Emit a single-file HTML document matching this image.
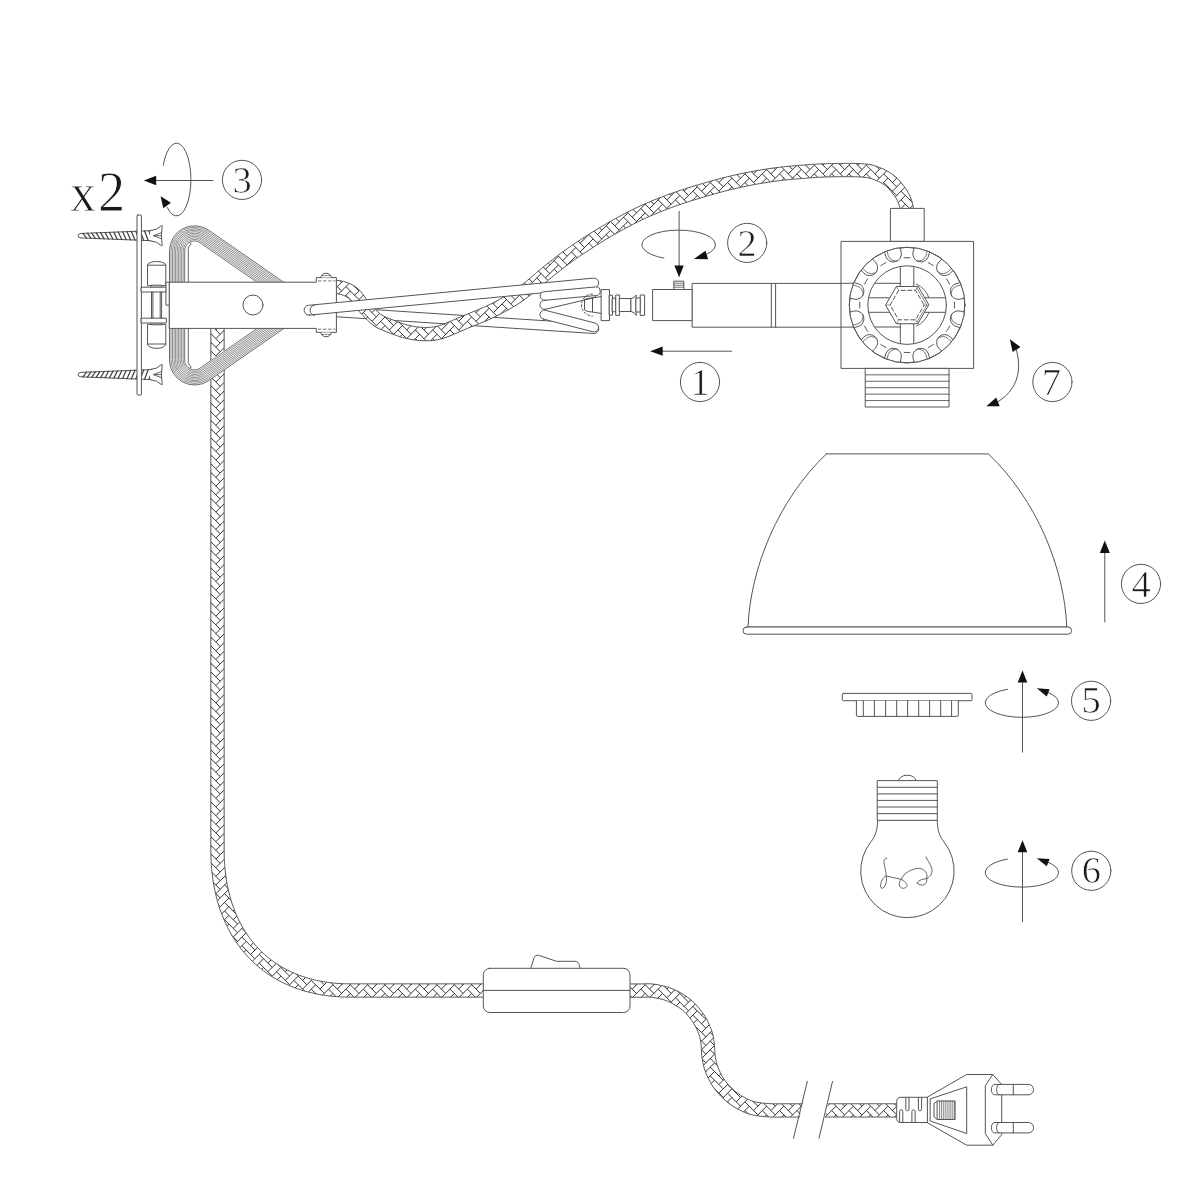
<!DOCTYPE html>
<html><head><meta charset="utf-8"><title>Assembly diagram</title>
<style>html,body{margin:0;padding:0;background:#fff;}svg{display:block;}</style></head>
<body>
<svg width="1200" height="1200" viewBox="0 0 1200 1200" font-family="Liberation Serif, serif">
<rect width="1200" height="1200" fill="#fff"/>
<g stroke="#555555" stroke-width="1.0" fill="none" stroke-linecap="round" stroke-linejoin="round">
<path d="M224.15,325.00 L224.15,327.00 L224.15,329.00 L224.15,331.00 L224.15,333.00 L224.15,335.00 L224.15,337.00 L224.15,339.00 L224.15,341.00 L224.15,343.00 L224.15,345.00 L224.15,347.00 L224.15,349.00 L224.15,351.00 L224.15,353.00 L224.15,355.00 L224.15,357.00 L224.15,359.00 L224.15,361.00 L224.15,363.00 L224.15,365.00 L224.15,367.00 L224.15,369.00 L224.15,371.00 L224.15,373.00 L224.15,375.00 L224.15,377.00 L224.15,379.00 L224.15,381.00 L224.15,383.00 L224.15,385.00 L224.15,387.00 L224.15,389.00 L224.15,391.00 L224.15,393.00 L224.15,395.00 L224.15,397.00 L224.15,399.00 L224.15,401.00 L224.15,403.00 L224.15,405.00 L224.15,407.00 L224.15,409.00 L224.15,411.00 L224.15,413.00 L224.15,415.00 L224.15,417.00 L224.15,419.00 L224.15,421.00 L224.15,423.00 L224.15,425.00 L224.15,427.00 L224.15,429.00 L224.15,431.00 L224.15,433.00 L224.15,435.00 L224.15,437.00 L224.15,439.00 L224.15,441.00 L224.15,443.00 L224.15,445.00 L224.15,447.00 L224.15,449.00 L224.15,451.00 L224.15,453.00 L224.15,455.00 L224.15,457.00 L224.15,459.00 L224.15,461.00 L224.15,463.00 L224.15,465.00 L224.15,467.00 L224.15,469.00 L224.15,471.00 L224.15,473.00 L224.15,475.00 L224.15,477.00 L224.15,479.00 L224.15,481.00 L224.15,483.00 L224.15,485.00 L224.15,487.00 L224.15,489.00 L224.15,491.00 L224.15,493.00 L224.15,495.00 L224.15,497.00 L224.15,499.00 L224.15,501.00 L224.15,503.00 L224.15,505.00 L224.15,507.00 L224.15,509.00 L224.15,511.00 L224.15,513.00 L224.15,515.00 L224.15,517.00 L224.15,519.00 L224.15,521.00 L224.15,523.00 L224.15,525.00 L224.15,527.00 L224.15,529.00 L224.15,531.00 L224.15,533.00 L224.15,535.00 L224.15,537.00 L224.15,539.00 L224.15,541.00 L224.15,543.00 L224.15,545.00 L224.15,547.00 L224.15,549.00 L224.15,551.00 L224.15,553.00 L224.15,555.00 L224.15,557.00 L224.15,559.00 L224.15,561.00 L224.15,563.00 L224.15,565.00 L224.15,567.00 L224.15,569.00 L224.15,571.00 L224.15,573.00 L224.15,575.00 L224.15,577.00 L224.15,579.00 L224.15,581.00 L224.15,583.00 L224.15,585.00 L224.15,587.00 L224.15,589.00 L224.15,591.00 L224.15,593.00 L224.15,595.00 L224.15,597.00 L224.15,599.00 L224.15,601.00 L224.15,603.00 L224.15,605.00 L224.15,607.00 L224.15,609.00 L224.15,611.00 L224.15,613.00 L224.15,615.00 L224.15,617.00 L224.15,619.00 L224.15,621.00 L224.15,623.00 L224.15,625.00 L224.15,627.00 L224.15,629.00 L224.15,631.00 L224.15,633.00 L224.15,635.00 L224.15,637.00 L224.15,639.00 L224.15,641.00 L224.15,643.00 L224.15,645.00 L224.15,647.00 L224.15,649.00 L224.15,651.00 L224.15,653.00 L224.15,655.00 L224.15,657.00 L224.15,659.00 L224.15,661.00 L224.15,663.00 L224.15,665.00 L224.15,667.00 L224.15,669.00 L224.15,671.00 L224.15,673.00 L224.15,675.00 L224.15,677.00 L224.15,679.00 L224.15,681.00 L224.15,683.00 L224.15,685.00 L224.15,687.00 L224.15,689.00 L224.15,691.00 L224.15,693.00 L224.15,695.00 L224.15,697.00 L224.15,699.00 L224.15,701.00 L224.15,703.00 L224.15,705.00 L224.15,707.00 L224.15,709.00 L224.15,711.00 L224.15,713.00 L224.15,715.00 L224.15,717.00 L224.15,719.00 L224.15,721.00 L224.15,723.00 L224.15,725.00 L224.15,727.00 L224.15,729.00 L224.15,731.00 L224.15,733.00 L224.15,735.00 L224.15,737.00 L224.15,739.00 L224.15,741.00 L224.15,743.00 L224.15,745.00 L224.15,747.00 L224.15,749.00 L224.15,751.00 L224.15,753.00 L224.15,755.00 L224.15,757.00 L224.15,759.00 L224.15,761.00 L224.15,763.00 L224.15,765.00 L224.15,767.00 L224.15,769.00 L224.15,771.00 L224.15,773.00 L224.15,775.00 L224.15,777.00 L224.15,779.00 L224.15,781.00 L224.15,783.00 L224.15,785.00 L224.15,787.00 L224.15,789.00 L224.15,791.00 L224.15,793.00 L224.15,795.00 L224.15,797.00 L224.15,799.00 L224.15,801.00 L224.15,803.00 L224.15,805.00 L224.15,807.00 L224.15,809.00 L224.15,811.00 L224.15,813.00 L224.15,815.00 L224.15,817.00 L224.15,819.00 L224.15,821.00 L224.15,823.00 L224.15,825.00 L224.15,827.00 L224.15,829.00 L224.15,831.00 L224.15,833.00 L224.15,835.00 L224.15,837.00 L224.15,839.00 L224.15,841.00 L224.15,843.00 L224.15,845.00 L224.15,847.00 L224.15,849.00 L224.16,850.95 L224.17,852.93 L224.21,854.85 L224.26,856.75 L224.34,858.75 L224.43,860.64 L224.53,862.57 L224.67,864.53 L224.82,866.42 L224.98,868.36 L225.18,870.29 L225.38,872.17 L225.61,874.13 L225.87,876.03 L226.13,877.90 L226.43,879.85 L226.74,881.74 L227.07,883.60 L227.43,885.52 L227.82,887.41 L228.21,889.25 L228.63,891.14 L229.09,893.03 L229.56,894.85 L230.04,896.69 L230.58,898.59 L231.11,900.39 L231.67,902.18 L232.27,904.04 L232.89,905.85 L233.52,907.61 L234.17,909.39 L234.88,911.22 L235.59,912.96 L236.32,914.68 L237.08,916.43 L237.90,918.21 L238.70,919.89 L239.53,921.56 L240.40,923.26 L241.32,924.98 L242.23,926.61 L243.15,928.22 L244.12,929.84 L245.15,931.50 L246.17,933.08 L247.20,934.62 L248.25,936.15 L249.38,937.72 L250.53,939.26 L251.66,940.72 L252.81,942.17 L254.01,943.63 L255.27,945.10 L256.52,946.50 L257.78,947.86 L259.05,949.20 L260.39,950.57 L261.78,951.91 L263.13,953.19 L264.50,954.43 L265.89,955.65 L267.36,956.90 L268.85,958.11 L270.30,959.25 L271.78,960.37 L273.29,961.48 L274.87,962.60 L276.44,963.65 L277.99,964.66 L279.55,965.65 L281.19,966.64 L282.87,967.61 L284.49,968.51 L286.12,969.39 L287.79,970.25 L289.53,971.11 L291.24,971.92 L292.93,972.68 L294.64,973.42 L296.44,974.17 L298.21,974.87 L299.95,975.52 L301.70,976.15 L303.56,976.79 L305.37,977.37 L307.15,977.92 L308.96,978.45 L310.85,978.97 L312.67,979.44 L314.49,979.89 L316.37,980.33 L318.27,980.73 L320.10,981.09 L321.95,981.44 L323.90,981.78 L325.76,982.07 L327.62,982.34 L329.57,982.60 L331.46,982.83 L333.33,983.03 L335.28,983.21 L337.20,983.37 L339.07,983.50 L341.03,983.62 L342.95,983.70 L344.84,983.77 L346.80,983.82 L348.72,983.84 L350.66,983.85 L352.66,983.85 L354.66,983.85 L356.66,983.85 L358.66,983.85 L360.66,983.85 L362.66,983.85 L364.66,983.85 L366.66,983.85 L368.66,983.85 L370.66,983.85 L372.66,983.85 L374.66,983.85 L376.66,983.85 L378.66,983.85 L380.66,983.85 L382.66,983.85 L384.66,983.85 L386.66,983.85 L388.66,983.85 L390.66,983.85 L392.66,983.85 L394.66,983.85 L396.66,983.85 L398.66,983.85 L400.66,983.85 L402.66,983.85 L404.66,983.85 L406.66,983.85 L408.66,983.85 L410.66,983.85 L412.66,983.85 L414.66,983.85 L416.66,983.85 L418.66,983.85 L420.66,983.85 L422.66,983.85 L424.66,983.85 L426.66,983.85 L428.66,983.85 L430.66,983.85 L432.66,983.85 L434.66,983.85 L436.66,983.85 L438.66,983.85 L440.66,983.85 L442.66,983.85 L444.66,983.85 L446.66,983.85 L448.66,983.85 L450.66,983.85 L452.66,983.85 L454.66,983.85 L456.66,983.85 L458.66,983.85 L460.66,983.85 L462.66,983.85 L464.66,983.85 L466.66,983.85 L468.66,983.85 L470.66,983.85 L472.66,983.85 L474.66,983.85 L476.66,983.85 L478.66,983.85 L480.66,983.85 L482.66,983.85 L484.66,983.85 L486.00,983.85 L486.00,997.15 L484.66,997.15 L482.66,997.15 L480.66,997.15 L478.66,997.15 L476.66,997.15 L474.66,997.15 L472.66,997.15 L470.66,997.15 L468.66,997.15 L466.66,997.15 L464.66,997.15 L462.66,997.15 L460.66,997.15 L458.66,997.15 L456.66,997.15 L454.66,997.15 L452.66,997.15 L450.66,997.15 L448.66,997.15 L446.66,997.15 L444.66,997.15 L442.66,997.15 L440.66,997.15 L438.66,997.15 L436.66,997.15 L434.66,997.15 L432.66,997.15 L430.66,997.15 L428.66,997.15 L426.66,997.15 L424.66,997.15 L422.66,997.15 L420.66,997.15 L418.66,997.15 L416.66,997.15 L414.66,997.15 L412.66,997.15 L410.66,997.15 L408.66,997.15 L406.66,997.15 L404.66,997.15 L402.66,997.15 L400.66,997.15 L398.66,997.15 L396.66,997.15 L394.66,997.15 L392.66,997.15 L390.66,997.15 L388.66,997.15 L386.66,997.15 L384.66,997.15 L382.66,997.15 L380.66,997.15 L378.66,997.15 L376.66,997.15 L374.66,997.15 L372.66,997.15 L370.66,997.15 L368.66,997.15 L366.66,997.15 L364.66,997.15 L362.66,997.15 L360.66,997.15 L358.66,997.15 L356.66,997.15 L354.66,997.15 L352.66,997.15 L350.66,997.15 L348.61,997.14 L346.53,997.12 L344.50,997.06 L342.38,996.99 L340.31,996.90 L338.27,996.78 L336.16,996.63 L334.09,996.46 L332.05,996.27 L329.95,996.04 L327.87,995.80 L325.85,995.53 L323.75,995.22 L321.66,994.89 L319.67,994.55 L317.59,994.16 L315.50,993.74 L313.49,993.31 L311.47,992.84 L309.40,992.33 L307.35,991.80 L305.39,991.26 L303.36,990.67 L301.32,990.04 L299.32,989.40 L297.39,988.73 L295.38,988.01 L293.37,987.26 L291.42,986.49 L289.53,985.70 L287.57,984.85 L285.62,983.97 L283.71,983.07 L281.86,982.16 L279.98,981.19 L278.08,980.17 L276.21,979.13 L274.43,978.10 L272.64,977.01 L270.82,975.87 L269.02,974.70 L267.28,973.52 L265.58,972.32 L263.87,971.07 L262.16,969.77 L260.47,968.44 L258.85,967.13 L257.27,965.79 L255.66,964.37 L254.07,962.92 L252.51,961.45 L251.03,960.01 L249.56,958.52 L248.08,956.97 L246.62,955.38 L245.22,953.80 L243.87,952.23 L242.53,950.60 L241.19,948.93 L239.88,947.23 L238.63,945.56 L237.43,943.88 L236.21,942.11 L235.02,940.33 L233.87,938.55 L232.79,936.81 L231.71,934.99 L230.64,933.14 L229.60,931.27 L228.63,929.46 L227.68,927.60 L226.73,925.69 L225.81,923.76 L224.96,921.90 L224.12,919.99 L223.29,918.02 L222.50,916.06 L221.76,914.16 L221.03,912.19 L220.31,910.18 L219.64,908.21 L219.01,906.26 L218.38,904.23 L217.78,902.20 L217.23,900.25 L216.69,898.22 L216.17,896.17 L215.68,894.17 L215.23,892.15 L214.79,890.08 L214.37,888.05 L214.00,886.04 L213.63,883.96 L213.29,881.91 L212.98,879.90 L212.68,877.81 L212.41,875.75 L212.17,873.73 L211.94,871.63 L211.74,869.58 L211.56,867.55 L211.40,865.45 L211.26,863.42 L211.15,861.35 L211.05,859.25 L210.97,857.25 L210.92,855.15 L210.87,853.07 L210.86,851.05 L210.85,849.00 L210.85,847.00 L210.85,845.00 L210.85,843.00 L210.85,841.00 L210.85,839.00 L210.85,837.00 L210.85,835.00 L210.85,833.00 L210.85,831.00 L210.85,829.00 L210.85,827.00 L210.85,825.00 L210.85,823.00 L210.85,821.00 L210.85,819.00 L210.85,817.00 L210.85,815.00 L210.85,813.00 L210.85,811.00 L210.85,809.00 L210.85,807.00 L210.85,805.00 L210.85,803.00 L210.85,801.00 L210.85,799.00 L210.85,797.00 L210.85,795.00 L210.85,793.00 L210.85,791.00 L210.85,789.00 L210.85,787.00 L210.85,785.00 L210.85,783.00 L210.85,781.00 L210.85,779.00 L210.85,777.00 L210.85,775.00 L210.85,773.00 L210.85,771.00 L210.85,769.00 L210.85,767.00 L210.85,765.00 L210.85,763.00 L210.85,761.00 L210.85,759.00 L210.85,757.00 L210.85,755.00 L210.85,753.00 L210.85,751.00 L210.85,749.00 L210.85,747.00 L210.85,745.00 L210.85,743.00 L210.85,741.00 L210.85,739.00 L210.85,737.00 L210.85,735.00 L210.85,733.00 L210.85,731.00 L210.85,729.00 L210.85,727.00 L210.85,725.00 L210.85,723.00 L210.85,721.00 L210.85,719.00 L210.85,717.00 L210.85,715.00 L210.85,713.00 L210.85,711.00 L210.85,709.00 L210.85,707.00 L210.85,705.00 L210.85,703.00 L210.85,701.00 L210.85,699.00 L210.85,697.00 L210.85,695.00 L210.85,693.00 L210.85,691.00 L210.85,689.00 L210.85,687.00 L210.85,685.00 L210.85,683.00 L210.85,681.00 L210.85,679.00 L210.85,677.00 L210.85,675.00 L210.85,673.00 L210.85,671.00 L210.85,669.00 L210.85,667.00 L210.85,665.00 L210.85,663.00 L210.85,661.00 L210.85,659.00 L210.85,657.00 L210.85,655.00 L210.85,653.00 L210.85,651.00 L210.85,649.00 L210.85,647.00 L210.85,645.00 L210.85,643.00 L210.85,641.00 L210.85,639.00 L210.85,637.00 L210.85,635.00 L210.85,633.00 L210.85,631.00 L210.85,629.00 L210.85,627.00 L210.85,625.00 L210.85,623.00 L210.85,621.00 L210.85,619.00 L210.85,617.00 L210.85,615.00 L210.85,613.00 L210.85,611.00 L210.85,609.00 L210.85,607.00 L210.85,605.00 L210.85,603.00 L210.85,601.00 L210.85,599.00 L210.85,597.00 L210.85,595.00 L210.85,593.00 L210.85,591.00 L210.85,589.00 L210.85,587.00 L210.85,585.00 L210.85,583.00 L210.85,581.00 L210.85,579.00 L210.85,577.00 L210.85,575.00 L210.85,573.00 L210.85,571.00 L210.85,569.00 L210.85,567.00 L210.85,565.00 L210.85,563.00 L210.85,561.00 L210.85,559.00 L210.85,557.00 L210.85,555.00 L210.85,553.00 L210.85,551.00 L210.85,549.00 L210.85,547.00 L210.85,545.00 L210.85,543.00 L210.85,541.00 L210.85,539.00 L210.85,537.00 L210.85,535.00 L210.85,533.00 L210.85,531.00 L210.85,529.00 L210.85,527.00 L210.85,525.00 L210.85,523.00 L210.85,521.00 L210.85,519.00 L210.85,517.00 L210.85,515.00 L210.85,513.00 L210.85,511.00 L210.85,509.00 L210.85,507.00 L210.85,505.00 L210.85,503.00 L210.85,501.00 L210.85,499.00 L210.85,497.00 L210.85,495.00 L210.85,493.00 L210.85,491.00 L210.85,489.00 L210.85,487.00 L210.85,485.00 L210.85,483.00 L210.85,481.00 L210.85,479.00 L210.85,477.00 L210.85,475.00 L210.85,473.00 L210.85,471.00 L210.85,469.00 L210.85,467.00 L210.85,465.00 L210.85,463.00 L210.85,461.00 L210.85,459.00 L210.85,457.00 L210.85,455.00 L210.85,453.00 L210.85,451.00 L210.85,449.00 L210.85,447.00 L210.85,445.00 L210.85,443.00 L210.85,441.00 L210.85,439.00 L210.85,437.00 L210.85,435.00 L210.85,433.00 L210.85,431.00 L210.85,429.00 L210.85,427.00 L210.85,425.00 L210.85,423.00 L210.85,421.00 L210.85,419.00 L210.85,417.00 L210.85,415.00 L210.85,413.00 L210.85,411.00 L210.85,409.00 L210.85,407.00 L210.85,405.00 L210.85,403.00 L210.85,401.00 L210.85,399.00 L210.85,397.00 L210.85,395.00 L210.85,393.00 L210.85,391.00 L210.85,389.00 L210.85,387.00 L210.85,385.00 L210.85,383.00 L210.85,381.00 L210.85,379.00 L210.85,377.00 L210.85,375.00 L210.85,373.00 L210.85,371.00 L210.85,369.00 L210.85,367.00 L210.85,365.00 L210.85,363.00 L210.85,361.00 L210.85,359.00 L210.85,357.00 L210.85,355.00 L210.85,353.00 L210.85,351.00 L210.85,349.00 L210.85,347.00 L210.85,345.00 L210.85,343.00 L210.85,341.00 L210.85,339.00 L210.85,337.00 L210.85,335.00 L210.85,333.00 L210.85,331.00 L210.85,329.00 L210.85,327.00 L210.85,325.00Z" fill="#fff" stroke="none"/>
<clipPath id="cb1"><path d="M224.15,325.00 L224.15,327.00 L224.15,329.00 L224.15,331.00 L224.15,333.00 L224.15,335.00 L224.15,337.00 L224.15,339.00 L224.15,341.00 L224.15,343.00 L224.15,345.00 L224.15,347.00 L224.15,349.00 L224.15,351.00 L224.15,353.00 L224.15,355.00 L224.15,357.00 L224.15,359.00 L224.15,361.00 L224.15,363.00 L224.15,365.00 L224.15,367.00 L224.15,369.00 L224.15,371.00 L224.15,373.00 L224.15,375.00 L224.15,377.00 L224.15,379.00 L224.15,381.00 L224.15,383.00 L224.15,385.00 L224.15,387.00 L224.15,389.00 L224.15,391.00 L224.15,393.00 L224.15,395.00 L224.15,397.00 L224.15,399.00 L224.15,401.00 L224.15,403.00 L224.15,405.00 L224.15,407.00 L224.15,409.00 L224.15,411.00 L224.15,413.00 L224.15,415.00 L224.15,417.00 L224.15,419.00 L224.15,421.00 L224.15,423.00 L224.15,425.00 L224.15,427.00 L224.15,429.00 L224.15,431.00 L224.15,433.00 L224.15,435.00 L224.15,437.00 L224.15,439.00 L224.15,441.00 L224.15,443.00 L224.15,445.00 L224.15,447.00 L224.15,449.00 L224.15,451.00 L224.15,453.00 L224.15,455.00 L224.15,457.00 L224.15,459.00 L224.15,461.00 L224.15,463.00 L224.15,465.00 L224.15,467.00 L224.15,469.00 L224.15,471.00 L224.15,473.00 L224.15,475.00 L224.15,477.00 L224.15,479.00 L224.15,481.00 L224.15,483.00 L224.15,485.00 L224.15,487.00 L224.15,489.00 L224.15,491.00 L224.15,493.00 L224.15,495.00 L224.15,497.00 L224.15,499.00 L224.15,501.00 L224.15,503.00 L224.15,505.00 L224.15,507.00 L224.15,509.00 L224.15,511.00 L224.15,513.00 L224.15,515.00 L224.15,517.00 L224.15,519.00 L224.15,521.00 L224.15,523.00 L224.15,525.00 L224.15,527.00 L224.15,529.00 L224.15,531.00 L224.15,533.00 L224.15,535.00 L224.15,537.00 L224.15,539.00 L224.15,541.00 L224.15,543.00 L224.15,545.00 L224.15,547.00 L224.15,549.00 L224.15,551.00 L224.15,553.00 L224.15,555.00 L224.15,557.00 L224.15,559.00 L224.15,561.00 L224.15,563.00 L224.15,565.00 L224.15,567.00 L224.15,569.00 L224.15,571.00 L224.15,573.00 L224.15,575.00 L224.15,577.00 L224.15,579.00 L224.15,581.00 L224.15,583.00 L224.15,585.00 L224.15,587.00 L224.15,589.00 L224.15,591.00 L224.15,593.00 L224.15,595.00 L224.15,597.00 L224.15,599.00 L224.15,601.00 L224.15,603.00 L224.15,605.00 L224.15,607.00 L224.15,609.00 L224.15,611.00 L224.15,613.00 L224.15,615.00 L224.15,617.00 L224.15,619.00 L224.15,621.00 L224.15,623.00 L224.15,625.00 L224.15,627.00 L224.15,629.00 L224.15,631.00 L224.15,633.00 L224.15,635.00 L224.15,637.00 L224.15,639.00 L224.15,641.00 L224.15,643.00 L224.15,645.00 L224.15,647.00 L224.15,649.00 L224.15,651.00 L224.15,653.00 L224.15,655.00 L224.15,657.00 L224.15,659.00 L224.15,661.00 L224.15,663.00 L224.15,665.00 L224.15,667.00 L224.15,669.00 L224.15,671.00 L224.15,673.00 L224.15,675.00 L224.15,677.00 L224.15,679.00 L224.15,681.00 L224.15,683.00 L224.15,685.00 L224.15,687.00 L224.15,689.00 L224.15,691.00 L224.15,693.00 L224.15,695.00 L224.15,697.00 L224.15,699.00 L224.15,701.00 L224.15,703.00 L224.15,705.00 L224.15,707.00 L224.15,709.00 L224.15,711.00 L224.15,713.00 L224.15,715.00 L224.15,717.00 L224.15,719.00 L224.15,721.00 L224.15,723.00 L224.15,725.00 L224.15,727.00 L224.15,729.00 L224.15,731.00 L224.15,733.00 L224.15,735.00 L224.15,737.00 L224.15,739.00 L224.15,741.00 L224.15,743.00 L224.15,745.00 L224.15,747.00 L224.15,749.00 L224.15,751.00 L224.15,753.00 L224.15,755.00 L224.15,757.00 L224.15,759.00 L224.15,761.00 L224.15,763.00 L224.15,765.00 L224.15,767.00 L224.15,769.00 L224.15,771.00 L224.15,773.00 L224.15,775.00 L224.15,777.00 L224.15,779.00 L224.15,781.00 L224.15,783.00 L224.15,785.00 L224.15,787.00 L224.15,789.00 L224.15,791.00 L224.15,793.00 L224.15,795.00 L224.15,797.00 L224.15,799.00 L224.15,801.00 L224.15,803.00 L224.15,805.00 L224.15,807.00 L224.15,809.00 L224.15,811.00 L224.15,813.00 L224.15,815.00 L224.15,817.00 L224.15,819.00 L224.15,821.00 L224.15,823.00 L224.15,825.00 L224.15,827.00 L224.15,829.00 L224.15,831.00 L224.15,833.00 L224.15,835.00 L224.15,837.00 L224.15,839.00 L224.15,841.00 L224.15,843.00 L224.15,845.00 L224.15,847.00 L224.15,849.00 L224.16,850.95 L224.17,852.93 L224.21,854.85 L224.26,856.75 L224.34,858.75 L224.43,860.64 L224.53,862.57 L224.67,864.53 L224.82,866.42 L224.98,868.36 L225.18,870.29 L225.38,872.17 L225.61,874.13 L225.87,876.03 L226.13,877.90 L226.43,879.85 L226.74,881.74 L227.07,883.60 L227.43,885.52 L227.82,887.41 L228.21,889.25 L228.63,891.14 L229.09,893.03 L229.56,894.85 L230.04,896.69 L230.58,898.59 L231.11,900.39 L231.67,902.18 L232.27,904.04 L232.89,905.85 L233.52,907.61 L234.17,909.39 L234.88,911.22 L235.59,912.96 L236.32,914.68 L237.08,916.43 L237.90,918.21 L238.70,919.89 L239.53,921.56 L240.40,923.26 L241.32,924.98 L242.23,926.61 L243.15,928.22 L244.12,929.84 L245.15,931.50 L246.17,933.08 L247.20,934.62 L248.25,936.15 L249.38,937.72 L250.53,939.26 L251.66,940.72 L252.81,942.17 L254.01,943.63 L255.27,945.10 L256.52,946.50 L257.78,947.86 L259.05,949.20 L260.39,950.57 L261.78,951.91 L263.13,953.19 L264.50,954.43 L265.89,955.65 L267.36,956.90 L268.85,958.11 L270.30,959.25 L271.78,960.37 L273.29,961.48 L274.87,962.60 L276.44,963.65 L277.99,964.66 L279.55,965.65 L281.19,966.64 L282.87,967.61 L284.49,968.51 L286.12,969.39 L287.79,970.25 L289.53,971.11 L291.24,971.92 L292.93,972.68 L294.64,973.42 L296.44,974.17 L298.21,974.87 L299.95,975.52 L301.70,976.15 L303.56,976.79 L305.37,977.37 L307.15,977.92 L308.96,978.45 L310.85,978.97 L312.67,979.44 L314.49,979.89 L316.37,980.33 L318.27,980.73 L320.10,981.09 L321.95,981.44 L323.90,981.78 L325.76,982.07 L327.62,982.34 L329.57,982.60 L331.46,982.83 L333.33,983.03 L335.28,983.21 L337.20,983.37 L339.07,983.50 L341.03,983.62 L342.95,983.70 L344.84,983.77 L346.80,983.82 L348.72,983.84 L350.66,983.85 L352.66,983.85 L354.66,983.85 L356.66,983.85 L358.66,983.85 L360.66,983.85 L362.66,983.85 L364.66,983.85 L366.66,983.85 L368.66,983.85 L370.66,983.85 L372.66,983.85 L374.66,983.85 L376.66,983.85 L378.66,983.85 L380.66,983.85 L382.66,983.85 L384.66,983.85 L386.66,983.85 L388.66,983.85 L390.66,983.85 L392.66,983.85 L394.66,983.85 L396.66,983.85 L398.66,983.85 L400.66,983.85 L402.66,983.85 L404.66,983.85 L406.66,983.85 L408.66,983.85 L410.66,983.85 L412.66,983.85 L414.66,983.85 L416.66,983.85 L418.66,983.85 L420.66,983.85 L422.66,983.85 L424.66,983.85 L426.66,983.85 L428.66,983.85 L430.66,983.85 L432.66,983.85 L434.66,983.85 L436.66,983.85 L438.66,983.85 L440.66,983.85 L442.66,983.85 L444.66,983.85 L446.66,983.85 L448.66,983.85 L450.66,983.85 L452.66,983.85 L454.66,983.85 L456.66,983.85 L458.66,983.85 L460.66,983.85 L462.66,983.85 L464.66,983.85 L466.66,983.85 L468.66,983.85 L470.66,983.85 L472.66,983.85 L474.66,983.85 L476.66,983.85 L478.66,983.85 L480.66,983.85 L482.66,983.85 L484.66,983.85 L486.00,983.85 L486.00,997.15 L484.66,997.15 L482.66,997.15 L480.66,997.15 L478.66,997.15 L476.66,997.15 L474.66,997.15 L472.66,997.15 L470.66,997.15 L468.66,997.15 L466.66,997.15 L464.66,997.15 L462.66,997.15 L460.66,997.15 L458.66,997.15 L456.66,997.15 L454.66,997.15 L452.66,997.15 L450.66,997.15 L448.66,997.15 L446.66,997.15 L444.66,997.15 L442.66,997.15 L440.66,997.15 L438.66,997.15 L436.66,997.15 L434.66,997.15 L432.66,997.15 L430.66,997.15 L428.66,997.15 L426.66,997.15 L424.66,997.15 L422.66,997.15 L420.66,997.15 L418.66,997.15 L416.66,997.15 L414.66,997.15 L412.66,997.15 L410.66,997.15 L408.66,997.15 L406.66,997.15 L404.66,997.15 L402.66,997.15 L400.66,997.15 L398.66,997.15 L396.66,997.15 L394.66,997.15 L392.66,997.15 L390.66,997.15 L388.66,997.15 L386.66,997.15 L384.66,997.15 L382.66,997.15 L380.66,997.15 L378.66,997.15 L376.66,997.15 L374.66,997.15 L372.66,997.15 L370.66,997.15 L368.66,997.15 L366.66,997.15 L364.66,997.15 L362.66,997.15 L360.66,997.15 L358.66,997.15 L356.66,997.15 L354.66,997.15 L352.66,997.15 L350.66,997.15 L348.61,997.14 L346.53,997.12 L344.50,997.06 L342.38,996.99 L340.31,996.90 L338.27,996.78 L336.16,996.63 L334.09,996.46 L332.05,996.27 L329.95,996.04 L327.87,995.80 L325.85,995.53 L323.75,995.22 L321.66,994.89 L319.67,994.55 L317.59,994.16 L315.50,993.74 L313.49,993.31 L311.47,992.84 L309.40,992.33 L307.35,991.80 L305.39,991.26 L303.36,990.67 L301.32,990.04 L299.32,989.40 L297.39,988.73 L295.38,988.01 L293.37,987.26 L291.42,986.49 L289.53,985.70 L287.57,984.85 L285.62,983.97 L283.71,983.07 L281.86,982.16 L279.98,981.19 L278.08,980.17 L276.21,979.13 L274.43,978.10 L272.64,977.01 L270.82,975.87 L269.02,974.70 L267.28,973.52 L265.58,972.32 L263.87,971.07 L262.16,969.77 L260.47,968.44 L258.85,967.13 L257.27,965.79 L255.66,964.37 L254.07,962.92 L252.51,961.45 L251.03,960.01 L249.56,958.52 L248.08,956.97 L246.62,955.38 L245.22,953.80 L243.87,952.23 L242.53,950.60 L241.19,948.93 L239.88,947.23 L238.63,945.56 L237.43,943.88 L236.21,942.11 L235.02,940.33 L233.87,938.55 L232.79,936.81 L231.71,934.99 L230.64,933.14 L229.60,931.27 L228.63,929.46 L227.68,927.60 L226.73,925.69 L225.81,923.76 L224.96,921.90 L224.12,919.99 L223.29,918.02 L222.50,916.06 L221.76,914.16 L221.03,912.19 L220.31,910.18 L219.64,908.21 L219.01,906.26 L218.38,904.23 L217.78,902.20 L217.23,900.25 L216.69,898.22 L216.17,896.17 L215.68,894.17 L215.23,892.15 L214.79,890.08 L214.37,888.05 L214.00,886.04 L213.63,883.96 L213.29,881.91 L212.98,879.90 L212.68,877.81 L212.41,875.75 L212.17,873.73 L211.94,871.63 L211.74,869.58 L211.56,867.55 L211.40,865.45 L211.26,863.42 L211.15,861.35 L211.05,859.25 L210.97,857.25 L210.92,855.15 L210.87,853.07 L210.86,851.05 L210.85,849.00 L210.85,847.00 L210.85,845.00 L210.85,843.00 L210.85,841.00 L210.85,839.00 L210.85,837.00 L210.85,835.00 L210.85,833.00 L210.85,831.00 L210.85,829.00 L210.85,827.00 L210.85,825.00 L210.85,823.00 L210.85,821.00 L210.85,819.00 L210.85,817.00 L210.85,815.00 L210.85,813.00 L210.85,811.00 L210.85,809.00 L210.85,807.00 L210.85,805.00 L210.85,803.00 L210.85,801.00 L210.85,799.00 L210.85,797.00 L210.85,795.00 L210.85,793.00 L210.85,791.00 L210.85,789.00 L210.85,787.00 L210.85,785.00 L210.85,783.00 L210.85,781.00 L210.85,779.00 L210.85,777.00 L210.85,775.00 L210.85,773.00 L210.85,771.00 L210.85,769.00 L210.85,767.00 L210.85,765.00 L210.85,763.00 L210.85,761.00 L210.85,759.00 L210.85,757.00 L210.85,755.00 L210.85,753.00 L210.85,751.00 L210.85,749.00 L210.85,747.00 L210.85,745.00 L210.85,743.00 L210.85,741.00 L210.85,739.00 L210.85,737.00 L210.85,735.00 L210.85,733.00 L210.85,731.00 L210.85,729.00 L210.85,727.00 L210.85,725.00 L210.85,723.00 L210.85,721.00 L210.85,719.00 L210.85,717.00 L210.85,715.00 L210.85,713.00 L210.85,711.00 L210.85,709.00 L210.85,707.00 L210.85,705.00 L210.85,703.00 L210.85,701.00 L210.85,699.00 L210.85,697.00 L210.85,695.00 L210.85,693.00 L210.85,691.00 L210.85,689.00 L210.85,687.00 L210.85,685.00 L210.85,683.00 L210.85,681.00 L210.85,679.00 L210.85,677.00 L210.85,675.00 L210.85,673.00 L210.85,671.00 L210.85,669.00 L210.85,667.00 L210.85,665.00 L210.85,663.00 L210.85,661.00 L210.85,659.00 L210.85,657.00 L210.85,655.00 L210.85,653.00 L210.85,651.00 L210.85,649.00 L210.85,647.00 L210.85,645.00 L210.85,643.00 L210.85,641.00 L210.85,639.00 L210.85,637.00 L210.85,635.00 L210.85,633.00 L210.85,631.00 L210.85,629.00 L210.85,627.00 L210.85,625.00 L210.85,623.00 L210.85,621.00 L210.85,619.00 L210.85,617.00 L210.85,615.00 L210.85,613.00 L210.85,611.00 L210.85,609.00 L210.85,607.00 L210.85,605.00 L210.85,603.00 L210.85,601.00 L210.85,599.00 L210.85,597.00 L210.85,595.00 L210.85,593.00 L210.85,591.00 L210.85,589.00 L210.85,587.00 L210.85,585.00 L210.85,583.00 L210.85,581.00 L210.85,579.00 L210.85,577.00 L210.85,575.00 L210.85,573.00 L210.85,571.00 L210.85,569.00 L210.85,567.00 L210.85,565.00 L210.85,563.00 L210.85,561.00 L210.85,559.00 L210.85,557.00 L210.85,555.00 L210.85,553.00 L210.85,551.00 L210.85,549.00 L210.85,547.00 L210.85,545.00 L210.85,543.00 L210.85,541.00 L210.85,539.00 L210.85,537.00 L210.85,535.00 L210.85,533.00 L210.85,531.00 L210.85,529.00 L210.85,527.00 L210.85,525.00 L210.85,523.00 L210.85,521.00 L210.85,519.00 L210.85,517.00 L210.85,515.00 L210.85,513.00 L210.85,511.00 L210.85,509.00 L210.85,507.00 L210.85,505.00 L210.85,503.00 L210.85,501.00 L210.85,499.00 L210.85,497.00 L210.85,495.00 L210.85,493.00 L210.85,491.00 L210.85,489.00 L210.85,487.00 L210.85,485.00 L210.85,483.00 L210.85,481.00 L210.85,479.00 L210.85,477.00 L210.85,475.00 L210.85,473.00 L210.85,471.00 L210.85,469.00 L210.85,467.00 L210.85,465.00 L210.85,463.00 L210.85,461.00 L210.85,459.00 L210.85,457.00 L210.85,455.00 L210.85,453.00 L210.85,451.00 L210.85,449.00 L210.85,447.00 L210.85,445.00 L210.85,443.00 L210.85,441.00 L210.85,439.00 L210.85,437.00 L210.85,435.00 L210.85,433.00 L210.85,431.00 L210.85,429.00 L210.85,427.00 L210.85,425.00 L210.85,423.00 L210.85,421.00 L210.85,419.00 L210.85,417.00 L210.85,415.00 L210.85,413.00 L210.85,411.00 L210.85,409.00 L210.85,407.00 L210.85,405.00 L210.85,403.00 L210.85,401.00 L210.85,399.00 L210.85,397.00 L210.85,395.00 L210.85,393.00 L210.85,391.00 L210.85,389.00 L210.85,387.00 L210.85,385.00 L210.85,383.00 L210.85,381.00 L210.85,379.00 L210.85,377.00 L210.85,375.00 L210.85,373.00 L210.85,371.00 L210.85,369.00 L210.85,367.00 L210.85,365.00 L210.85,363.00 L210.85,361.00 L210.85,359.00 L210.85,357.00 L210.85,355.00 L210.85,353.00 L210.85,351.00 L210.85,349.00 L210.85,347.00 L210.85,345.00 L210.85,343.00 L210.85,341.00 L210.85,339.00 L210.85,337.00 L210.85,335.00 L210.85,333.00 L210.85,331.00 L210.85,329.00 L210.85,327.00 L210.85,325.00Z"/></clipPath>
<path clip-path="url(#cb1)" d="M189.84,286.59L202.85,299.60M211.53,290.92L198.52,303.93M189.84,295.26L202.85,308.27M211.53,299.60L198.52,312.61M189.84,303.93L202.85,316.94M211.53,308.27L198.52,321.28M189.84,312.61L202.85,325.62M211.53,316.94L198.52,329.95M189.84,321.28L202.85,334.29M211.53,325.62L198.52,338.63M189.84,329.95L202.85,342.96M211.53,334.29L198.52,347.30M189.84,338.63L202.85,351.63M211.53,342.96L198.52,355.97M189.84,347.30L202.85,360.31M211.53,351.63L198.52,364.64M189.84,355.97L202.85,368.98M211.53,360.31L198.52,373.32M189.84,364.64L202.85,377.65M211.53,368.98L198.52,381.99M189.84,373.32L202.85,386.33M211.53,377.65L198.52,390.66M189.84,381.99L202.85,395.00M211.53,386.33L198.52,399.34M189.84,390.66L202.85,403.67M211.53,395.00L198.52,408.01M189.84,399.34L202.85,412.35M211.53,403.67L198.52,416.68M189.84,408.01L202.85,421.02M211.53,412.35L198.52,425.36M189.84,416.68L202.85,429.69M211.53,421.02L198.52,434.03M189.84,425.36L202.85,438.37M211.53,429.69L198.52,442.70M189.84,434.03L202.85,447.04M211.53,438.37L198.52,451.37M189.84,442.70L202.85,455.71M211.53,447.04L198.52,460.05M189.84,451.37L202.85,464.38M211.53,455.71L198.52,468.72M189.84,460.05L202.85,473.06M211.53,464.38L198.52,477.39M189.84,468.72L202.85,481.73M211.53,473.06L198.52,486.07M189.84,477.39L202.85,490.40M211.53,481.73L198.52,494.74M189.84,486.07L202.85,499.08M211.53,490.40L198.52,503.41M189.84,494.74L202.85,507.75M211.53,499.08L198.52,512.09M189.84,503.41L202.85,516.42M211.53,507.75L198.52,520.76M189.84,512.09L202.85,525.10M211.53,516.42L198.52,529.43M189.84,520.76L202.85,533.77M211.53,525.10L198.52,538.10M189.84,529.43L202.85,542.44M211.53,533.77L198.52,546.78M189.84,538.10L202.85,551.11M211.53,542.44L198.52,555.45M189.84,546.78L202.85,559.79M211.53,551.11L198.52,564.12M189.84,555.45L202.85,568.46M211.53,559.79L198.52,572.80M189.84,564.12L202.85,577.13M211.53,568.46L198.52,581.47M189.84,572.80L202.85,585.81M211.53,577.13L198.52,590.14M189.84,581.47L202.85,594.48M211.53,585.81L198.52,598.82M189.84,590.14L202.85,603.15M211.53,594.48L198.52,607.49M189.84,598.82L202.85,611.83M211.53,603.15L198.52,616.16M189.84,607.49L202.85,620.50M211.53,611.83L198.52,624.83M189.84,616.16L202.85,629.17M211.53,620.50L198.52,633.51M189.84,624.83L202.85,637.84M211.53,629.17L198.52,642.18M189.84,633.51L202.85,646.52M211.53,637.84L198.52,650.85M189.84,642.18L202.85,655.19M211.53,646.52L198.52,659.53M189.84,650.85L202.85,663.86M211.53,655.19L198.52,668.20M189.84,659.53L202.85,672.54M211.53,663.86L198.52,676.87M189.84,668.20L202.85,681.21M211.53,672.54L198.52,685.55M189.84,676.87L202.85,689.88M211.53,681.21L198.52,694.22M189.84,685.55L202.85,698.56M211.53,689.88L198.52,702.89M189.84,694.22L202.85,707.23M211.53,698.56L198.52,711.56M189.84,702.89L202.85,715.90M211.53,707.23L198.52,720.24M189.84,711.56L202.85,724.57M211.53,715.90L198.52,728.91M189.84,720.24L202.85,733.25M211.53,724.57L198.52,737.58M189.84,728.91L202.85,741.92M211.53,733.25L198.52,746.26M189.84,737.58L202.85,750.59M211.53,741.92L198.52,754.93M189.84,746.26L202.85,759.27M211.53,750.59L198.52,763.60M189.84,754.93L202.85,767.94M211.53,759.27L198.52,772.28M189.84,763.60L202.85,776.61M211.53,767.94L198.52,780.95M189.84,772.28L202.85,785.29M211.53,776.61L198.52,789.62M189.84,780.95L202.85,793.96M211.53,785.29L198.52,798.29M189.84,789.62L202.85,802.63M211.53,793.96L198.52,806.97M189.84,798.29L202.85,811.30M211.53,802.63L198.52,815.64M189.84,806.97L202.85,819.98M211.53,811.30L198.52,824.31M189.84,815.64L202.85,828.65M211.53,819.98L198.52,832.99M189.84,824.31L202.85,837.32M211.53,828.65L198.52,841.66M189.84,832.99L202.85,846.00M211.53,837.32L198.52,850.33M189.84,841.66L202.85,854.67M211.53,846.00L198.52,859.01M189.84,850.33L202.85,863.34M211.53,854.67L198.52,867.68M189.84,859.01L202.85,872.01M211.53,863.34L198.52,876.35M189.84,867.68L202.85,880.69M211.53,872.01L198.52,885.02M189.84,876.35L202.85,889.36M211.53,880.69L198.52,893.70M189.84,885.02L202.85,898.03M211.53,889.36L198.52,902.37M189.84,893.70L202.85,906.71M211.53,898.03L198.52,911.04M189.84,902.37L202.85,915.38M211.53,906.71L198.52,919.72M189.84,911.04L202.85,924.05M211.53,915.38L198.52,928.39M207.19,286.59L220.20,299.60M228.87,290.92L215.86,303.93M207.19,295.26L220.20,308.27M228.87,299.60L215.86,312.61M207.19,303.93L220.20,316.94M228.87,308.27L215.86,321.28M207.19,312.61L220.20,325.62M228.87,316.94L215.86,329.95M207.19,321.28L220.20,334.29M228.87,325.62L215.86,338.63M207.19,329.95L220.20,342.96M228.87,334.29L215.86,347.30M207.19,338.63L220.20,351.63M228.87,342.96L215.86,355.97M207.19,347.30L220.20,360.31M228.87,351.63L215.86,364.64M207.19,355.97L220.20,368.98M228.87,360.31L215.86,373.32M207.19,364.64L220.20,377.65M228.87,368.98L215.86,381.99M207.19,373.32L220.20,386.33M228.87,377.65L215.86,390.66M207.19,381.99L220.20,395.00M228.87,386.33L215.86,399.34M207.19,390.66L220.20,403.67M228.87,395.00L215.86,408.01M207.19,399.34L220.20,412.35M228.87,403.67L215.86,416.68M207.19,408.01L220.20,421.02M228.87,412.35L215.86,425.36M207.19,416.68L220.20,429.69M228.87,421.02L215.86,434.03M207.19,425.36L220.20,438.37M228.87,429.69L215.86,442.70M207.19,434.03L220.20,447.04M228.87,438.37L215.86,451.37M207.19,442.70L220.20,455.71M228.87,447.04L215.86,460.05M207.19,451.37L220.20,464.38M228.87,455.71L215.86,468.72M207.19,460.05L220.20,473.06M228.87,464.38L215.86,477.39M207.19,468.72L220.20,481.73M228.87,473.06L215.86,486.07M207.19,477.39L220.20,490.40M228.87,481.73L215.86,494.74M207.19,486.07L220.20,499.08M228.87,490.40L215.86,503.41M207.19,494.74L220.20,507.75M228.87,499.08L215.86,512.09M207.19,503.41L220.20,516.42M228.87,507.75L215.86,520.76M207.19,512.09L220.20,525.10M228.87,516.42L215.86,529.43M207.19,520.76L220.20,533.77M228.87,525.10L215.86,538.10M207.19,529.43L220.20,542.44M228.87,533.77L215.86,546.78M207.19,538.10L220.20,551.11M228.87,542.44L215.86,555.45M207.19,546.78L220.20,559.79M228.87,551.11L215.86,564.12M207.19,555.45L220.20,568.46M228.87,559.79L215.86,572.80M207.19,564.12L220.20,577.13M228.87,568.46L215.86,581.47M207.19,572.80L220.20,585.81M228.87,577.13L215.86,590.14M207.19,581.47L220.20,594.48M228.87,585.81L215.86,598.82M207.19,590.14L220.20,603.15M228.87,594.48L215.86,607.49M207.19,598.82L220.20,611.83M228.87,603.15L215.86,616.16M207.19,607.49L220.20,620.50M228.87,611.83L215.86,624.83M207.19,616.16L220.20,629.17M228.87,620.50L215.86,633.51M207.19,624.83L220.20,637.84M228.87,629.17L215.86,642.18M207.19,633.51L220.20,646.52M228.87,637.84L215.86,650.85M207.19,642.18L220.20,655.19M228.87,646.52L215.86,659.53M207.19,650.85L220.20,663.86M228.87,655.19L215.86,668.20M207.19,659.53L220.20,672.54M228.87,663.86L215.86,676.87M207.19,668.20L220.20,681.21M228.87,672.54L215.86,685.55M207.19,676.87L220.20,689.88M228.87,681.21L215.86,694.22M207.19,685.55L220.20,698.56M228.87,689.88L215.86,702.89M207.19,694.22L220.20,707.23M228.87,698.56L215.86,711.56M207.19,702.89L220.20,715.90M228.87,707.23L215.86,720.24M207.19,711.56L220.20,724.57M228.87,715.90L215.86,728.91M207.19,720.24L220.20,733.25M228.87,724.57L215.86,737.58M207.19,728.91L220.20,741.92M228.87,733.25L215.86,746.26M207.19,737.58L220.20,750.59M228.87,741.92L215.86,754.93M207.19,746.26L220.20,759.27M228.87,750.59L215.86,763.60M207.19,754.93L220.20,767.94M228.87,759.27L215.86,772.28M207.19,763.60L220.20,776.61M228.87,767.94L215.86,780.95M207.19,772.28L220.20,785.29M228.87,776.61L215.86,789.62M207.19,780.95L220.20,793.96M228.87,785.29L215.86,798.29M207.19,789.62L220.20,802.63M228.87,793.96L215.86,806.97M207.19,798.29L220.20,811.30M228.87,802.63L215.86,815.64M207.19,806.97L220.20,819.98M228.87,811.30L215.86,824.31M207.19,815.64L220.20,828.65M228.87,819.98L215.86,832.99M207.19,824.31L220.20,837.32M228.87,828.65L215.86,841.66M207.19,832.99L220.20,846.00M228.87,837.32L215.86,850.33M207.19,841.66L220.20,854.67M228.87,846.00L215.86,859.01M207.19,850.33L220.20,863.34M228.87,854.67L215.86,867.68M207.19,859.01L220.20,872.01M228.87,863.34L215.86,876.35M207.19,867.68L220.20,880.69M228.87,872.01L215.86,885.02M207.19,876.35L220.20,889.36M228.87,880.69L215.86,893.70M207.19,885.02L220.20,898.03M228.87,889.36L215.86,902.37M207.19,893.70L220.20,906.71M228.87,898.03L215.86,911.04M207.19,902.37L220.20,915.38M228.87,906.71L215.86,919.72M207.19,911.04L220.20,924.05M228.87,915.38L215.86,928.39M207.19,919.72L220.20,932.73M228.87,924.05L215.86,937.06M207.19,928.39L220.20,941.40M228.87,932.73L215.86,945.74M207.19,937.06L220.20,950.07M228.87,941.40L215.86,954.41M207.19,945.74L220.20,958.75M228.87,950.07L215.86,963.08M224.54,295.26L237.55,308.27M246.22,299.60L233.21,312.61M224.54,303.93L237.55,316.94M246.22,308.27L233.21,321.28M224.54,312.61L237.55,325.62M246.22,316.94L233.21,329.95M224.54,321.28L237.55,334.29M246.22,325.62L233.21,338.63M224.54,329.95L237.55,342.96M246.22,334.29L233.21,347.30M224.54,338.63L237.55,351.63M246.22,342.96L233.21,355.97M224.54,347.30L237.55,360.31M246.22,351.63L233.21,364.64M224.54,355.97L237.55,368.98M246.22,360.31L233.21,373.32M224.54,364.64L237.55,377.65M246.22,368.98L233.21,381.99M224.54,373.32L237.55,386.33M246.22,377.65L233.21,390.66M224.54,381.99L237.55,395.00M246.22,386.33L233.21,399.34M224.54,390.66L237.55,403.67M246.22,395.00L233.21,408.01M224.54,399.34L237.55,412.35M246.22,403.67L233.21,416.68M224.54,408.01L237.55,421.02M246.22,412.35L233.21,425.36M224.54,416.68L237.55,429.69M246.22,421.02L233.21,434.03M224.54,425.36L237.55,438.37M246.22,429.69L233.21,442.70M224.54,434.03L237.55,447.04M246.22,438.37L233.21,451.37M224.54,442.70L237.55,455.71M246.22,447.04L233.21,460.05M224.54,451.37L237.55,464.38M246.22,455.71L233.21,468.72M224.54,460.05L237.55,473.06M246.22,464.38L233.21,477.39M224.54,468.72L237.55,481.73M246.22,473.06L233.21,486.07M224.54,477.39L237.55,490.40M246.22,481.73L233.21,494.74M224.54,486.07L237.55,499.08M246.22,490.40L233.21,503.41M224.54,494.74L237.55,507.75M246.22,499.08L233.21,512.09M224.54,503.41L237.55,516.42M246.22,507.75L233.21,520.76M224.54,512.09L237.55,525.10M246.22,516.42L233.21,529.43M224.54,520.76L237.55,533.77M246.22,525.10L233.21,538.10M224.54,529.43L237.55,542.44M246.22,533.77L233.21,546.78M224.54,538.10L237.55,551.11M246.22,542.44L233.21,555.45M224.54,546.78L237.55,559.79M246.22,551.11L233.21,564.12M224.54,555.45L237.55,568.46M246.22,559.79L233.21,572.80M224.54,564.12L237.55,577.13M246.22,568.46L233.21,581.47M224.54,572.80L237.55,585.81M246.22,577.13L233.21,590.14M224.54,581.47L237.55,594.48M246.22,585.81L233.21,598.82M224.54,590.14L237.55,603.15M246.22,594.48L233.21,607.49M224.54,598.82L237.55,611.83M246.22,603.15L233.21,616.16M224.54,607.49L237.55,620.50M246.22,611.83L233.21,624.83M224.54,616.16L237.55,629.17M246.22,620.50L233.21,633.51M224.54,624.83L237.55,637.84M246.22,629.17L233.21,642.18M224.54,633.51L237.55,646.52M246.22,637.84L233.21,650.85M224.54,642.18L237.55,655.19M246.22,646.52L233.21,659.53M224.54,650.85L237.55,663.86M246.22,655.19L233.21,668.20M224.54,659.53L237.55,672.54M246.22,663.86L233.21,676.87M224.54,668.20L237.55,681.21M246.22,672.54L233.21,685.55M224.54,676.87L237.55,689.88M246.22,681.21L233.21,694.22M224.54,685.55L237.55,698.56M246.22,689.88L233.21,702.89M224.54,694.22L237.55,707.23M246.22,698.56L233.21,711.56M224.54,702.89L237.55,715.90M246.22,707.23L233.21,720.24M224.54,711.56L237.55,724.57M246.22,715.90L233.21,728.91M224.54,720.24L237.55,733.25M246.22,724.57L233.21,737.58M224.54,728.91L237.55,741.92M246.22,733.25L233.21,746.26M224.54,737.58L237.55,750.59M246.22,741.92L233.21,754.93M224.54,746.26L237.55,759.27M246.22,750.59L233.21,763.60M224.54,754.93L237.55,767.94M246.22,759.27L233.21,772.28M224.54,763.60L237.55,776.61M246.22,767.94L233.21,780.95M224.54,772.28L237.55,785.29M246.22,776.61L233.21,789.62M224.54,780.95L237.55,793.96M246.22,785.29L233.21,798.29M224.54,789.62L237.55,802.63M246.22,793.96L233.21,806.97M224.54,798.29L237.55,811.30M246.22,802.63L233.21,815.64M224.54,806.97L237.55,819.98M246.22,811.30L233.21,824.31M224.54,815.64L237.55,828.65M246.22,819.98L233.21,832.99M224.54,824.31L237.55,837.32M246.22,828.65L233.21,841.66M224.54,832.99L237.55,846.00M246.22,837.32L233.21,850.33M224.54,841.66L237.55,854.67M246.22,846.00L233.21,859.01M224.54,850.33L237.55,863.34M246.22,854.67L233.21,867.68M224.54,859.01L237.55,872.01M246.22,863.34L233.21,876.35M224.54,867.68L237.55,880.69M246.22,872.01L233.21,885.02M224.54,876.35L237.55,889.36M246.22,880.69L233.21,893.70M224.54,885.02L237.55,898.03M246.22,889.36L233.21,902.37M224.54,893.70L237.55,906.71M246.22,898.03L233.21,911.04M224.54,902.37L237.55,915.38M246.22,906.71L233.21,919.72M224.54,911.04L237.55,924.05M246.22,915.38L233.21,928.39M224.54,919.72L237.55,932.73M246.22,924.05L233.21,937.06M224.54,928.39L237.55,941.40M246.22,932.73L233.21,945.74M224.54,937.06L237.55,950.07M246.22,941.40L233.21,954.41M224.54,945.74L237.55,958.75M246.22,950.07L233.21,963.08M224.54,954.41L237.55,967.42M246.22,958.75L233.21,971.75M224.54,963.08L237.55,976.09M246.22,967.42L233.21,980.43M241.88,885.02L254.89,898.03M263.56,889.36L250.56,902.37M241.88,893.70L254.89,906.71M263.56,898.03L250.56,911.04M241.88,902.37L254.89,915.38M263.56,906.71L250.56,919.72M241.88,911.04L254.89,924.05M263.56,915.38L250.56,928.39M241.88,919.72L254.89,932.73M263.56,924.05L250.56,937.06M241.88,928.39L254.89,941.40M263.56,932.73L250.56,945.74M241.88,937.06L254.89,950.07M263.56,941.40L250.56,954.41M241.88,945.74L254.89,958.75M263.56,950.07L250.56,963.08M241.88,954.41L254.89,967.42M263.56,958.75L250.56,971.75M241.88,963.08L254.89,976.09M263.56,967.42L250.56,980.43M241.88,971.75L254.89,984.76M263.56,976.09L250.56,989.10M241.88,980.43L254.89,993.44M263.56,984.76L250.56,997.77M259.23,919.72L272.24,932.73M280.91,924.05L267.90,937.06M259.23,928.39L272.24,941.40M280.91,932.73L267.90,945.74M259.23,937.06L272.24,950.07M280.91,941.40L267.90,954.41M259.23,945.74L272.24,958.75M280.91,950.07L267.90,963.08M259.23,954.41L272.24,967.42M280.91,958.75L267.90,971.75M259.23,963.08L272.24,976.09M280.91,967.42L267.90,980.43M259.23,971.75L272.24,984.76M280.91,976.09L267.90,989.10M259.23,980.43L272.24,993.44M280.91,984.76L267.90,997.77M259.23,989.10L272.24,1002.11M280.91,993.44L267.90,1006.45M276.57,937.06L289.58,950.07M298.26,941.40L285.25,954.41M276.57,945.74L289.58,958.75M298.26,950.07L285.25,963.08M276.57,954.41L289.58,967.42M298.26,958.75L285.25,971.75M276.57,963.08L289.58,976.09M298.26,967.42L285.25,980.43M276.57,971.75L289.58,984.76M298.26,976.09L285.25,989.10M276.57,980.43L289.58,993.44M298.26,984.76L285.25,997.77M276.57,989.10L289.58,1002.11M298.26,993.44L285.25,1006.45M276.57,997.77L289.58,1010.78M298.26,1002.11L285.25,1015.12M293.92,945.74L306.93,958.75M315.60,950.07L302.59,963.08M293.92,954.41L306.93,967.42M315.60,958.75L302.59,971.75M293.92,963.08L306.93,976.09M315.60,967.42L302.59,980.43M293.92,971.75L306.93,984.76M315.60,976.09L302.59,989.10M293.92,980.43L306.93,993.44M315.60,984.76L302.59,997.77M293.92,989.10L306.93,1002.11M315.60,993.44L302.59,1006.45M293.92,997.77L306.93,1010.78M315.60,1002.11L302.59,1015.12M311.27,945.74L324.28,958.75M332.95,950.07L319.94,963.08M311.27,954.41L324.28,967.42M332.95,958.75L319.94,971.75M311.27,963.08L324.28,976.09M332.95,967.42L319.94,980.43M311.27,971.75L324.28,984.76M332.95,976.09L319.94,989.10M311.27,980.43L324.28,993.44M332.95,984.76L319.94,997.77M311.27,989.10L324.28,1002.11M332.95,993.44L319.94,1006.45M311.27,997.77L324.28,1010.78M332.95,1002.11L319.94,1015.12M328.61,954.41L341.62,967.42M350.29,958.75L337.29,971.75M328.61,963.08L341.62,976.09M350.29,967.42L337.29,980.43M328.61,971.75L341.62,984.76M350.29,976.09L337.29,989.10M328.61,980.43L341.62,993.44M350.29,984.76L337.29,997.77M328.61,989.10L341.62,1002.11M350.29,993.44L337.29,1006.45M328.61,997.77L341.62,1010.78M350.29,1002.11L337.29,1015.12M328.61,1006.45L341.62,1019.46M350.29,1010.78L337.29,1023.79M345.96,954.41L358.97,967.42M367.64,958.75L354.63,971.75M345.96,963.08L358.97,976.09M367.64,967.42L354.63,980.43M345.96,971.75L358.97,984.76M367.64,976.09L354.63,989.10M345.96,980.43L358.97,993.44M367.64,984.76L354.63,997.77M345.96,989.10L358.97,1002.11M367.64,993.44L354.63,1006.45M345.96,997.77L358.97,1010.78M367.64,1002.11L354.63,1015.12M345.96,1006.45L358.97,1019.46M367.64,1010.78L354.63,1023.79M363.30,954.41L376.31,967.42M384.99,958.75L371.98,971.75M363.30,963.08L376.31,976.09M384.99,967.42L371.98,980.43M363.30,971.75L376.31,984.76M384.99,976.09L371.98,989.10M363.30,980.43L376.31,993.44M384.99,984.76L371.98,997.77M363.30,989.10L376.31,1002.11M384.99,993.44L371.98,1006.45M363.30,997.77L376.31,1010.78M384.99,1002.11L371.98,1015.12M363.30,1006.45L376.31,1019.46M384.99,1010.78L371.98,1023.79M380.65,954.41L393.66,967.42M402.33,958.75L389.32,971.75M380.65,963.08L393.66,976.09M402.33,967.42L389.32,980.43M380.65,971.75L393.66,984.76M402.33,976.09L389.32,989.10M380.65,980.43L393.66,993.44M402.33,984.76L389.32,997.77M380.65,989.10L393.66,1002.11M402.33,993.44L389.32,1006.45M380.65,997.77L393.66,1010.78M402.33,1002.11L389.32,1015.12M380.65,1006.45L393.66,1019.46M402.33,1010.78L389.32,1023.79M398.00,954.41L411.01,967.42M419.68,958.75L406.67,971.75M398.00,963.08L411.01,976.09M419.68,967.42L406.67,980.43M398.00,971.75L411.01,984.76M419.68,976.09L406.67,989.10M398.00,980.43L411.01,993.44M419.68,984.76L406.67,997.77M398.00,989.10L411.01,1002.11M419.68,993.44L406.67,1006.45M398.00,997.77L411.01,1010.78M419.68,1002.11L406.67,1015.12M398.00,1006.45L411.01,1019.46M419.68,1010.78L406.67,1023.79M415.34,954.41L428.35,967.42M437.02,958.75L424.02,971.75M415.34,963.08L428.35,976.09M437.02,967.42L424.02,980.43M415.34,971.75L428.35,984.76M437.02,976.09L424.02,989.10M415.34,980.43L428.35,993.44M437.02,984.76L424.02,997.77M415.34,989.10L428.35,1002.11M437.02,993.44L424.02,1006.45M415.34,997.77L428.35,1010.78M437.02,1002.11L424.02,1015.12M415.34,1006.45L428.35,1019.46M437.02,1010.78L424.02,1023.79M432.69,954.41L445.70,967.42M454.37,958.75L441.36,971.75M432.69,963.08L445.70,976.09M454.37,967.42L441.36,980.43M432.69,971.75L445.70,984.76M454.37,976.09L441.36,989.10M432.69,980.43L445.70,993.44M454.37,984.76L441.36,997.77M432.69,989.10L445.70,1002.11M454.37,993.44L441.36,1006.45M432.69,997.77L445.70,1010.78M454.37,1002.11L441.36,1015.12M432.69,1006.45L445.70,1019.46M454.37,1010.78L441.36,1023.79M450.03,954.41L463.04,967.42M471.72,958.75L458.71,971.75M450.03,963.08L463.04,976.09M471.72,967.42L458.71,980.43M450.03,971.75L463.04,984.76M471.72,976.09L458.71,989.10M450.03,980.43L463.04,993.44M471.72,984.76L458.71,997.77M450.03,989.10L463.04,1002.11M471.72,993.44L458.71,1006.45M450.03,997.77L463.04,1010.78M471.72,1002.11L458.71,1015.12M450.03,1006.45L463.04,1019.46M471.72,1010.78L458.71,1023.79M467.38,954.41L480.39,967.42M489.06,958.75L476.05,971.75M467.38,963.08L480.39,976.09M489.06,967.42L476.05,980.43M467.38,971.75L480.39,984.76M489.06,976.09L476.05,989.10M467.38,980.43L480.39,993.44M489.06,984.76L476.05,997.77M467.38,989.10L480.39,1002.11M489.06,993.44L476.05,1006.45M467.38,997.77L480.39,1010.78M489.06,1002.11L476.05,1015.12M467.38,1006.45L480.39,1019.46M489.06,1010.78L476.05,1023.79M484.73,954.41L497.74,967.42M506.41,958.75L493.40,971.75M484.73,963.08L497.74,976.09M506.41,967.42L493.40,980.43M484.73,971.75L497.74,984.76M506.41,976.09L493.40,989.10M484.73,980.43L497.74,993.44M506.41,984.76L493.40,997.77M484.73,989.10L497.74,1002.11M506.41,993.44L493.40,1006.45M484.73,997.77L497.74,1010.78M506.41,1002.11L493.40,1015.12M502.07,971.75L515.08,984.76M523.75,976.09L510.75,989.10M502.07,980.43L515.08,993.44M523.75,984.76L510.75,997.77" fill="none" stroke="#333333" stroke-width="1" stroke-linecap="butt"/>
<path d="M224.15,325.00 L224.15,327.00 L224.15,329.00 L224.15,331.00 L224.15,333.00 L224.15,335.00 L224.15,337.00 L224.15,339.00 L224.15,341.00 L224.15,343.00 L224.15,345.00 L224.15,347.00 L224.15,349.00 L224.15,351.00 L224.15,353.00 L224.15,355.00 L224.15,357.00 L224.15,359.00 L224.15,361.00 L224.15,363.00 L224.15,365.00 L224.15,367.00 L224.15,369.00 L224.15,371.00 L224.15,373.00 L224.15,375.00 L224.15,377.00 L224.15,379.00 L224.15,381.00 L224.15,383.00 L224.15,385.00 L224.15,387.00 L224.15,389.00 L224.15,391.00 L224.15,393.00 L224.15,395.00 L224.15,397.00 L224.15,399.00 L224.15,401.00 L224.15,403.00 L224.15,405.00 L224.15,407.00 L224.15,409.00 L224.15,411.00 L224.15,413.00 L224.15,415.00 L224.15,417.00 L224.15,419.00 L224.15,421.00 L224.15,423.00 L224.15,425.00 L224.15,427.00 L224.15,429.00 L224.15,431.00 L224.15,433.00 L224.15,435.00 L224.15,437.00 L224.15,439.00 L224.15,441.00 L224.15,443.00 L224.15,445.00 L224.15,447.00 L224.15,449.00 L224.15,451.00 L224.15,453.00 L224.15,455.00 L224.15,457.00 L224.15,459.00 L224.15,461.00 L224.15,463.00 L224.15,465.00 L224.15,467.00 L224.15,469.00 L224.15,471.00 L224.15,473.00 L224.15,475.00 L224.15,477.00 L224.15,479.00 L224.15,481.00 L224.15,483.00 L224.15,485.00 L224.15,487.00 L224.15,489.00 L224.15,491.00 L224.15,493.00 L224.15,495.00 L224.15,497.00 L224.15,499.00 L224.15,501.00 L224.15,503.00 L224.15,505.00 L224.15,507.00 L224.15,509.00 L224.15,511.00 L224.15,513.00 L224.15,515.00 L224.15,517.00 L224.15,519.00 L224.15,521.00 L224.15,523.00 L224.15,525.00 L224.15,527.00 L224.15,529.00 L224.15,531.00 L224.15,533.00 L224.15,535.00 L224.15,537.00 L224.15,539.00 L224.15,541.00 L224.15,543.00 L224.15,545.00 L224.15,547.00 L224.15,549.00 L224.15,551.00 L224.15,553.00 L224.15,555.00 L224.15,557.00 L224.15,559.00 L224.15,561.00 L224.15,563.00 L224.15,565.00 L224.15,567.00 L224.15,569.00 L224.15,571.00 L224.15,573.00 L224.15,575.00 L224.15,577.00 L224.15,579.00 L224.15,581.00 L224.15,583.00 L224.15,585.00 L224.15,587.00 L224.15,589.00 L224.15,591.00 L224.15,593.00 L224.15,595.00 L224.15,597.00 L224.15,599.00 L224.15,601.00 L224.15,603.00 L224.15,605.00 L224.15,607.00 L224.15,609.00 L224.15,611.00 L224.15,613.00 L224.15,615.00 L224.15,617.00 L224.15,619.00 L224.15,621.00 L224.15,623.00 L224.15,625.00 L224.15,627.00 L224.15,629.00 L224.15,631.00 L224.15,633.00 L224.15,635.00 L224.15,637.00 L224.15,639.00 L224.15,641.00 L224.15,643.00 L224.15,645.00 L224.15,647.00 L224.15,649.00 L224.15,651.00 L224.15,653.00 L224.15,655.00 L224.15,657.00 L224.15,659.00 L224.15,661.00 L224.15,663.00 L224.15,665.00 L224.15,667.00 L224.15,669.00 L224.15,671.00 L224.15,673.00 L224.15,675.00 L224.15,677.00 L224.15,679.00 L224.15,681.00 L224.15,683.00 L224.15,685.00 L224.15,687.00 L224.15,689.00 L224.15,691.00 L224.15,693.00 L224.15,695.00 L224.15,697.00 L224.15,699.00 L224.15,701.00 L224.15,703.00 L224.15,705.00 L224.15,707.00 L224.15,709.00 L224.15,711.00 L224.15,713.00 L224.15,715.00 L224.15,717.00 L224.15,719.00 L224.15,721.00 L224.15,723.00 L224.15,725.00 L224.15,727.00 L224.15,729.00 L224.15,731.00 L224.15,733.00 L224.15,735.00 L224.15,737.00 L224.15,739.00 L224.15,741.00 L224.15,743.00 L224.15,745.00 L224.15,747.00 L224.15,749.00 L224.15,751.00 L224.15,753.00 L224.15,755.00 L224.15,757.00 L224.15,759.00 L224.15,761.00 L224.15,763.00 L224.15,765.00 L224.15,767.00 L224.15,769.00 L224.15,771.00 L224.15,773.00 L224.15,775.00 L224.15,777.00 L224.15,779.00 L224.15,781.00 L224.15,783.00 L224.15,785.00 L224.15,787.00 L224.15,789.00 L224.15,791.00 L224.15,793.00 L224.15,795.00 L224.15,797.00 L224.15,799.00 L224.15,801.00 L224.15,803.00 L224.15,805.00 L224.15,807.00 L224.15,809.00 L224.15,811.00 L224.15,813.00 L224.15,815.00 L224.15,817.00 L224.15,819.00 L224.15,821.00 L224.15,823.00 L224.15,825.00 L224.15,827.00 L224.15,829.00 L224.15,831.00 L224.15,833.00 L224.15,835.00 L224.15,837.00 L224.15,839.00 L224.15,841.00 L224.15,843.00 L224.15,845.00 L224.15,847.00 L224.15,849.00 L224.16,850.95 L224.17,852.93 L224.21,854.85 L224.26,856.75 L224.34,858.75 L224.43,860.64 L224.53,862.57 L224.67,864.53 L224.82,866.42 L224.98,868.36 L225.18,870.29 L225.38,872.17 L225.61,874.13 L225.87,876.03 L226.13,877.90 L226.43,879.85 L226.74,881.74 L227.07,883.60 L227.43,885.52 L227.82,887.41 L228.21,889.25 L228.63,891.14 L229.09,893.03 L229.56,894.85 L230.04,896.69 L230.58,898.59 L231.11,900.39 L231.67,902.18 L232.27,904.04 L232.89,905.85 L233.52,907.61 L234.17,909.39 L234.88,911.22 L235.59,912.96 L236.32,914.68 L237.08,916.43 L237.90,918.21 L238.70,919.89 L239.53,921.56 L240.40,923.26 L241.32,924.98 L242.23,926.61 L243.15,928.22 L244.12,929.84 L245.15,931.50 L246.17,933.08 L247.20,934.62 L248.25,936.15 L249.38,937.72 L250.53,939.26 L251.66,940.72 L252.81,942.17 L254.01,943.63 L255.27,945.10 L256.52,946.50 L257.78,947.86 L259.05,949.20 L260.39,950.57 L261.78,951.91 L263.13,953.19 L264.50,954.43 L265.89,955.65 L267.36,956.90 L268.85,958.11 L270.30,959.25 L271.78,960.37 L273.29,961.48 L274.87,962.60 L276.44,963.65 L277.99,964.66 L279.55,965.65 L281.19,966.64 L282.87,967.61 L284.49,968.51 L286.12,969.39 L287.79,970.25 L289.53,971.11 L291.24,971.92 L292.93,972.68 L294.64,973.42 L296.44,974.17 L298.21,974.87 L299.95,975.52 L301.70,976.15 L303.56,976.79 L305.37,977.37 L307.15,977.92 L308.96,978.45 L310.85,978.97 L312.67,979.44 L314.49,979.89 L316.37,980.33 L318.27,980.73 L320.10,981.09 L321.95,981.44 L323.90,981.78 L325.76,982.07 L327.62,982.34 L329.57,982.60 L331.46,982.83 L333.33,983.03 L335.28,983.21 L337.20,983.37 L339.07,983.50 L341.03,983.62 L342.95,983.70 L344.84,983.77 L346.80,983.82 L348.72,983.84 L350.66,983.85 L352.66,983.85 L354.66,983.85 L356.66,983.85 L358.66,983.85 L360.66,983.85 L362.66,983.85 L364.66,983.85 L366.66,983.85 L368.66,983.85 L370.66,983.85 L372.66,983.85 L374.66,983.85 L376.66,983.85 L378.66,983.85 L380.66,983.85 L382.66,983.85 L384.66,983.85 L386.66,983.85 L388.66,983.85 L390.66,983.85 L392.66,983.85 L394.66,983.85 L396.66,983.85 L398.66,983.85 L400.66,983.85 L402.66,983.85 L404.66,983.85 L406.66,983.85 L408.66,983.85 L410.66,983.85 L412.66,983.85 L414.66,983.85 L416.66,983.85 L418.66,983.85 L420.66,983.85 L422.66,983.85 L424.66,983.85 L426.66,983.85 L428.66,983.85 L430.66,983.85 L432.66,983.85 L434.66,983.85 L436.66,983.85 L438.66,983.85 L440.66,983.85 L442.66,983.85 L444.66,983.85 L446.66,983.85 L448.66,983.85 L450.66,983.85 L452.66,983.85 L454.66,983.85 L456.66,983.85 L458.66,983.85 L460.66,983.85 L462.66,983.85 L464.66,983.85 L466.66,983.85 L468.66,983.85 L470.66,983.85 L472.66,983.85 L474.66,983.85 L476.66,983.85 L478.66,983.85 L480.66,983.85 L482.66,983.85 L484.66,983.85 L486.00,983.85" fill="none" stroke="#555555" stroke-width="1"/>
<path d="M210.85,325.00 L210.85,327.00 L210.85,329.00 L210.85,331.00 L210.85,333.00 L210.85,335.00 L210.85,337.00 L210.85,339.00 L210.85,341.00 L210.85,343.00 L210.85,345.00 L210.85,347.00 L210.85,349.00 L210.85,351.00 L210.85,353.00 L210.85,355.00 L210.85,357.00 L210.85,359.00 L210.85,361.00 L210.85,363.00 L210.85,365.00 L210.85,367.00 L210.85,369.00 L210.85,371.00 L210.85,373.00 L210.85,375.00 L210.85,377.00 L210.85,379.00 L210.85,381.00 L210.85,383.00 L210.85,385.00 L210.85,387.00 L210.85,389.00 L210.85,391.00 L210.85,393.00 L210.85,395.00 L210.85,397.00 L210.85,399.00 L210.85,401.00 L210.85,403.00 L210.85,405.00 L210.85,407.00 L210.85,409.00 L210.85,411.00 L210.85,413.00 L210.85,415.00 L210.85,417.00 L210.85,419.00 L210.85,421.00 L210.85,423.00 L210.85,425.00 L210.85,427.00 L210.85,429.00 L210.85,431.00 L210.85,433.00 L210.85,435.00 L210.85,437.00 L210.85,439.00 L210.85,441.00 L210.85,443.00 L210.85,445.00 L210.85,447.00 L210.85,449.00 L210.85,451.00 L210.85,453.00 L210.85,455.00 L210.85,457.00 L210.85,459.00 L210.85,461.00 L210.85,463.00 L210.85,465.00 L210.85,467.00 L210.85,469.00 L210.85,471.00 L210.85,473.00 L210.85,475.00 L210.85,477.00 L210.85,479.00 L210.85,481.00 L210.85,483.00 L210.85,485.00 L210.85,487.00 L210.85,489.00 L210.85,491.00 L210.85,493.00 L210.85,495.00 L210.85,497.00 L210.85,499.00 L210.85,501.00 L210.85,503.00 L210.85,505.00 L210.85,507.00 L210.85,509.00 L210.85,511.00 L210.85,513.00 L210.85,515.00 L210.85,517.00 L210.85,519.00 L210.85,521.00 L210.85,523.00 L210.85,525.00 L210.85,527.00 L210.85,529.00 L210.85,531.00 L210.85,533.00 L210.85,535.00 L210.85,537.00 L210.85,539.00 L210.85,541.00 L210.85,543.00 L210.85,545.00 L210.85,547.00 L210.85,549.00 L210.85,551.00 L210.85,553.00 L210.85,555.00 L210.85,557.00 L210.85,559.00 L210.85,561.00 L210.85,563.00 L210.85,565.00 L210.85,567.00 L210.85,569.00 L210.85,571.00 L210.85,573.00 L210.85,575.00 L210.85,577.00 L210.85,579.00 L210.85,581.00 L210.85,583.00 L210.85,585.00 L210.85,587.00 L210.85,589.00 L210.85,591.00 L210.85,593.00 L210.85,595.00 L210.85,597.00 L210.85,599.00 L210.85,601.00 L210.85,603.00 L210.85,605.00 L210.85,607.00 L210.85,609.00 L210.85,611.00 L210.85,613.00 L210.85,615.00 L210.85,617.00 L210.85,619.00 L210.85,621.00 L210.85,623.00 L210.85,625.00 L210.85,627.00 L210.85,629.00 L210.85,631.00 L210.85,633.00 L210.85,635.00 L210.85,637.00 L210.85,639.00 L210.85,641.00 L210.85,643.00 L210.85,645.00 L210.85,647.00 L210.85,649.00 L210.85,651.00 L210.85,653.00 L210.85,655.00 L210.85,657.00 L210.85,659.00 L210.85,661.00 L210.85,663.00 L210.85,665.00 L210.85,667.00 L210.85,669.00 L210.85,671.00 L210.85,673.00 L210.85,675.00 L210.85,677.00 L210.85,679.00 L210.85,681.00 L210.85,683.00 L210.85,685.00 L210.85,687.00 L210.85,689.00 L210.85,691.00 L210.85,693.00 L210.85,695.00 L210.85,697.00 L210.85,699.00 L210.85,701.00 L210.85,703.00 L210.85,705.00 L210.85,707.00 L210.85,709.00 L210.85,711.00 L210.85,713.00 L210.85,715.00 L210.85,717.00 L210.85,719.00 L210.85,721.00 L210.85,723.00 L210.85,725.00 L210.85,727.00 L210.85,729.00 L210.85,731.00 L210.85,733.00 L210.85,735.00 L210.85,737.00 L210.85,739.00 L210.85,741.00 L210.85,743.00 L210.85,745.00 L210.85,747.00 L210.85,749.00 L210.85,751.00 L210.85,753.00 L210.85,755.00 L210.85,757.00 L210.85,759.00 L210.85,761.00 L210.85,763.00 L210.85,765.00 L210.85,767.00 L210.85,769.00 L210.85,771.00 L210.85,773.00 L210.85,775.00 L210.85,777.00 L210.85,779.00 L210.85,781.00 L210.85,783.00 L210.85,785.00 L210.85,787.00 L210.85,789.00 L210.85,791.00 L210.85,793.00 L210.85,795.00 L210.85,797.00 L210.85,799.00 L210.85,801.00 L210.85,803.00 L210.85,805.00 L210.85,807.00 L210.85,809.00 L210.85,811.00 L210.85,813.00 L210.85,815.00 L210.85,817.00 L210.85,819.00 L210.85,821.00 L210.85,823.00 L210.85,825.00 L210.85,827.00 L210.85,829.00 L210.85,831.00 L210.85,833.00 L210.85,835.00 L210.85,837.00 L210.85,839.00 L210.85,841.00 L210.85,843.00 L210.85,845.00 L210.85,847.00 L210.85,849.00 L210.86,851.05 L210.87,853.07 L210.92,855.15 L210.97,857.25 L211.05,859.25 L211.15,861.35 L211.26,863.42 L211.40,865.45 L211.56,867.55 L211.74,869.58 L211.94,871.63 L212.17,873.73 L212.41,875.75 L212.68,877.81 L212.98,879.90 L213.29,881.91 L213.63,883.96 L214.00,886.04 L214.37,888.05 L214.79,890.08 L215.23,892.15 L215.68,894.17 L216.17,896.17 L216.69,898.22 L217.23,900.25 L217.78,902.20 L218.38,904.23 L219.01,906.26 L219.64,908.21 L220.31,910.18 L221.03,912.19 L221.76,914.16 L222.50,916.06 L223.29,918.02 L224.12,919.99 L224.96,921.90 L225.81,923.76 L226.73,925.69 L227.68,927.60 L228.63,929.46 L229.60,931.27 L230.64,933.14 L231.71,934.99 L232.79,936.81 L233.87,938.55 L235.02,940.33 L236.21,942.11 L237.43,943.88 L238.63,945.56 L239.88,947.23 L241.19,948.93 L242.53,950.60 L243.87,952.23 L245.22,953.80 L246.62,955.38 L248.08,956.97 L249.56,958.52 L251.03,960.01 L252.51,961.45 L254.07,962.92 L255.66,964.37 L257.27,965.79 L258.85,967.13 L260.47,968.44 L262.16,969.77 L263.87,971.07 L265.58,972.32 L267.28,973.52 L269.02,974.70 L270.82,975.87 L272.64,977.01 L274.43,978.10 L276.21,979.13 L278.08,980.17 L279.98,981.19 L281.86,982.16 L283.71,983.07 L285.62,983.97 L287.57,984.85 L289.53,985.70 L291.42,986.49 L293.37,987.26 L295.38,988.01 L297.39,988.73 L299.32,989.40 L301.32,990.04 L303.36,990.67 L305.39,991.26 L307.35,991.80 L309.40,992.33 L311.47,992.84 L313.49,993.31 L315.50,993.74 L317.59,994.16 L319.67,994.55 L321.66,994.89 L323.75,995.22 L325.85,995.53 L327.87,995.80 L329.95,996.04 L332.05,996.27 L334.09,996.46 L336.16,996.63 L338.27,996.78 L340.31,996.90 L342.38,996.99 L344.50,997.06 L346.53,997.12 L348.61,997.14 L350.66,997.15 L352.66,997.15 L354.66,997.15 L356.66,997.15 L358.66,997.15 L360.66,997.15 L362.66,997.15 L364.66,997.15 L366.66,997.15 L368.66,997.15 L370.66,997.15 L372.66,997.15 L374.66,997.15 L376.66,997.15 L378.66,997.15 L380.66,997.15 L382.66,997.15 L384.66,997.15 L386.66,997.15 L388.66,997.15 L390.66,997.15 L392.66,997.15 L394.66,997.15 L396.66,997.15 L398.66,997.15 L400.66,997.15 L402.66,997.15 L404.66,997.15 L406.66,997.15 L408.66,997.15 L410.66,997.15 L412.66,997.15 L414.66,997.15 L416.66,997.15 L418.66,997.15 L420.66,997.15 L422.66,997.15 L424.66,997.15 L426.66,997.15 L428.66,997.15 L430.66,997.15 L432.66,997.15 L434.66,997.15 L436.66,997.15 L438.66,997.15 L440.66,997.15 L442.66,997.15 L444.66,997.15 L446.66,997.15 L448.66,997.15 L450.66,997.15 L452.66,997.15 L454.66,997.15 L456.66,997.15 L458.66,997.15 L460.66,997.15 L462.66,997.15 L464.66,997.15 L466.66,997.15 L468.66,997.15 L470.66,997.15 L472.66,997.15 L474.66,997.15 L476.66,997.15 L478.66,997.15 L480.66,997.15 L482.66,997.15 L484.66,997.15 L486.00,997.15" fill="none" stroke="#555555" stroke-width="1"/>
<path d="M169.50,250.80 A25.00,25.00 0 0 1 208.75,230.26 L287.45,284.86 A25.00,25.00 0 0 1 287.45,325.94 L208.75,380.54 A25.00,25.00 0 0 1 169.50,360.00Z" fill="#fff" stroke-width="0.9"/>
<path d="M171.02,250.80 A23.48,23.48 0 0 1 207.88,231.51 L286.58,286.11 A23.48,23.48 0 0 1 286.58,324.69 L207.88,379.29 A23.48,23.48 0 0 1 171.02,360.00Z" fill="none" stroke-width="0.65" stroke="#505050"/>
<path d="M172.54,250.80 A21.96,21.96 0 0 1 207.02,232.76 L285.72,287.36 A21.96,21.96 0 0 1 285.72,323.44 L207.02,378.04 A21.96,21.96 0 0 1 172.54,360.00Z" fill="none" stroke-width="0.65" stroke="#505050"/>
<path d="M174.06,250.80 A20.44,20.44 0 0 1 206.15,234.01 L284.85,288.61 A20.44,20.44 0 0 1 284.85,322.19 L206.15,376.79 A20.44,20.44 0 0 1 174.06,360.00Z" fill="none" stroke-width="0.65" stroke="#505050"/>
<path d="M175.58,250.80 A18.92,18.92 0 0 1 205.28,235.25 L283.98,289.85 A18.92,18.92 0 0 1 283.98,320.95 L205.28,375.55 A18.92,18.92 0 0 1 175.58,360.00Z" fill="none" stroke-width="0.65" stroke="#505050"/>
<path d="M177.10,250.80 A17.40,17.40 0 0 1 204.42,236.50 L283.12,291.10 A17.40,17.40 0 0 1 283.12,319.70 L204.42,374.30 A17.40,17.40 0 0 1 177.10,360.00Z" fill="none" stroke-width="0.65" stroke="#505050"/>
<path d="M178.62,250.80 A15.88,15.88 0 0 1 203.55,237.75 L282.25,292.35 A15.88,15.88 0 0 1 282.25,318.45 L203.55,373.05 A15.88,15.88 0 0 1 178.62,360.00Z" fill="none" stroke-width="0.65" stroke="#505050"/>
<path d="M180.14,250.80 A14.36,14.36 0 0 1 202.69,239.00 L281.39,293.60 A14.36,14.36 0 0 1 281.39,317.20 L202.69,371.80 A14.36,14.36 0 0 1 180.14,360.00Z" fill="none" stroke-width="0.65" stroke="#505050"/>
<path d="M181.66,250.80 A12.84,12.84 0 0 1 201.82,240.25 L280.52,294.85 A12.84,12.84 0 0 1 280.52,315.95 L201.82,370.55 A12.84,12.84 0 0 1 181.66,360.00Z" fill="none" stroke-width="0.65" stroke="#505050"/>
<path d="M183.18,250.80 A11.32,11.32 0 0 1 200.95,241.50 L279.65,296.10 A11.32,11.32 0 0 1 279.65,314.70 L200.95,369.30 A11.32,11.32 0 0 1 183.18,360.00Z" fill="none" stroke-width="0.65" stroke="#505050"/>
<path d="M184.70,250.80 A9.80,9.80 0 0 1 200.09,242.75 L278.79,297.35 A9.80,9.80 0 0 1 278.79,313.45 L200.09,368.05 A9.80,9.80 0 0 1 184.70,360.00Z" fill="#fff" stroke-width="0.85"/>
<clipPath id="tri"><path d="M185.10,250.80 A9.40,9.40 0 0 1 199.86,243.08 L278.56,297.68 A9.40,9.40 0 0 1 278.56,313.12 L199.86,367.72 A9.40,9.40 0 0 1 185.10,360.00Z"/></clipPath>
<g clip-path="url(#tri)">
<path d="M224.15,325.00 L224.15,327.00 L224.15,329.00 L224.15,331.00 L224.15,333.00 L224.15,335.00 L224.15,337.00 L224.15,339.00 L224.15,341.00 L224.15,343.00 L224.15,345.00 L224.15,347.00 L224.15,349.00 L224.15,351.00 L224.15,353.00 L224.15,355.00 L224.15,357.00 L224.15,359.00 L224.15,361.00 L224.15,363.00 L224.15,365.00 L224.15,367.00 L224.15,369.00 L224.15,371.00 L224.15,373.00 L224.15,375.00 L224.15,377.00 L224.15,379.00 L224.15,381.00 L224.15,383.00 L224.15,385.00 L224.15,387.00 L224.15,389.00 L224.15,391.00 L224.15,393.00 L224.15,395.00 L224.15,397.00 L224.15,399.00 L224.15,400.00 L210.85,400.00 L210.85,399.00 L210.85,397.00 L210.85,395.00 L210.85,393.00 L210.85,391.00 L210.85,389.00 L210.85,387.00 L210.85,385.00 L210.85,383.00 L210.85,381.00 L210.85,379.00 L210.85,377.00 L210.85,375.00 L210.85,373.00 L210.85,371.00 L210.85,369.00 L210.85,367.00 L210.85,365.00 L210.85,363.00 L210.85,361.00 L210.85,359.00 L210.85,357.00 L210.85,355.00 L210.85,353.00 L210.85,351.00 L210.85,349.00 L210.85,347.00 L210.85,345.00 L210.85,343.00 L210.85,341.00 L210.85,339.00 L210.85,337.00 L210.85,335.00 L210.85,333.00 L210.85,331.00 L210.85,329.00 L210.85,327.00 L210.85,325.00Z" fill="#fff" stroke="none"/>
<clipPath id="cb2"><path d="M224.15,325.00 L224.15,327.00 L224.15,329.00 L224.15,331.00 L224.15,333.00 L224.15,335.00 L224.15,337.00 L224.15,339.00 L224.15,341.00 L224.15,343.00 L224.15,345.00 L224.15,347.00 L224.15,349.00 L224.15,351.00 L224.15,353.00 L224.15,355.00 L224.15,357.00 L224.15,359.00 L224.15,361.00 L224.15,363.00 L224.15,365.00 L224.15,367.00 L224.15,369.00 L224.15,371.00 L224.15,373.00 L224.15,375.00 L224.15,377.00 L224.15,379.00 L224.15,381.00 L224.15,383.00 L224.15,385.00 L224.15,387.00 L224.15,389.00 L224.15,391.00 L224.15,393.00 L224.15,395.00 L224.15,397.00 L224.15,399.00 L224.15,400.00 L210.85,400.00 L210.85,399.00 L210.85,397.00 L210.85,395.00 L210.85,393.00 L210.85,391.00 L210.85,389.00 L210.85,387.00 L210.85,385.00 L210.85,383.00 L210.85,381.00 L210.85,379.00 L210.85,377.00 L210.85,375.00 L210.85,373.00 L210.85,371.00 L210.85,369.00 L210.85,367.00 L210.85,365.00 L210.85,363.00 L210.85,361.00 L210.85,359.00 L210.85,357.00 L210.85,355.00 L210.85,353.00 L210.85,351.00 L210.85,349.00 L210.85,347.00 L210.85,345.00 L210.85,343.00 L210.85,341.00 L210.85,339.00 L210.85,337.00 L210.85,335.00 L210.85,333.00 L210.85,331.00 L210.85,329.00 L210.85,327.00 L210.85,325.00Z"/></clipPath>
<path clip-path="url(#cb2)" d="M189.84,286.59L202.85,299.60M211.53,290.92L198.52,303.93M189.84,295.26L202.85,308.27M211.53,299.60L198.52,312.61M189.84,303.93L202.85,316.94M211.53,308.27L198.52,321.28M189.84,312.61L202.85,325.62M211.53,316.94L198.52,329.95M189.84,321.28L202.85,334.29M211.53,325.62L198.52,338.63M189.84,329.95L202.85,342.96M211.53,334.29L198.52,347.30M189.84,338.63L202.85,351.63M211.53,342.96L198.52,355.97M189.84,347.30L202.85,360.31M211.53,351.63L198.52,364.64M189.84,355.97L202.85,368.98M211.53,360.31L198.52,373.32M189.84,364.64L202.85,377.65M211.53,368.98L198.52,381.99M189.84,373.32L202.85,386.33M211.53,377.65L198.52,390.66M189.84,381.99L202.85,395.00M211.53,386.33L198.52,399.34M189.84,390.66L202.85,403.67M211.53,395.00L198.52,408.01M189.84,399.34L202.85,412.35M211.53,403.67L198.52,416.68M189.84,408.01L202.85,421.02M211.53,412.35L198.52,425.36M207.19,286.59L220.20,299.60M228.87,290.92L215.86,303.93M207.19,295.26L220.20,308.27M228.87,299.60L215.86,312.61M207.19,303.93L220.20,316.94M228.87,308.27L215.86,321.28M207.19,312.61L220.20,325.62M228.87,316.94L215.86,329.95M207.19,321.28L220.20,334.29M228.87,325.62L215.86,338.63M207.19,329.95L220.20,342.96M228.87,334.29L215.86,347.30M207.19,338.63L220.20,351.63M228.87,342.96L215.86,355.97M207.19,347.30L220.20,360.31M228.87,351.63L215.86,364.64M207.19,355.97L220.20,368.98M228.87,360.31L215.86,373.32M207.19,364.64L220.20,377.65M228.87,368.98L215.86,381.99M207.19,373.32L220.20,386.33M228.87,377.65L215.86,390.66M207.19,381.99L220.20,395.00M228.87,386.33L215.86,399.34M207.19,390.66L220.20,403.67M228.87,395.00L215.86,408.01M207.19,399.34L220.20,412.35M228.87,403.67L215.86,416.68M207.19,408.01L220.20,421.02M228.87,412.35L215.86,425.36M224.54,295.26L237.55,308.27M246.22,299.60L233.21,312.61M224.54,303.93L237.55,316.94M246.22,308.27L233.21,321.28M224.54,312.61L237.55,325.62M246.22,316.94L233.21,329.95M224.54,321.28L237.55,334.29M246.22,325.62L233.21,338.63M224.54,329.95L237.55,342.96M246.22,334.29L233.21,347.30M224.54,338.63L237.55,351.63M246.22,342.96L233.21,355.97M224.54,347.30L237.55,360.31M246.22,351.63L233.21,364.64M224.54,355.97L237.55,368.98M246.22,360.31L233.21,373.32M224.54,364.64L237.55,377.65M246.22,368.98L233.21,381.99M224.54,373.32L237.55,386.33M246.22,377.65L233.21,390.66M224.54,381.99L237.55,395.00M246.22,386.33L233.21,399.34M224.54,390.66L237.55,403.67M246.22,395.00L233.21,408.01M224.54,399.34L237.55,412.35M246.22,403.67L233.21,416.68M224.54,408.01L237.55,421.02M246.22,412.35L233.21,425.36" fill="none" stroke="#333333" stroke-width="1" stroke-linecap="butt"/>
<path d="M224.15,325.00 L224.15,327.00 L224.15,329.00 L224.15,331.00 L224.15,333.00 L224.15,335.00 L224.15,337.00 L224.15,339.00 L224.15,341.00 L224.15,343.00 L224.15,345.00 L224.15,347.00 L224.15,349.00 L224.15,351.00 L224.15,353.00 L224.15,355.00 L224.15,357.00 L224.15,359.00 L224.15,361.00 L224.15,363.00 L224.15,365.00 L224.15,367.00 L224.15,369.00 L224.15,371.00 L224.15,373.00 L224.15,375.00 L224.15,377.00 L224.15,379.00 L224.15,381.00 L224.15,383.00 L224.15,385.00 L224.15,387.00 L224.15,389.00 L224.15,391.00 L224.15,393.00 L224.15,395.00 L224.15,397.00 L224.15,399.00 L224.15,400.00" fill="none" stroke="#555555" stroke-width="1"/>
<path d="M210.85,325.00 L210.85,327.00 L210.85,329.00 L210.85,331.00 L210.85,333.00 L210.85,335.00 L210.85,337.00 L210.85,339.00 L210.85,341.00 L210.85,343.00 L210.85,345.00 L210.85,347.00 L210.85,349.00 L210.85,351.00 L210.85,353.00 L210.85,355.00 L210.85,357.00 L210.85,359.00 L210.85,361.00 L210.85,363.00 L210.85,365.00 L210.85,367.00 L210.85,369.00 L210.85,371.00 L210.85,373.00 L210.85,375.00 L210.85,377.00 L210.85,379.00 L210.85,381.00 L210.85,383.00 L210.85,385.00 L210.85,387.00 L210.85,389.00 L210.85,391.00 L210.85,393.00 L210.85,395.00 L210.85,397.00 L210.85,399.00 L210.85,400.00" fill="none" stroke="#555555" stroke-width="1"/>
</g>
<path d="M189.6,242.6 L191.3,244.0 Q188.4,245.6 188.3,248.5 L188.3,362.3 Q188.4,365.2 191.3,366.8 L189.6,368.2" fill="none" stroke-width="0.9"/>
<path d="M152.5,230.65 L81,233.46 Q78.1,233.7 78.1,235.7 Q78.1,237.7 81,237.94 L152.5,240.75" fill="#fff"/>
<path d="M83.0,233.38 L86.6,238.16 M87.4,233.21 L91.0,238.33 M91.8,233.04 L95.4,238.51 M96.2,232.86 L99.8,238.68 M100.6,232.69 L104.2,238.85 M105.0,232.52 L108.6,239.02 M109.4,232.34 L113.0,239.20 M113.8,232.17 L117.4,239.37 M118.2,232.00 L121.8,239.54 M122.6,231.83 L126.2,239.72 M127.0,231.65 L130.6,239.89 M131.4,231.48 L135.0,240.06 M135.8,231.31 L139.4,240.24 M140.2,231.13 L143.8,240.41 M144.6,230.96 L148.2,240.58 M149.0,230.79 L152.6,240.75" fill="none" stroke-width="1.25" stroke="#444"/>
<path d="M150,230.75 Q157.5,230.1 161.4,225.7 L162.2,225.7 Q160.6,235.7 162.2,245.7 L161.4,245.7 Q157.5,241.29999999999998 150,240.65" fill="#fff"/>
<path d="M161.2,232.7 L153.5,235.7 L161.2,238.7 M153.5,235.7 L161.2,235.7" fill="none" stroke-width="0.9"/>
<path d="M152.5,369.55 L81,372.36 Q78.1,372.6 78.1,374.6 Q78.1,376.6 81,376.84 L152.5,379.65" fill="#fff"/>
<path d="M83.0,376.92 L86.6,372.14 M87.4,377.09 L91.0,371.97 M91.8,377.26 L95.4,371.79 M96.2,377.44 L99.8,371.62 M100.6,377.61 L104.2,371.45 M105.0,377.78 L108.6,371.28 M109.4,377.96 L113.0,371.10 M113.8,378.13 L117.4,370.93 M118.2,378.30 L121.8,370.76 M122.6,378.47 L126.2,370.58 M127.0,378.65 L130.6,370.41 M131.4,378.82 L135.0,370.24 M135.8,378.99 L139.4,370.06 M140.2,379.17 L143.8,369.89 M144.6,379.34 L148.2,369.72 M149.0,379.51 L152.6,369.55" fill="none" stroke-width="1.25" stroke="#444"/>
<path d="M150,369.65 Q157.5,369.0 161.4,364.6 L162.2,364.6 Q160.6,374.6 162.2,384.6 L161.4,384.6 Q157.5,380.20000000000005 150,379.55" fill="#fff"/>
<path d="M161.2,371.6 L153.5,374.6 L161.2,377.6 M153.5,374.6 L161.2,374.6" fill="none" stroke-width="0.9"/>
<rect x="137" y="215" width="4.4" height="180" fill="#fff" rx="0.8"/>
<path d="M147.5,285.2 L147.5,265.2 A9.15,3.7 0 0 1 165.8,265.2 L165.8,285.2Z" fill="#fff"/>
<line x1="147.5" y1="265.2" x2="165.8" y2="265.2" />
<path d="M147.5,324.8 L147.5,344 A9.15,4.4 0 0 0 165.8,344 L165.8,324.8Z" fill="#fff"/>
<line x1="147.5" y1="344" x2="165.8" y2="344" />
<rect x="151.5" y="285.2" width="10.1" height="2" fill="#fff"/>
<rect x="151.5" y="322.9" width="10.1" height="1.9" fill="#fff"/>
<rect x="141.4" y="287.2" width="25" height="4.8" fill="#fff"/>
<rect x="141.4" y="318.2" width="25" height="4.8" fill="#fff"/>
<line x1="151.5" y1="292" x2="151.5" y2="318.2" />
<line x1="152.9" y1="292" x2="152.9" y2="318.2" />
<line x1="160.2" y1="292" x2="160.2" y2="318.2" />
<line x1="161.6" y1="292" x2="161.6" y2="318.2" />
<rect x="166.3" y="282.2" width="3.4" height="23" fill="#fff"/>
<path d="M308.69,314.99 L593.69,333.49 A4.8,4.8 0 0 0 594.31,323.91 L309.31,305.41 A4.8,4.8 0 0 0 308.69,314.99Z" fill="#fff"/>
<path d="M543.28,319.06 L592.88,331.76 A4.5,4.5 0 0 0 595.12,323.04 L545.52,310.34 A4.5,4.5 0 0 0 543.28,319.06Z" fill="#fff"/>
<path d="M545.44,309.28 L593.04,297.98 A4.5,4.5 0 0 0 590.96,289.22 L543.36,300.52 A4.5,4.5 0 0 0 545.44,309.28Z" fill="#fff"/>
<path d="M317.98,280.15 L319.95,280.14 L321.97,280.13 L323.99,280.12 L326.04,280.13 L328.11,280.15 L330.04,280.17 L332.07,280.19 L334.22,280.23 L336.51,280.35 L338.93,280.62 L341.16,280.98 L343.44,281.46 L345.74,282.07 L348.11,282.87 L350.44,283.87 L352.66,285.03 L354.76,286.34 L356.77,287.80 L358.66,289.39 L360.59,291.34 L362.17,293.29 L363.46,295.07 L364.57,296.63 L365.63,298.02 L366.92,299.68 L368.12,301.25 L369.25,302.70 L370.38,304.05 L371.56,305.35 L372.92,306.80 L374.26,308.22 L375.58,309.59 L376.89,310.91 L378.19,312.14 L379.48,313.28 L380.73,314.27 L381.97,315.12 L383.32,315.93 L384.75,316.65 L386.35,317.36 L388.06,318.07 L389.90,318.80 L391.79,319.55 L393.62,320.29 L395.43,321.00 L397.23,321.69 L399.02,322.35 L400.81,322.98 L402.59,323.58 L404.35,324.12 L406.09,324.61 L407.91,325.07 L409.77,325.52 L411.61,325.93 L413.43,326.30 L415.24,326.63 L417.03,326.90 L418.80,327.11 L420.55,327.27 L422.34,327.36 L424.27,327.42 L426.16,327.45 L427.96,327.45 L429.70,327.38 L431.40,327.24 L433.06,327.02 L434.75,326.73 L436.44,326.35 L438.14,325.91 L439.79,325.42 L441.54,324.83 L443.30,324.19 L445.05,323.51 L446.83,322.80 L448.61,322.06 L450.41,321.29 L452.22,320.51 L454.04,319.72 L455.87,318.92 L457.71,318.12 L459.56,317.31 L461.42,316.51 L463.31,315.71 L465.20,314.93 L467.08,314.16 L468.96,313.40 L470.83,312.66 L472.69,311.92 L474.53,311.18 L476.37,310.45 L478.19,309.70 L480.00,308.96 L481.79,308.20 L483.57,307.43 L485.32,306.64 L487.06,305.84 L488.77,305.02 L490.48,304.17 L492.23,303.29 L493.97,302.39 L495.70,301.48 L497.43,300.56 L499.14,299.64 L500.85,298.70 L502.54,297.74 L504.22,296.77 L505.89,295.79 L507.54,294.80 L509.18,293.78 L510.81,292.75 L512.42,291.70 L514.02,290.64 L515.60,289.56 L517.14,288.47 L518.66,287.36 L520.17,286.21 L521.68,285.04 L523.19,283.84 L524.70,282.61 L526.22,281.36 L527.73,280.10 L529.24,278.83 L530.75,277.55 L532.26,276.26 L533.77,274.97 L535.30,273.66 L536.84,272.35 L538.39,271.04 L539.96,269.73 L541.55,268.42 L543.14,267.13 L544.70,265.88 L546.27,264.62 L547.85,263.37 L549.42,262.12 L551.00,260.87 L552.59,259.62 L554.19,258.38 L555.79,257.13 L557.41,255.90 L559.03,254.67 L560.65,253.45 L562.29,252.23 L563.93,251.03 L565.59,249.83 L567.26,248.63 L568.94,247.46 L570.63,246.30 L572.31,245.15 L573.99,244.02 L575.67,242.89 L577.35,241.78 L579.03,240.66 L580.72,239.56 L582.41,238.45 L584.10,237.35 L585.80,236.26 L587.50,235.17 L589.21,234.08 L590.91,233.00 L592.64,231.92 L594.37,230.85 L596.09,229.79 L597.83,228.74 L599.58,227.69 L601.31,226.66 L603.07,225.63 L604.82,224.61 L606.57,223.59 L608.33,222.59 L610.09,221.59 L611.86,220.60 L613.63,219.61 L615.40,218.63 L617.18,217.66 L618.95,216.70 L620.73,215.74 L622.52,214.79 L624.31,213.84 L626.11,212.90 L627.91,211.96 L629.73,211.03 L631.55,210.12 L633.38,209.21 L635.22,208.31 L637.07,207.43 L638.94,206.56 L640.79,205.70 L642.66,204.86 L644.53,204.04 L646.40,203.22 L648.27,202.42 L650.15,201.63 L652.03,200.85 L653.91,200.08 L655.79,199.32 L657.67,198.57 L659.57,197.82 L661.48,197.09 L663.38,196.37 L665.29,195.65 L667.19,194.95 L669.11,194.26 L671.01,193.58 L672.93,192.90 L674.84,192.24 L676.75,191.58 L678.67,190.93 L680.61,190.28 L682.53,189.65 L684.47,189.02 L686.40,188.41 L688.33,187.80 L690.26,187.21 L692.19,186.61 L694.12,186.03 L696.04,185.45 L697.97,184.87 L699.89,184.29 L701.82,183.72 L703.75,183.15 L705.69,182.58 L707.63,182.02 L709.58,181.46 L711.52,180.91 L713.48,180.37 L715.44,179.84 L717.40,179.31 L719.36,178.79 L721.33,178.29 L723.29,177.79 L725.26,177.30 L727.23,176.82 L729.20,176.34 L731.18,175.88 L733.15,175.42 L735.13,174.97 L737.11,174.53 L739.09,174.09 L741.07,173.67 L743.05,173.25 L745.04,172.84 L747.02,172.44 L749.02,172.05 L751.01,171.66 L753.01,171.29 L755.01,170.92 L757.01,170.57 L759.01,170.22 L761.02,169.89 L763.02,169.56 L765.03,169.25 L767.04,168.94 L769.05,168.64 L771.06,168.36 L773.08,168.08 L775.09,167.81 L777.11,167.56 L779.12,167.31 L781.14,167.07 L783.17,166.84 L785.19,166.63 L787.22,166.42 L789.24,166.23 L791.26,166.04 L793.28,165.87 L795.30,165.70 L797.31,165.54 L799.31,165.38 L801.29,165.23 L803.28,165.07 L805.28,164.91 L807.28,164.75 L809.30,164.60 L811.31,164.45 L813.33,164.31 L815.36,164.18 L817.39,164.05 L819.43,163.94 L821.47,163.84 L823.51,163.76 L825.56,163.68 L827.59,163.62 L829.61,163.57 L831.63,163.53 L833.65,163.49 L835.67,163.46 L837.69,163.43 L839.70,163.41 L841.72,163.39 L843.74,163.38 L845.76,163.38 L847.78,163.38 L849.81,163.39 L851.85,163.41 L853.89,163.45 L855.94,163.49 L858.00,163.56 L860.09,163.65 L862.17,163.76 L864.26,163.91 L866.43,164.10 L868.71,164.38 L871.09,164.81 L873.47,165.41 L875.64,166.09 L877.68,166.80 L879.75,167.58 L881.80,168.43 L883.82,169.34 L885.81,170.32 L887.79,171.39 L889.74,172.54 L891.67,173.79 L893.59,175.17 L895.49,176.73 L897.24,178.36 L898.84,180.02 L900.33,181.70 L901.73,183.40 L903.07,185.11 L904.35,186.82 L905.57,188.53 L906.83,190.34 L908.10,192.41 L909.24,194.54 L910.23,196.72 L911.07,198.84 L911.80,200.87 L912.53,203.39 L913.03,205.76 L913.37,207.96 L913.63,209.77 L913.64,209.81 L900.56,212.19 L900.52,211.98 L900.20,209.83 L899.93,208.07 L899.61,206.53 L899.23,205.21 L898.60,203.48 L897.97,201.88 L897.31,200.42 L896.56,199.02 L895.74,197.68 L894.71,196.21 L893.61,194.67 L892.49,193.17 L891.37,191.73 L890.22,190.35 L889.06,189.03 L887.88,187.82 L886.71,186.72 L885.51,185.74 L884.19,184.78 L882.76,183.86 L881.27,182.98 L879.73,182.15 L878.13,181.36 L876.51,180.63 L874.86,179.94 L873.19,179.32 L871.45,178.71 L869.80,178.20 L868.30,177.82 L866.75,177.54 L865.06,177.33 L863.25,177.17 L861.35,177.04 L859.43,176.93 L857.53,176.85 L855.59,176.79 L853.64,176.74 L851.68,176.71 L849.71,176.69 L847.75,176.68 L845.77,176.68 L843.79,176.68 L841.81,176.69 L839.82,176.71 L837.84,176.73 L835.86,176.76 L833.88,176.79 L831.90,176.83 L829.92,176.87 L827.94,176.92 L825.98,176.98 L824.02,177.05 L822.07,177.13 L820.11,177.22 L818.16,177.33 L816.20,177.45 L814.24,177.58 L812.27,177.72 L810.29,177.86 L808.31,178.01 L806.33,178.17 L804.34,178.33 L802.34,178.49 L800.34,178.64 L798.35,178.80 L796.38,178.96 L794.41,179.12 L792.44,179.29 L790.48,179.47 L788.52,179.66 L786.57,179.86 L784.61,180.06 L782.66,180.28 L780.71,180.51 L778.76,180.75 L776.81,181.00 L774.85,181.26 L772.91,181.53 L770.96,181.81 L769.01,182.09 L767.07,182.39 L765.12,182.70 L763.18,183.01 L761.24,183.34 L759.30,183.67 L757.36,184.01 L755.43,184.37 L753.50,184.73 L751.56,185.10 L749.63,185.48 L747.69,185.87 L745.76,186.27 L743.83,186.68 L741.90,187.09 L739.97,187.51 L738.05,187.94 L736.13,188.38 L734.20,188.83 L732.29,189.28 L730.37,189.74 L728.45,190.21 L726.54,190.69 L724.62,191.17 L722.72,191.66 L720.81,192.16 L718.91,192.67 L717.01,193.19 L715.11,193.72 L713.21,194.26 L711.31,194.80 L709.41,195.35 L707.50,195.91 L705.60,196.47 L703.70,197.04 L701.79,197.61 L699.88,198.18 L697.98,198.76 L696.08,199.33 L694.18,199.91 L692.29,200.50 L690.41,201.09 L688.53,201.69 L686.66,202.30 L684.78,202.91 L682.93,203.53 L681.06,204.17 L679.19,204.81 L677.32,205.46 L675.46,206.11 L673.60,206.78 L671.75,207.45 L669.91,208.12 L668.07,208.81 L666.23,209.51 L664.40,210.21 L662.58,210.93 L660.75,211.66 L658.92,212.40 L657.10,213.15 L655.28,213.90 L653.47,214.66 L651.66,215.44 L649.87,216.21 L648.08,217.01 L646.30,217.81 L644.52,218.63 L642.76,219.45 L641.00,220.29 L639.25,221.15 L637.50,222.01 L635.75,222.90 L634.00,223.79 L632.25,224.69 L630.51,225.61 L628.77,226.53 L627.02,227.46 L625.28,228.40 L623.54,229.35 L621.80,230.29 L620.07,231.25 L618.35,232.21 L616.63,233.17 L614.91,234.15 L613.20,235.13 L611.49,236.11 L609.79,237.11 L608.09,238.10 L606.39,239.11 L604.70,240.13 L603.02,241.15 L601.34,242.18 L599.67,243.21 L598.00,244.26 L596.32,245.32 L594.66,246.38 L592.99,247.44 L591.33,248.52 L589.67,249.60 L588.01,250.68 L586.35,251.77 L584.70,252.86 L583.05,253.96 L581.40,255.06 L579.76,256.16 L578.14,257.27 L576.53,258.38 L574.94,259.50 L573.35,260.63 L571.77,261.77 L570.19,262.93 L568.61,264.10 L567.04,265.28 L565.47,266.47 L563.91,267.67 L562.35,268.88 L560.79,270.09 L559.24,271.31 L557.68,272.55 L556.13,273.78 L554.57,275.02 L553.01,276.26 L551.46,277.51 L549.94,278.74 L548.44,279.97 L546.94,281.22 L545.44,282.49 L543.93,283.78 L542.42,285.07 L540.89,286.38 L539.36,287.68 L537.82,288.99 L536.27,290.30 L534.71,291.60 L533.14,292.89 L531.54,294.19 L529.92,295.48 L528.28,296.76 L526.60,298.03 L524.89,299.28 L523.16,300.50 L521.44,301.68 L519.71,302.83 L517.97,303.96 L516.22,305.07 L514.45,306.16 L512.68,307.23 L510.90,308.27 L509.12,309.30 L507.32,310.31 L505.53,311.30 L503.72,312.28 L501.92,313.24 L500.11,314.19 L498.29,315.12 L496.47,316.05 L494.60,316.98 L492.71,317.88 L490.81,318.76 L488.91,319.61 L487.01,320.43 L485.13,321.23 L483.24,322.01 L481.36,322.77 L479.48,323.53 L477.61,324.28 L475.75,325.01 L473.91,325.75 L472.07,326.49 L470.25,327.23 L468.45,327.98 L466.65,328.74 L464.84,329.52 L463.02,330.31 L461.20,331.11 L459.36,331.91 L457.51,332.72 L455.65,333.52 L453.76,334.32 L451.86,335.11 L449.92,335.89 L447.94,336.65 L445.94,337.38 L443.90,338.07 L441.72,338.72 L439.55,339.28 L437.34,339.77 L435.09,340.17 L432.78,340.47 L430.49,340.65 L428.23,340.74 L426.03,340.75 L423.92,340.71 L421.86,340.65 L419.65,340.54 L417.42,340.34 L415.21,340.08 L413.05,339.75 L410.92,339.36 L408.82,338.94 L406.76,338.48 L404.73,337.99 L402.68,337.47 L400.57,336.87 L398.51,336.24 L396.49,335.56 L394.50,334.86 L392.54,334.14 L390.61,333.40 L388.70,332.65 L386.82,331.89 L384.99,331.16 L383.11,330.41 L381.13,329.60 L379.07,328.68 L376.93,327.59 L374.84,326.35 L372.79,324.94 L370.91,323.45 L369.20,321.94 L367.60,320.42 L366.08,318.90 L364.63,317.39 L363.22,315.90 L361.84,314.44 L360.34,312.77 L358.90,311.05 L357.57,309.36 L356.35,307.75 L355.18,306.25 L353.82,304.46 L352.61,302.76 L351.55,301.30 L350.61,300.14 L349.73,299.25 L348.56,298.26 L347.34,297.37 L346.04,296.57 L344.72,295.87 L343.38,295.30 L341.95,294.82 L340.39,294.41 L338.75,294.06 L337.04,293.78 L335.48,293.61 L333.78,293.52 L331.93,293.48 L329.96,293.47 L327.89,293.45 L325.96,293.43 L324.01,293.42 L322.03,293.43 L320.05,293.44 L318.02,293.45Z" fill="#fff" stroke="none"/>
<clipPath id="cb3"><path d="M317.98,280.15 L319.95,280.14 L321.97,280.13 L323.99,280.12 L326.04,280.13 L328.11,280.15 L330.04,280.17 L332.07,280.19 L334.22,280.23 L336.51,280.35 L338.93,280.62 L341.16,280.98 L343.44,281.46 L345.74,282.07 L348.11,282.87 L350.44,283.87 L352.66,285.03 L354.76,286.34 L356.77,287.80 L358.66,289.39 L360.59,291.34 L362.17,293.29 L363.46,295.07 L364.57,296.63 L365.63,298.02 L366.92,299.68 L368.12,301.25 L369.25,302.70 L370.38,304.05 L371.56,305.35 L372.92,306.80 L374.26,308.22 L375.58,309.59 L376.89,310.91 L378.19,312.14 L379.48,313.28 L380.73,314.27 L381.97,315.12 L383.32,315.93 L384.75,316.65 L386.35,317.36 L388.06,318.07 L389.90,318.80 L391.79,319.55 L393.62,320.29 L395.43,321.00 L397.23,321.69 L399.02,322.35 L400.81,322.98 L402.59,323.58 L404.35,324.12 L406.09,324.61 L407.91,325.07 L409.77,325.52 L411.61,325.93 L413.43,326.30 L415.24,326.63 L417.03,326.90 L418.80,327.11 L420.55,327.27 L422.34,327.36 L424.27,327.42 L426.16,327.45 L427.96,327.45 L429.70,327.38 L431.40,327.24 L433.06,327.02 L434.75,326.73 L436.44,326.35 L438.14,325.91 L439.79,325.42 L441.54,324.83 L443.30,324.19 L445.05,323.51 L446.83,322.80 L448.61,322.06 L450.41,321.29 L452.22,320.51 L454.04,319.72 L455.87,318.92 L457.71,318.12 L459.56,317.31 L461.42,316.51 L463.31,315.71 L465.20,314.93 L467.08,314.16 L468.96,313.40 L470.83,312.66 L472.69,311.92 L474.53,311.18 L476.37,310.45 L478.19,309.70 L480.00,308.96 L481.79,308.20 L483.57,307.43 L485.32,306.64 L487.06,305.84 L488.77,305.02 L490.48,304.17 L492.23,303.29 L493.97,302.39 L495.70,301.48 L497.43,300.56 L499.14,299.64 L500.85,298.70 L502.54,297.74 L504.22,296.77 L505.89,295.79 L507.54,294.80 L509.18,293.78 L510.81,292.75 L512.42,291.70 L514.02,290.64 L515.60,289.56 L517.14,288.47 L518.66,287.36 L520.17,286.21 L521.68,285.04 L523.19,283.84 L524.70,282.61 L526.22,281.36 L527.73,280.10 L529.24,278.83 L530.75,277.55 L532.26,276.26 L533.77,274.97 L535.30,273.66 L536.84,272.35 L538.39,271.04 L539.96,269.73 L541.55,268.42 L543.14,267.13 L544.70,265.88 L546.27,264.62 L547.85,263.37 L549.42,262.12 L551.00,260.87 L552.59,259.62 L554.19,258.38 L555.79,257.13 L557.41,255.90 L559.03,254.67 L560.65,253.45 L562.29,252.23 L563.93,251.03 L565.59,249.83 L567.26,248.63 L568.94,247.46 L570.63,246.30 L572.31,245.15 L573.99,244.02 L575.67,242.89 L577.35,241.78 L579.03,240.66 L580.72,239.56 L582.41,238.45 L584.10,237.35 L585.80,236.26 L587.50,235.17 L589.21,234.08 L590.91,233.00 L592.64,231.92 L594.37,230.85 L596.09,229.79 L597.83,228.74 L599.58,227.69 L601.31,226.66 L603.07,225.63 L604.82,224.61 L606.57,223.59 L608.33,222.59 L610.09,221.59 L611.86,220.60 L613.63,219.61 L615.40,218.63 L617.18,217.66 L618.95,216.70 L620.73,215.74 L622.52,214.79 L624.31,213.84 L626.11,212.90 L627.91,211.96 L629.73,211.03 L631.55,210.12 L633.38,209.21 L635.22,208.31 L637.07,207.43 L638.94,206.56 L640.79,205.70 L642.66,204.86 L644.53,204.04 L646.40,203.22 L648.27,202.42 L650.15,201.63 L652.03,200.85 L653.91,200.08 L655.79,199.32 L657.67,198.57 L659.57,197.82 L661.48,197.09 L663.38,196.37 L665.29,195.65 L667.19,194.95 L669.11,194.26 L671.01,193.58 L672.93,192.90 L674.84,192.24 L676.75,191.58 L678.67,190.93 L680.61,190.28 L682.53,189.65 L684.47,189.02 L686.40,188.41 L688.33,187.80 L690.26,187.21 L692.19,186.61 L694.12,186.03 L696.04,185.45 L697.97,184.87 L699.89,184.29 L701.82,183.72 L703.75,183.15 L705.69,182.58 L707.63,182.02 L709.58,181.46 L711.52,180.91 L713.48,180.37 L715.44,179.84 L717.40,179.31 L719.36,178.79 L721.33,178.29 L723.29,177.79 L725.26,177.30 L727.23,176.82 L729.20,176.34 L731.18,175.88 L733.15,175.42 L735.13,174.97 L737.11,174.53 L739.09,174.09 L741.07,173.67 L743.05,173.25 L745.04,172.84 L747.02,172.44 L749.02,172.05 L751.01,171.66 L753.01,171.29 L755.01,170.92 L757.01,170.57 L759.01,170.22 L761.02,169.89 L763.02,169.56 L765.03,169.25 L767.04,168.94 L769.05,168.64 L771.06,168.36 L773.08,168.08 L775.09,167.81 L777.11,167.56 L779.12,167.31 L781.14,167.07 L783.17,166.84 L785.19,166.63 L787.22,166.42 L789.24,166.23 L791.26,166.04 L793.28,165.87 L795.30,165.70 L797.31,165.54 L799.31,165.38 L801.29,165.23 L803.28,165.07 L805.28,164.91 L807.28,164.75 L809.30,164.60 L811.31,164.45 L813.33,164.31 L815.36,164.18 L817.39,164.05 L819.43,163.94 L821.47,163.84 L823.51,163.76 L825.56,163.68 L827.59,163.62 L829.61,163.57 L831.63,163.53 L833.65,163.49 L835.67,163.46 L837.69,163.43 L839.70,163.41 L841.72,163.39 L843.74,163.38 L845.76,163.38 L847.78,163.38 L849.81,163.39 L851.85,163.41 L853.89,163.45 L855.94,163.49 L858.00,163.56 L860.09,163.65 L862.17,163.76 L864.26,163.91 L866.43,164.10 L868.71,164.38 L871.09,164.81 L873.47,165.41 L875.64,166.09 L877.68,166.80 L879.75,167.58 L881.80,168.43 L883.82,169.34 L885.81,170.32 L887.79,171.39 L889.74,172.54 L891.67,173.79 L893.59,175.17 L895.49,176.73 L897.24,178.36 L898.84,180.02 L900.33,181.70 L901.73,183.40 L903.07,185.11 L904.35,186.82 L905.57,188.53 L906.83,190.34 L908.10,192.41 L909.24,194.54 L910.23,196.72 L911.07,198.84 L911.80,200.87 L912.53,203.39 L913.03,205.76 L913.37,207.96 L913.63,209.77 L913.64,209.81 L900.56,212.19 L900.52,211.98 L900.20,209.83 L899.93,208.07 L899.61,206.53 L899.23,205.21 L898.60,203.48 L897.97,201.88 L897.31,200.42 L896.56,199.02 L895.74,197.68 L894.71,196.21 L893.61,194.67 L892.49,193.17 L891.37,191.73 L890.22,190.35 L889.06,189.03 L887.88,187.82 L886.71,186.72 L885.51,185.74 L884.19,184.78 L882.76,183.86 L881.27,182.98 L879.73,182.15 L878.13,181.36 L876.51,180.63 L874.86,179.94 L873.19,179.32 L871.45,178.71 L869.80,178.20 L868.30,177.82 L866.75,177.54 L865.06,177.33 L863.25,177.17 L861.35,177.04 L859.43,176.93 L857.53,176.85 L855.59,176.79 L853.64,176.74 L851.68,176.71 L849.71,176.69 L847.75,176.68 L845.77,176.68 L843.79,176.68 L841.81,176.69 L839.82,176.71 L837.84,176.73 L835.86,176.76 L833.88,176.79 L831.90,176.83 L829.92,176.87 L827.94,176.92 L825.98,176.98 L824.02,177.05 L822.07,177.13 L820.11,177.22 L818.16,177.33 L816.20,177.45 L814.24,177.58 L812.27,177.72 L810.29,177.86 L808.31,178.01 L806.33,178.17 L804.34,178.33 L802.34,178.49 L800.34,178.64 L798.35,178.80 L796.38,178.96 L794.41,179.12 L792.44,179.29 L790.48,179.47 L788.52,179.66 L786.57,179.86 L784.61,180.06 L782.66,180.28 L780.71,180.51 L778.76,180.75 L776.81,181.00 L774.85,181.26 L772.91,181.53 L770.96,181.81 L769.01,182.09 L767.07,182.39 L765.12,182.70 L763.18,183.01 L761.24,183.34 L759.30,183.67 L757.36,184.01 L755.43,184.37 L753.50,184.73 L751.56,185.10 L749.63,185.48 L747.69,185.87 L745.76,186.27 L743.83,186.68 L741.90,187.09 L739.97,187.51 L738.05,187.94 L736.13,188.38 L734.20,188.83 L732.29,189.28 L730.37,189.74 L728.45,190.21 L726.54,190.69 L724.62,191.17 L722.72,191.66 L720.81,192.16 L718.91,192.67 L717.01,193.19 L715.11,193.72 L713.21,194.26 L711.31,194.80 L709.41,195.35 L707.50,195.91 L705.60,196.47 L703.70,197.04 L701.79,197.61 L699.88,198.18 L697.98,198.76 L696.08,199.33 L694.18,199.91 L692.29,200.50 L690.41,201.09 L688.53,201.69 L686.66,202.30 L684.78,202.91 L682.93,203.53 L681.06,204.17 L679.19,204.81 L677.32,205.46 L675.46,206.11 L673.60,206.78 L671.75,207.45 L669.91,208.12 L668.07,208.81 L666.23,209.51 L664.40,210.21 L662.58,210.93 L660.75,211.66 L658.92,212.40 L657.10,213.15 L655.28,213.90 L653.47,214.66 L651.66,215.44 L649.87,216.21 L648.08,217.01 L646.30,217.81 L644.52,218.63 L642.76,219.45 L641.00,220.29 L639.25,221.15 L637.50,222.01 L635.75,222.90 L634.00,223.79 L632.25,224.69 L630.51,225.61 L628.77,226.53 L627.02,227.46 L625.28,228.40 L623.54,229.35 L621.80,230.29 L620.07,231.25 L618.35,232.21 L616.63,233.17 L614.91,234.15 L613.20,235.13 L611.49,236.11 L609.79,237.11 L608.09,238.10 L606.39,239.11 L604.70,240.13 L603.02,241.15 L601.34,242.18 L599.67,243.21 L598.00,244.26 L596.32,245.32 L594.66,246.38 L592.99,247.44 L591.33,248.52 L589.67,249.60 L588.01,250.68 L586.35,251.77 L584.70,252.86 L583.05,253.96 L581.40,255.06 L579.76,256.16 L578.14,257.27 L576.53,258.38 L574.94,259.50 L573.35,260.63 L571.77,261.77 L570.19,262.93 L568.61,264.10 L567.04,265.28 L565.47,266.47 L563.91,267.67 L562.35,268.88 L560.79,270.09 L559.24,271.31 L557.68,272.55 L556.13,273.78 L554.57,275.02 L553.01,276.26 L551.46,277.51 L549.94,278.74 L548.44,279.97 L546.94,281.22 L545.44,282.49 L543.93,283.78 L542.42,285.07 L540.89,286.38 L539.36,287.68 L537.82,288.99 L536.27,290.30 L534.71,291.60 L533.14,292.89 L531.54,294.19 L529.92,295.48 L528.28,296.76 L526.60,298.03 L524.89,299.28 L523.16,300.50 L521.44,301.68 L519.71,302.83 L517.97,303.96 L516.22,305.07 L514.45,306.16 L512.68,307.23 L510.90,308.27 L509.12,309.30 L507.32,310.31 L505.53,311.30 L503.72,312.28 L501.92,313.24 L500.11,314.19 L498.29,315.12 L496.47,316.05 L494.60,316.98 L492.71,317.88 L490.81,318.76 L488.91,319.61 L487.01,320.43 L485.13,321.23 L483.24,322.01 L481.36,322.77 L479.48,323.53 L477.61,324.28 L475.75,325.01 L473.91,325.75 L472.07,326.49 L470.25,327.23 L468.45,327.98 L466.65,328.74 L464.84,329.52 L463.02,330.31 L461.20,331.11 L459.36,331.91 L457.51,332.72 L455.65,333.52 L453.76,334.32 L451.86,335.11 L449.92,335.89 L447.94,336.65 L445.94,337.38 L443.90,338.07 L441.72,338.72 L439.55,339.28 L437.34,339.77 L435.09,340.17 L432.78,340.47 L430.49,340.65 L428.23,340.74 L426.03,340.75 L423.92,340.71 L421.86,340.65 L419.65,340.54 L417.42,340.34 L415.21,340.08 L413.05,339.75 L410.92,339.36 L408.82,338.94 L406.76,338.48 L404.73,337.99 L402.68,337.47 L400.57,336.87 L398.51,336.24 L396.49,335.56 L394.50,334.86 L392.54,334.14 L390.61,333.40 L388.70,332.65 L386.82,331.89 L384.99,331.16 L383.11,330.41 L381.13,329.60 L379.07,328.68 L376.93,327.59 L374.84,326.35 L372.79,324.94 L370.91,323.45 L369.20,321.94 L367.60,320.42 L366.08,318.90 L364.63,317.39 L363.22,315.90 L361.84,314.44 L360.34,312.77 L358.90,311.05 L357.57,309.36 L356.35,307.75 L355.18,306.25 L353.82,304.46 L352.61,302.76 L351.55,301.30 L350.61,300.14 L349.73,299.25 L348.56,298.26 L347.34,297.37 L346.04,296.57 L344.72,295.87 L343.38,295.30 L341.95,294.82 L340.39,294.41 L338.75,294.06 L337.04,293.78 L335.48,293.61 L333.78,293.52 L331.93,293.48 L329.96,293.47 L327.89,293.45 L325.96,293.43 L324.01,293.42 L322.03,293.43 L320.05,293.44 L318.02,293.45Z"/></clipPath>
<path clip-path="url(#cb3)" d="M276.57,269.24L289.58,282.25M298.26,273.58L285.25,286.59M276.57,277.91L289.58,290.92M298.26,282.25L285.25,295.26M293.92,251.90L306.93,264.90M315.60,256.23L302.59,269.24M293.92,260.57L306.93,273.58M315.60,264.90L302.59,277.91M293.92,269.24L306.93,282.25M315.60,273.58L302.59,286.59M293.92,277.91L306.93,290.92M315.60,282.25L302.59,295.26M293.92,286.59L306.93,299.60M315.60,290.92L302.59,303.93M293.92,295.26L306.93,308.27M315.60,299.60L302.59,312.61M311.27,251.90L324.28,264.90M332.95,256.23L319.94,269.24M311.27,260.57L324.28,273.58M332.95,264.90L319.94,277.91M311.27,269.24L324.28,282.25M332.95,273.58L319.94,286.59M311.27,277.91L324.28,290.92M332.95,282.25L319.94,295.26M311.27,286.59L324.28,299.60M332.95,290.92L319.94,303.93M311.27,295.26L324.28,308.27M332.95,299.60L319.94,312.61M328.61,251.90L341.62,264.90M350.29,256.23L337.29,269.24M328.61,260.57L341.62,273.58M350.29,264.90L337.29,277.91M328.61,269.24L341.62,282.25M350.29,273.58L337.29,286.59M328.61,277.91L341.62,290.92M350.29,282.25L337.29,295.26M328.61,286.59L341.62,299.60M350.29,290.92L337.29,303.93M328.61,295.26L341.62,308.27M350.29,299.60L337.29,312.61M328.61,303.93L341.62,316.94M350.29,308.27L337.29,321.28M328.61,312.61L341.62,325.62M350.29,316.94L337.29,329.95M345.96,251.90L358.97,264.90M367.64,256.23L354.63,269.24M345.96,260.57L358.97,273.58M367.64,264.90L354.63,277.91M345.96,269.24L358.97,282.25M367.64,273.58L354.63,286.59M345.96,277.91L358.97,290.92M367.64,282.25L354.63,295.26M345.96,286.59L358.97,299.60M367.64,290.92L354.63,303.93M345.96,295.26L358.97,308.27M367.64,299.60L354.63,312.61M345.96,303.93L358.97,316.94M367.64,308.27L354.63,321.28M345.96,312.61L358.97,325.62M367.64,316.94L354.63,329.95M345.96,321.28L358.97,334.29M367.64,325.62L354.63,338.63M345.96,329.95L358.97,342.96M367.64,334.29L354.63,347.30M363.30,269.24L376.31,282.25M384.99,273.58L371.98,286.59M363.30,277.91L376.31,290.92M384.99,282.25L371.98,295.26M363.30,286.59L376.31,299.60M384.99,290.92L371.98,303.93M363.30,295.26L376.31,308.27M384.99,299.60L371.98,312.61M363.30,303.93L376.31,316.94M384.99,308.27L371.98,321.28M363.30,312.61L376.31,325.62M384.99,316.94L371.98,329.95M363.30,321.28L376.31,334.29M384.99,325.62L371.98,338.63M363.30,329.95L376.31,342.96M384.99,334.29L371.98,347.30M363.30,338.63L376.31,351.63M384.99,342.96L371.98,355.97M380.65,286.59L393.66,299.60M402.33,290.92L389.32,303.93M380.65,295.26L393.66,308.27M402.33,299.60L389.32,312.61M380.65,303.93L393.66,316.94M402.33,308.27L389.32,321.28M380.65,312.61L393.66,325.62M402.33,316.94L389.32,329.95M380.65,321.28L393.66,334.29M402.33,325.62L389.32,338.63M380.65,329.95L393.66,342.96M402.33,334.29L389.32,347.30M380.65,338.63L393.66,351.63M402.33,342.96L389.32,355.97M398.00,295.26L411.01,308.27M419.68,299.60L406.67,312.61M398.00,303.93L411.01,316.94M419.68,308.27L406.67,321.28M398.00,312.61L411.01,325.62M419.68,316.94L406.67,329.95M398.00,321.28L411.01,334.29M419.68,325.62L406.67,338.63M398.00,329.95L411.01,342.96M419.68,334.29L406.67,347.30M398.00,338.63L411.01,351.63M419.68,342.96L406.67,355.97M398.00,347.30L411.01,360.31M419.68,351.63L406.67,364.64M415.34,295.26L428.35,308.27M437.02,299.60L424.02,312.61M415.34,303.93L428.35,316.94M437.02,308.27L424.02,321.28M415.34,312.61L428.35,325.62M437.02,316.94L424.02,329.95M415.34,321.28L428.35,334.29M437.02,325.62L424.02,338.63M415.34,329.95L428.35,342.96M437.02,334.29L424.02,347.30M415.34,338.63L428.35,351.63M437.02,342.96L424.02,355.97M415.34,347.30L428.35,360.31M437.02,351.63L424.02,364.64M432.69,286.59L445.70,299.60M454.37,290.92L441.36,303.93M432.69,295.26L445.70,308.27M454.37,299.60L441.36,312.61M432.69,303.93L445.70,316.94M454.37,308.27L441.36,321.28M432.69,312.61L445.70,325.62M454.37,316.94L441.36,329.95M432.69,321.28L445.70,334.29M454.37,325.62L441.36,338.63M432.69,329.95L445.70,342.96M454.37,334.29L441.36,347.30M432.69,338.63L445.70,351.63M454.37,342.96L441.36,355.97M432.69,347.30L445.70,360.31M454.37,351.63L441.36,364.64M450.03,277.91L463.04,290.92M471.72,282.25L458.71,295.26M450.03,286.59L463.04,299.60M471.72,290.92L458.71,303.93M450.03,295.26L463.04,308.27M471.72,299.60L458.71,312.61M450.03,303.93L463.04,316.94M471.72,308.27L458.71,321.28M450.03,312.61L463.04,325.62M471.72,316.94L458.71,329.95M450.03,321.28L463.04,334.29M471.72,325.62L458.71,338.63M450.03,329.95L463.04,342.96M471.72,334.29L458.71,347.30M450.03,338.63L463.04,351.63M471.72,342.96L458.71,355.97M467.38,277.91L480.39,290.92M489.06,282.25L476.05,295.26M467.38,286.59L480.39,299.60M489.06,290.92L476.05,303.93M467.38,295.26L480.39,308.27M489.06,299.60L476.05,312.61M467.38,303.93L480.39,316.94M489.06,308.27L476.05,321.28M467.38,312.61L480.39,325.62M489.06,316.94L476.05,329.95M467.38,321.28L480.39,334.29M489.06,325.62L476.05,338.63M467.38,329.95L480.39,342.96M489.06,334.29L476.05,347.30M484.73,260.57L497.74,273.58M506.41,264.90L493.40,277.91M484.73,269.24L497.74,282.25M506.41,273.58L493.40,286.59M484.73,277.91L497.74,290.92M506.41,282.25L493.40,295.26M484.73,286.59L497.74,299.60M506.41,290.92L493.40,303.93M484.73,295.26L497.74,308.27M506.41,299.60L493.40,312.61M484.73,303.93L497.74,316.94M506.41,308.27L493.40,321.28M484.73,312.61L497.74,325.62M506.41,316.94L493.40,329.95M484.73,321.28L497.74,334.29M506.41,325.62L493.40,338.63M502.07,251.90L515.08,264.90M523.75,256.23L510.75,269.24M502.07,260.57L515.08,273.58M523.75,264.90L510.75,277.91M502.07,269.24L515.08,282.25M523.75,273.58L510.75,286.59M502.07,277.91L515.08,290.92M523.75,282.25L510.75,295.26M502.07,286.59L515.08,299.60M523.75,290.92L510.75,303.93M502.07,295.26L515.08,308.27M523.75,299.60L510.75,312.61M502.07,303.93L515.08,316.94M523.75,308.27L510.75,321.28M502.07,312.61L515.08,325.62M523.75,316.94L510.75,329.95M519.42,234.55L532.43,247.56M541.10,238.89L528.09,251.90M519.42,243.22L532.43,256.23M541.10,247.56L528.09,260.57M519.42,251.90L532.43,264.90M541.10,256.23L528.09,269.24M519.42,260.57L532.43,273.58M541.10,264.90L528.09,277.91M519.42,269.24L532.43,282.25M541.10,273.58L528.09,286.59M519.42,277.91L532.43,290.92M541.10,282.25L528.09,295.26M519.42,286.59L532.43,299.60M541.10,290.92L528.09,303.93M519.42,295.26L532.43,308.27M541.10,299.60L528.09,312.61M519.42,303.93L532.43,316.94M541.10,308.27L528.09,321.28M536.76,225.88L549.77,238.89M558.45,230.21L545.44,243.22M536.76,234.55L549.77,247.56M558.45,238.89L545.44,251.90M536.76,243.22L549.77,256.23M558.45,247.56L545.44,260.57M536.76,251.90L549.77,264.90M558.45,256.23L545.44,269.24M536.76,260.57L549.77,273.58M558.45,264.90L545.44,277.91M536.76,269.24L549.77,282.25M558.45,273.58L545.44,286.59M536.76,277.91L549.77,290.92M558.45,282.25L545.44,295.26M536.76,286.59L549.77,299.60M558.45,290.92L545.44,303.93M536.76,295.26L549.77,308.27M558.45,299.60L545.44,312.61M554.11,208.53L567.12,221.54M575.79,212.87L562.78,225.88M554.11,217.20L567.12,230.21M575.79,221.54L562.78,234.55M554.11,225.88L567.12,238.89M575.79,230.21L562.78,243.22M554.11,234.55L567.12,247.56M575.79,238.89L562.78,251.90M554.11,243.22L567.12,256.23M575.79,247.56L562.78,260.57M554.11,251.90L567.12,264.90M575.79,256.23L562.78,269.24M554.11,260.57L567.12,273.58M575.79,264.90L562.78,277.91M554.11,269.24L567.12,282.25M575.79,273.58L562.78,286.59M554.11,277.91L567.12,290.92M575.79,282.25L562.78,295.26M571.46,199.86L584.47,212.87M593.14,204.19L580.13,217.20M571.46,208.53L584.47,221.54M593.14,212.87L580.13,225.88M571.46,217.20L584.47,230.21M593.14,221.54L580.13,234.55M571.46,225.88L584.47,238.89M593.14,230.21L580.13,243.22M571.46,234.55L584.47,247.56M593.14,238.89L580.13,251.90M571.46,243.22L584.47,256.23M593.14,247.56L580.13,260.57M571.46,251.90L584.47,264.90M593.14,256.23L580.13,269.24M571.46,260.57L584.47,273.58M593.14,264.90L580.13,277.91M588.80,191.18L601.81,204.19M610.49,195.52L597.48,208.53M588.80,199.86L601.81,212.87M610.49,204.19L597.48,217.20M588.80,208.53L601.81,221.54M610.49,212.87L597.48,225.88M588.80,217.20L601.81,230.21M610.49,221.54L597.48,234.55M588.80,225.88L601.81,238.89M610.49,230.21L597.48,243.22M588.80,234.55L601.81,247.56M610.49,238.89L597.48,251.90M588.80,243.22L601.81,256.23M610.49,247.56L597.48,260.57M588.80,251.90L601.81,264.90M610.49,256.23L597.48,269.24M606.15,182.51L619.16,195.52M627.83,186.85L614.82,199.86M606.15,191.18L619.16,204.19M627.83,195.52L614.82,208.53M606.15,199.86L619.16,212.87M627.83,204.19L614.82,217.20M606.15,208.53L619.16,221.54M627.83,212.87L614.82,225.88M606.15,217.20L619.16,230.21M627.83,221.54L614.82,234.55M606.15,225.88L619.16,238.89M627.83,230.21L614.82,243.22M606.15,234.55L619.16,247.56M627.83,238.89L614.82,251.90M606.15,243.22L619.16,256.23M627.83,247.56L614.82,260.57M623.49,173.84L636.50,186.85M645.18,178.18L632.17,191.18M623.49,182.51L636.50,195.52M645.18,186.85L632.17,199.86M623.49,191.18L636.50,204.19M645.18,195.52L632.17,208.53M623.49,199.86L636.50,212.87M645.18,204.19L632.17,217.20M623.49,208.53L636.50,221.54M645.18,212.87L632.17,225.88M623.49,217.20L636.50,230.21M645.18,221.54L632.17,234.55M623.49,225.88L636.50,238.89M645.18,230.21L632.17,243.22M623.49,234.55L636.50,247.56M645.18,238.89L632.17,251.90M640.84,165.17L653.85,178.18M662.52,169.50L649.51,182.51M640.84,173.84L653.85,186.85M662.52,178.18L649.51,191.18M640.84,182.51L653.85,195.52M662.52,186.85L649.51,199.86M640.84,191.18L653.85,204.19M662.52,195.52L649.51,208.53M640.84,199.86L653.85,212.87M662.52,204.19L649.51,217.20M640.84,208.53L653.85,221.54M662.52,212.87L649.51,225.88M640.84,217.20L653.85,230.21M662.52,221.54L649.51,234.55M640.84,225.88L653.85,238.89M662.52,230.21L649.51,243.22M658.19,156.49L671.20,169.50M679.87,160.83L666.86,173.84M658.19,165.17L671.20,178.18M679.87,169.50L666.86,182.51M658.19,173.84L671.20,186.85M679.87,178.18L666.86,191.18M658.19,182.51L671.20,195.52M679.87,186.85L666.86,199.86M658.19,191.18L671.20,204.19M679.87,195.52L666.86,208.53M658.19,199.86L671.20,212.87M679.87,204.19L666.86,217.20M658.19,208.53L671.20,221.54M679.87,212.87L666.86,225.88M658.19,217.20L671.20,230.21M679.87,221.54L666.86,234.55M675.53,156.49L688.54,169.50M697.21,160.83L684.21,173.84M675.53,165.17L688.54,178.18M697.21,169.50L684.21,182.51M675.53,173.84L688.54,186.85M697.21,178.18L684.21,191.18M675.53,182.51L688.54,195.52M697.21,186.85L684.21,199.86M675.53,191.18L688.54,204.19M697.21,195.52L684.21,208.53M675.53,199.86L688.54,212.87M697.21,204.19L684.21,217.20M675.53,208.53L688.54,221.54M697.21,212.87L684.21,225.88M692.88,147.82L705.89,160.83M714.56,152.16L701.55,165.17M692.88,156.49L705.89,169.50M714.56,160.83L701.55,173.84M692.88,165.17L705.89,178.18M714.56,169.50L701.55,182.51M692.88,173.84L705.89,186.85M714.56,178.18L701.55,191.18M692.88,182.51L705.89,195.52M714.56,186.85L701.55,199.86M692.88,191.18L705.89,204.19M714.56,195.52L701.55,208.53M692.88,199.86L705.89,212.87M714.56,204.19L701.55,217.20M710.22,147.82L723.23,160.83M731.91,152.16L718.90,165.17M710.22,156.49L723.23,169.50M731.91,160.83L718.90,173.84M710.22,165.17L723.23,178.18M731.91,169.50L718.90,182.51M710.22,173.84L723.23,186.85M731.91,178.18L718.90,191.18M710.22,182.51L723.23,195.52M731.91,186.85L718.90,199.86M710.22,191.18L723.23,204.19M731.91,195.52L718.90,208.53M710.22,199.86L723.23,212.87M731.91,204.19L718.90,217.20M727.57,139.15L740.58,152.16M749.25,143.48L736.24,156.49M727.57,147.82L740.58,160.83M749.25,152.16L736.24,165.17M727.57,156.49L740.58,169.50M749.25,160.83L736.24,173.84M727.57,165.17L740.58,178.18M749.25,169.50L736.24,182.51M727.57,173.84L740.58,186.85M749.25,178.18L736.24,191.18M727.57,182.51L740.58,195.52M749.25,186.85L736.24,199.86M727.57,191.18L740.58,204.19M749.25,195.52L736.24,208.53M744.92,139.15L757.93,152.16M766.60,143.48L753.59,156.49M744.92,147.82L757.93,160.83M766.60,152.16L753.59,165.17M744.92,156.49L757.93,169.50M766.60,160.83L753.59,173.84M744.92,165.17L757.93,178.18M766.60,169.50L753.59,182.51M744.92,173.84L757.93,186.85M766.60,178.18L753.59,191.18M744.92,182.51L757.93,195.52M766.60,186.85L753.59,199.86M744.92,191.18L757.93,204.19M766.60,195.52L753.59,208.53M762.26,139.15L775.27,152.16M783.94,143.48L770.94,156.49M762.26,147.82L775.27,160.83M783.94,152.16L770.94,165.17M762.26,156.49L775.27,169.50M783.94,160.83L770.94,173.84M762.26,165.17L775.27,178.18M783.94,169.50L770.94,182.51M762.26,173.84L775.27,186.85M783.94,178.18L770.94,191.18M762.26,182.51L775.27,195.52M783.94,186.85L770.94,199.86M762.26,191.18L775.27,204.19M783.94,195.52L770.94,208.53M779.61,130.47L792.62,143.48M801.29,134.81L788.28,147.82M779.61,139.15L792.62,152.16M801.29,143.48L788.28,156.49M779.61,147.82L792.62,160.83M801.29,152.16L788.28,165.17M779.61,156.49L792.62,169.50M801.29,160.83L788.28,173.84M779.61,165.17L792.62,178.18M801.29,169.50L788.28,182.51M779.61,173.84L792.62,186.85M801.29,178.18L788.28,191.18M779.61,182.51L792.62,195.52M801.29,186.85L788.28,199.86M796.95,130.47L809.96,143.48M818.64,134.81L805.63,147.82M796.95,139.15L809.96,152.16M818.64,143.48L805.63,156.49M796.95,147.82L809.96,160.83M818.64,152.16L805.63,165.17M796.95,156.49L809.96,169.50M818.64,160.83L805.63,173.84M796.95,165.17L809.96,178.18M818.64,169.50L805.63,182.51M796.95,173.84L809.96,186.85M818.64,178.18L805.63,191.18M796.95,182.51L809.96,195.52M818.64,186.85L805.63,199.86M814.30,130.47L827.31,143.48M835.98,134.81L822.97,147.82M814.30,139.15L827.31,152.16M835.98,143.48L822.97,156.49M814.30,147.82L827.31,160.83M835.98,152.16L822.97,165.17M814.30,156.49L827.31,169.50M835.98,160.83L822.97,173.84M814.30,165.17L827.31,178.18M835.98,169.50L822.97,182.51M814.30,173.84L827.31,186.85M835.98,178.18L822.97,191.18M814.30,182.51L827.31,195.52M835.98,186.85L822.97,199.86M831.65,130.47L844.66,143.48M853.33,134.81L840.32,147.82M831.65,139.15L844.66,152.16M853.33,143.48L840.32,156.49M831.65,147.82L844.66,160.83M853.33,152.16L840.32,165.17M831.65,156.49L844.66,169.50M853.33,160.83L840.32,173.84M831.65,165.17L844.66,178.18M853.33,169.50L840.32,182.51M831.65,173.84L844.66,186.85M853.33,178.18L840.32,191.18M831.65,182.51L844.66,195.52M853.33,186.85L840.32,199.86M848.99,130.47L862.00,143.48M870.67,134.81L857.67,147.82M848.99,139.15L862.00,152.16M870.67,143.48L857.67,156.49M848.99,147.82L862.00,160.83M870.67,152.16L857.67,165.17M848.99,156.49L862.00,169.50M870.67,160.83L857.67,173.84M848.99,165.17L862.00,178.18M870.67,169.50L857.67,182.51M848.99,173.84L862.00,186.85M870.67,178.18L857.67,191.18M848.99,182.51L862.00,195.52M870.67,186.85L857.67,199.86M866.34,130.47L879.35,143.48M888.02,134.81L875.01,147.82M866.34,139.15L879.35,152.16M888.02,143.48L875.01,156.49M866.34,147.82L879.35,160.83M888.02,152.16L875.01,165.17M866.34,156.49L879.35,169.50M888.02,160.83L875.01,173.84M866.34,165.17L879.35,178.18M888.02,169.50L875.01,182.51M866.34,173.84L879.35,186.85M888.02,178.18L875.01,191.18M866.34,182.51L879.35,195.52M888.02,186.85L875.01,199.86M866.34,191.18L879.35,204.19M888.02,195.52L875.01,208.53M866.34,199.86L879.35,212.87M888.02,204.19L875.01,217.20M866.34,208.53L879.35,221.54M888.02,212.87L875.01,225.88M883.68,139.15L896.69,152.16M905.37,143.48L892.36,156.49M883.68,147.82L896.69,160.83M905.37,152.16L892.36,165.17M883.68,156.49L896.69,169.50M905.37,160.83L892.36,173.84M883.68,165.17L896.69,178.18M905.37,169.50L892.36,182.51M883.68,173.84L896.69,186.85M905.37,178.18L892.36,191.18M883.68,182.51L896.69,195.52M905.37,186.85L892.36,199.86M883.68,191.18L896.69,204.19M905.37,195.52L892.36,208.53M883.68,199.86L896.69,212.87M905.37,204.19L892.36,217.20M883.68,208.53L896.69,221.54M905.37,212.87L892.36,225.88M883.68,217.20L896.69,230.21M905.37,221.54L892.36,234.55M883.68,225.88L896.69,238.89M905.37,230.21L892.36,243.22M901.03,156.49L914.04,169.50M922.71,160.83L909.70,173.84M901.03,165.17L914.04,178.18M922.71,169.50L909.70,182.51M901.03,173.84L914.04,186.85M922.71,178.18L909.70,191.18M901.03,182.51L914.04,195.52M922.71,186.85L909.70,199.86M901.03,191.18L914.04,204.19M922.71,195.52L909.70,208.53M901.03,199.86L914.04,212.87M922.71,204.19L909.70,217.20M901.03,208.53L914.04,221.54M922.71,212.87L909.70,225.88M901.03,217.20L914.04,230.21M922.71,221.54L909.70,234.55M901.03,225.88L914.04,238.89M922.71,230.21L909.70,243.22M918.38,173.84L931.39,186.85M940.06,178.18L927.05,191.18M918.38,182.51L931.39,195.52M940.06,186.85L927.05,199.86M918.38,191.18L931.39,204.19M940.06,195.52L927.05,208.53M918.38,199.86L931.39,212.87M940.06,204.19L927.05,217.20M918.38,208.53L931.39,221.54M940.06,212.87L927.05,225.88" fill="none" stroke="#333333" stroke-width="1" stroke-linecap="butt"/>
<path d="M317.98,280.15 L319.95,280.14 L321.97,280.13 L323.99,280.12 L326.04,280.13 L328.11,280.15 L330.04,280.17 L332.07,280.19 L334.22,280.23 L336.51,280.35 L338.93,280.62 L341.16,280.98 L343.44,281.46 L345.74,282.07 L348.11,282.87 L350.44,283.87 L352.66,285.03 L354.76,286.34 L356.77,287.80 L358.66,289.39 L360.59,291.34 L362.17,293.29 L363.46,295.07 L364.57,296.63 L365.63,298.02 L366.92,299.68 L368.12,301.25 L369.25,302.70 L370.38,304.05 L371.56,305.35 L372.92,306.80 L374.26,308.22 L375.58,309.59 L376.89,310.91 L378.19,312.14 L379.48,313.28 L380.73,314.27 L381.97,315.12 L383.32,315.93 L384.75,316.65 L386.35,317.36 L388.06,318.07 L389.90,318.80 L391.79,319.55 L393.62,320.29 L395.43,321.00 L397.23,321.69 L399.02,322.35 L400.81,322.98 L402.59,323.58 L404.35,324.12 L406.09,324.61 L407.91,325.07 L409.77,325.52 L411.61,325.93 L413.43,326.30 L415.24,326.63 L417.03,326.90 L418.80,327.11 L420.55,327.27 L422.34,327.36 L424.27,327.42 L426.16,327.45 L427.96,327.45 L429.70,327.38 L431.40,327.24 L433.06,327.02 L434.75,326.73 L436.44,326.35 L438.14,325.91 L439.79,325.42 L441.54,324.83 L443.30,324.19 L445.05,323.51 L446.83,322.80 L448.61,322.06 L450.41,321.29 L452.22,320.51 L454.04,319.72 L455.87,318.92 L457.71,318.12 L459.56,317.31 L461.42,316.51 L463.31,315.71 L465.20,314.93 L467.08,314.16 L468.96,313.40 L470.83,312.66 L472.69,311.92 L474.53,311.18 L476.37,310.45 L478.19,309.70 L480.00,308.96 L481.79,308.20 L483.57,307.43 L485.32,306.64 L487.06,305.84 L488.77,305.02 L490.48,304.17 L492.23,303.29 L493.97,302.39 L495.70,301.48 L497.43,300.56 L499.14,299.64 L500.85,298.70 L502.54,297.74 L504.22,296.77 L505.89,295.79 L507.54,294.80 L509.18,293.78 L510.81,292.75 L512.42,291.70 L514.02,290.64 L515.60,289.56 L517.14,288.47 L518.66,287.36 L520.17,286.21 L521.68,285.04 L523.19,283.84 L524.70,282.61 L526.22,281.36 L527.73,280.10 L529.24,278.83 L530.75,277.55 L532.26,276.26 L533.77,274.97 L535.30,273.66 L536.84,272.35 L538.39,271.04 L539.96,269.73 L541.55,268.42 L543.14,267.13 L544.70,265.88 L546.27,264.62 L547.85,263.37 L549.42,262.12 L551.00,260.87 L552.59,259.62 L554.19,258.38 L555.79,257.13 L557.41,255.90 L559.03,254.67 L560.65,253.45 L562.29,252.23 L563.93,251.03 L565.59,249.83 L567.26,248.63 L568.94,247.46 L570.63,246.30 L572.31,245.15 L573.99,244.02 L575.67,242.89 L577.35,241.78 L579.03,240.66 L580.72,239.56 L582.41,238.45 L584.10,237.35 L585.80,236.26 L587.50,235.17 L589.21,234.08 L590.91,233.00 L592.64,231.92 L594.37,230.85 L596.09,229.79 L597.83,228.74 L599.58,227.69 L601.31,226.66 L603.07,225.63 L604.82,224.61 L606.57,223.59 L608.33,222.59 L610.09,221.59 L611.86,220.60 L613.63,219.61 L615.40,218.63 L617.18,217.66 L618.95,216.70 L620.73,215.74 L622.52,214.79 L624.31,213.84 L626.11,212.90 L627.91,211.96 L629.73,211.03 L631.55,210.12 L633.38,209.21 L635.22,208.31 L637.07,207.43 L638.94,206.56 L640.79,205.70 L642.66,204.86 L644.53,204.04 L646.40,203.22 L648.27,202.42 L650.15,201.63 L652.03,200.85 L653.91,200.08 L655.79,199.32 L657.67,198.57 L659.57,197.82 L661.48,197.09 L663.38,196.37 L665.29,195.65 L667.19,194.95 L669.11,194.26 L671.01,193.58 L672.93,192.90 L674.84,192.24 L676.75,191.58 L678.67,190.93 L680.61,190.28 L682.53,189.65 L684.47,189.02 L686.40,188.41 L688.33,187.80 L690.26,187.21 L692.19,186.61 L694.12,186.03 L696.04,185.45 L697.97,184.87 L699.89,184.29 L701.82,183.72 L703.75,183.15 L705.69,182.58 L707.63,182.02 L709.58,181.46 L711.52,180.91 L713.48,180.37 L715.44,179.84 L717.40,179.31 L719.36,178.79 L721.33,178.29 L723.29,177.79 L725.26,177.30 L727.23,176.82 L729.20,176.34 L731.18,175.88 L733.15,175.42 L735.13,174.97 L737.11,174.53 L739.09,174.09 L741.07,173.67 L743.05,173.25 L745.04,172.84 L747.02,172.44 L749.02,172.05 L751.01,171.66 L753.01,171.29 L755.01,170.92 L757.01,170.57 L759.01,170.22 L761.02,169.89 L763.02,169.56 L765.03,169.25 L767.04,168.94 L769.05,168.64 L771.06,168.36 L773.08,168.08 L775.09,167.81 L777.11,167.56 L779.12,167.31 L781.14,167.07 L783.17,166.84 L785.19,166.63 L787.22,166.42 L789.24,166.23 L791.26,166.04 L793.28,165.87 L795.30,165.70 L797.31,165.54 L799.31,165.38 L801.29,165.23 L803.28,165.07 L805.28,164.91 L807.28,164.75 L809.30,164.60 L811.31,164.45 L813.33,164.31 L815.36,164.18 L817.39,164.05 L819.43,163.94 L821.47,163.84 L823.51,163.76 L825.56,163.68 L827.59,163.62 L829.61,163.57 L831.63,163.53 L833.65,163.49 L835.67,163.46 L837.69,163.43 L839.70,163.41 L841.72,163.39 L843.74,163.38 L845.76,163.38 L847.78,163.38 L849.81,163.39 L851.85,163.41 L853.89,163.45 L855.94,163.49 L858.00,163.56 L860.09,163.65 L862.17,163.76 L864.26,163.91 L866.43,164.10 L868.71,164.38 L871.09,164.81 L873.47,165.41 L875.64,166.09 L877.68,166.80 L879.75,167.58 L881.80,168.43 L883.82,169.34 L885.81,170.32 L887.79,171.39 L889.74,172.54 L891.67,173.79 L893.59,175.17 L895.49,176.73 L897.24,178.36 L898.84,180.02 L900.33,181.70 L901.73,183.40 L903.07,185.11 L904.35,186.82 L905.57,188.53 L906.83,190.34 L908.10,192.41 L909.24,194.54 L910.23,196.72 L911.07,198.84 L911.80,200.87 L912.53,203.39 L913.03,205.76 L913.37,207.96 L913.63,209.77 L913.64,209.81" fill="none" stroke="#555555" stroke-width="1"/>
<path d="M318.02,293.45 L320.05,293.44 L322.03,293.43 L324.01,293.42 L325.96,293.43 L327.89,293.45 L329.96,293.47 L331.93,293.48 L333.78,293.52 L335.48,293.61 L337.04,293.78 L338.75,294.06 L340.39,294.41 L341.95,294.82 L343.38,295.30 L344.72,295.87 L346.04,296.57 L347.34,297.37 L348.56,298.26 L349.73,299.25 L350.61,300.14 L351.55,301.30 L352.61,302.76 L353.82,304.46 L355.18,306.25 L356.35,307.75 L357.57,309.36 L358.90,311.05 L360.34,312.77 L361.84,314.44 L363.22,315.90 L364.63,317.39 L366.08,318.90 L367.60,320.42 L369.20,321.94 L370.91,323.45 L372.79,324.94 L374.84,326.35 L376.93,327.59 L379.07,328.68 L381.13,329.60 L383.11,330.41 L384.99,331.16 L386.82,331.89 L388.70,332.65 L390.61,333.40 L392.54,334.14 L394.50,334.86 L396.49,335.56 L398.51,336.24 L400.57,336.87 L402.68,337.47 L404.73,337.99 L406.76,338.48 L408.82,338.94 L410.92,339.36 L413.05,339.75 L415.21,340.08 L417.42,340.34 L419.65,340.54 L421.86,340.65 L423.92,340.71 L426.03,340.75 L428.23,340.74 L430.49,340.65 L432.78,340.47 L435.09,340.17 L437.34,339.77 L439.55,339.28 L441.72,338.72 L443.90,338.07 L445.94,337.38 L447.94,336.65 L449.92,335.89 L451.86,335.11 L453.76,334.32 L455.65,333.52 L457.51,332.72 L459.36,331.91 L461.20,331.11 L463.02,330.31 L464.84,329.52 L466.65,328.74 L468.45,327.98 L470.25,327.23 L472.07,326.49 L473.91,325.75 L475.75,325.01 L477.61,324.28 L479.48,323.53 L481.36,322.77 L483.24,322.01 L485.13,321.23 L487.01,320.43 L488.91,319.61 L490.81,318.76 L492.71,317.88 L494.60,316.98 L496.47,316.05 L498.29,315.12 L500.11,314.19 L501.92,313.24 L503.72,312.28 L505.53,311.30 L507.32,310.31 L509.12,309.30 L510.90,308.27 L512.68,307.23 L514.45,306.16 L516.22,305.07 L517.97,303.96 L519.71,302.83 L521.44,301.68 L523.16,300.50 L524.89,299.28 L526.60,298.03 L528.28,296.76 L529.92,295.48 L531.54,294.19 L533.14,292.89 L534.71,291.60 L536.27,290.30 L537.82,288.99 L539.36,287.68 L540.89,286.38 L542.42,285.07 L543.93,283.78 L545.44,282.49 L546.94,281.22 L548.44,279.97 L549.94,278.74 L551.46,277.51 L553.01,276.26 L554.57,275.02 L556.13,273.78 L557.68,272.55 L559.24,271.31 L560.79,270.09 L562.35,268.88 L563.91,267.67 L565.47,266.47 L567.04,265.28 L568.61,264.10 L570.19,262.93 L571.77,261.77 L573.35,260.63 L574.94,259.50 L576.53,258.38 L578.14,257.27 L579.76,256.16 L581.40,255.06 L583.05,253.96 L584.70,252.86 L586.35,251.77 L588.01,250.68 L589.67,249.60 L591.33,248.52 L592.99,247.44 L594.66,246.38 L596.32,245.32 L598.00,244.26 L599.67,243.21 L601.34,242.18 L603.02,241.15 L604.70,240.13 L606.39,239.11 L608.09,238.10 L609.79,237.11 L611.49,236.11 L613.20,235.13 L614.91,234.15 L616.63,233.17 L618.35,232.21 L620.07,231.25 L621.80,230.29 L623.54,229.35 L625.28,228.40 L627.02,227.46 L628.77,226.53 L630.51,225.61 L632.25,224.69 L634.00,223.79 L635.75,222.90 L637.50,222.01 L639.25,221.15 L641.00,220.29 L642.76,219.45 L644.52,218.63 L646.30,217.81 L648.08,217.01 L649.87,216.21 L651.66,215.44 L653.47,214.66 L655.28,213.90 L657.10,213.15 L658.92,212.40 L660.75,211.66 L662.58,210.93 L664.40,210.21 L666.23,209.51 L668.07,208.81 L669.91,208.12 L671.75,207.45 L673.60,206.78 L675.46,206.11 L677.32,205.46 L679.19,204.81 L681.06,204.17 L682.93,203.53 L684.78,202.91 L686.66,202.30 L688.53,201.69 L690.41,201.09 L692.29,200.50 L694.18,199.91 L696.08,199.33 L697.98,198.76 L699.88,198.18 L701.79,197.61 L703.70,197.04 L705.60,196.47 L707.50,195.91 L709.41,195.35 L711.31,194.80 L713.21,194.26 L715.11,193.72 L717.01,193.19 L718.91,192.67 L720.81,192.16 L722.72,191.66 L724.62,191.17 L726.54,190.69 L728.45,190.21 L730.37,189.74 L732.29,189.28 L734.20,188.83 L736.13,188.38 L738.05,187.94 L739.97,187.51 L741.90,187.09 L743.83,186.68 L745.76,186.27 L747.69,185.87 L749.63,185.48 L751.56,185.10 L753.50,184.73 L755.43,184.37 L757.36,184.01 L759.30,183.67 L761.24,183.34 L763.18,183.01 L765.12,182.70 L767.07,182.39 L769.01,182.09 L770.96,181.81 L772.91,181.53 L774.85,181.26 L776.81,181.00 L778.76,180.75 L780.71,180.51 L782.66,180.28 L784.61,180.06 L786.57,179.86 L788.52,179.66 L790.48,179.47 L792.44,179.29 L794.41,179.12 L796.38,178.96 L798.35,178.80 L800.34,178.64 L802.34,178.49 L804.34,178.33 L806.33,178.17 L808.31,178.01 L810.29,177.86 L812.27,177.72 L814.24,177.58 L816.20,177.45 L818.16,177.33 L820.11,177.22 L822.07,177.13 L824.02,177.05 L825.98,176.98 L827.94,176.92 L829.92,176.87 L831.90,176.83 L833.88,176.79 L835.86,176.76 L837.84,176.73 L839.82,176.71 L841.81,176.69 L843.79,176.68 L845.77,176.68 L847.75,176.68 L849.71,176.69 L851.68,176.71 L853.64,176.74 L855.59,176.79 L857.53,176.85 L859.43,176.93 L861.35,177.04 L863.25,177.17 L865.06,177.33 L866.75,177.54 L868.30,177.82 L869.80,178.20 L871.45,178.71 L873.19,179.32 L874.86,179.94 L876.51,180.63 L878.13,181.36 L879.73,182.15 L881.27,182.98 L882.76,183.86 L884.19,184.78 L885.51,185.74 L886.71,186.72 L887.88,187.82 L889.06,189.03 L890.22,190.35 L891.37,191.73 L892.49,193.17 L893.61,194.67 L894.71,196.21 L895.74,197.68 L896.56,199.02 L897.31,200.42 L897.97,201.88 L898.60,203.48 L899.23,205.21 L899.61,206.53 L899.93,208.07 L900.20,209.83 L900.52,211.98 L900.56,212.19" fill="none" stroke="#555555" stroke-width="1"/>
<path d="M169.6,282.2 L316.3,282.2 L316.3,277.6 L336.4,277.6 L336.4,332.4 L316.3,332.4 L316.3,328.4 L169.6,328.4 Z" fill="#fff"/>
<circle cx="253" cy="305" r="10" fill="#fff"/>
<line x1="318" y1="280.9" x2="335.5" y2="280.9" stroke-dasharray="3.4,1.7" stroke-width="0.8" stroke-linecap="butt"/>
<line x1="318" y1="329.2" x2="335.5" y2="329.2" stroke-dasharray="3.4,1.7" stroke-width="0.8" stroke-linecap="butt"/>
<path d="M320.8,277.6 A5.3,4.4 0 0 1 331.4,277.6" fill="#fff"/>
<path d="M320.8,332.4 A5.3,4.4 0 0 0 331.4,332.4" fill="#fff"/>
<path d="M322.5,275.5 L329.5,275.5" stroke-dasharray="1.5,1.5" stroke-width="0.8"/>
<path d="M322.5,334.5 L329.5,334.5" stroke-dasharray="1.5,1.5" stroke-width="0.8"/>
<path d="M309.47,315.08 L594.27,287.88 A4.9,4.9 0 0 0 593.33,278.12 L308.53,305.32 A4.9,4.9 0 0 0 309.47,315.08Z" fill="#fff"/>
<path d="M544.80,300.28 L596.40,295.48 A4.3,4.3 0 0 0 595.60,286.92 L544.00,291.72 A4.3,4.3 0 0 0 544.80,300.28Z" fill="#fff"/>
<path d="M314.5,305.2 A5.1,5.1 0 0 0 314.5,315.3" fill="none"/>
<path d="M584.5,299.6 L584.5,309.4" fill="none"/>
<path d="M584.5,299.6 Q584.5,298.2 592.5,298 L601.5,296.5 M584.5,309.4 Q584.5,311.6 592.5,312 L601.5,313.5" fill="none"/>
<line x1="592.5" y1="298" x2="592.5" y2="312" />
<path d="M592.5,294 A11,11 0 0 0 592.5,316" fill="none" stroke-dasharray="2.2,2"/>
<rect x="601.5" y="289.6" width="8" height="31" fill="#fff"/>
<rect x="609.5" y="295.2" width="3" height="20" fill="#fff"/>
<rect x="612.5" y="298.2" width="3.6" height="13.6" fill="#fff"/>
<rect x="616.1" y="295" width="3.5" height="20.4" fill="#fff"/>
<rect x="619.6" y="298.5" width="11.6" height="13" fill="#fff"/>
<path d="M631.2,298.5 Q635,298 636.2,295 L636.2,315.4 Q635,312 631.2,311.5Z" fill="#fff"/>
<rect x="636.2" y="298" width="4.4" height="14" fill="#fff"/>
<rect x="640.6" y="295" width="4" height="20.4" fill="#fff"/>
<rect x="653" y="289.5" width="39.5" height="31.1" fill="#fff"/>
<rect x="674.2" y="281.2" width="9.6" height="8.3" fill="#fff"/>
<line x1="674.2" y1="283.2" x2="683.8" y2="283.2" stroke-width="0.8"/>
<line x1="674.2" y1="285.2" x2="683.8" y2="285.2" stroke-width="0.8"/>
<line x1="674.2" y1="287.2" x2="683.8" y2="287.2" stroke-width="0.8"/>
<rect x="692.5" y="283.4" width="160" height="43.8" fill="#fff"/>
<line x1="771.3" y1="283.4" x2="771.3" y2="327.2" />
<line x1="775.6" y1="283.4" x2="775.6" y2="327.2" />
<rect x="890.8" y="208.4" width="33.4" height="33" fill="#fff"/>
<rect x="841.4" y="241.4" width="132.2" height="127" fill="#fff"/>
<rect x="865.6" y="368.4" width="83.4" height="38.6" fill="#fff"/>
<line x1="865.6" y1="374.8333333333333" x2="949" y2="374.8333333333333" stroke-width="0.9"/>
<line x1="865.6" y1="381.26666666666665" x2="949" y2="381.26666666666665" stroke-width="0.9"/>
<line x1="865.6" y1="387.7" x2="949" y2="387.7" stroke-width="0.9"/>
<line x1="865.6" y1="394.1333333333333" x2="949" y2="394.1333333333333" stroke-width="0.9"/>
<line x1="865.6" y1="400.56666666666666" x2="949" y2="400.56666666666666" stroke-width="0.9"/>
<line x1="841.4" y1="283.3" x2="872" y2="283.3" />
<line x1="841.4" y1="327.1" x2="872" y2="327.1" />
<circle cx="907.1" cy="305.1" r="57.8" fill="#fff"/>
<clipPath id="gear"><circle cx="907.1" cy="305.1" r="57.8"/></clipPath>
<g clip-path="url(#gear)">
<path d="M930.56,248.44 L928.49,256.17 A8.0,8.0 0 0 1 913.04,252.03 L915.11,244.30" fill="#fff"/>
<path d="M928.05,247.77 L925.98,255.50 A8.0,8.0 0 0 1 916.27,260.84" fill="none" stroke-width="0.8"/>
<path d="M955.75,267.76 L950.09,273.42 A8.0,8.0 0 0 1 938.78,262.11 L944.44,256.45" fill="#fff"/>
<path d="M953.91,265.93 L948.25,271.58 A8.0,8.0 0 0 1 937.17,271.36" fill="none" stroke-width="0.8"/>
<path d="M967.90,297.09 L960.17,299.16 A8.0,8.0 0 0 1 956.03,283.71 L963.76,281.64" fill="#fff"/>
<path d="M964.43,284.15 L956.70,286.22 A8.0,8.0 0 0 0 951.36,295.93" fill="none" stroke-width="0.8"/>
<path d="M963.76,328.56 L956.03,326.49 A8.0,8.0 0 0 1 960.17,311.04 L967.90,313.11" fill="#fff"/>
<path d="M964.43,326.05 L956.70,323.98 A8.0,8.0 0 0 1 951.36,314.27" fill="none" stroke-width="0.8"/>
<path d="M944.44,353.75 L938.78,348.09 A8.0,8.0 0 0 1 950.09,336.78 L955.75,342.44" fill="#fff"/>
<path d="M953.91,344.27 L948.25,338.62 A8.0,8.0 0 0 0 937.17,338.84" fill="none" stroke-width="0.8"/>
<path d="M915.11,365.90 L913.04,358.17 A8.0,8.0 0 0 1 928.49,354.03 L930.56,361.76" fill="#fff"/>
<path d="M928.05,362.43 L925.98,354.70 A8.0,8.0 0 0 0 916.27,349.36" fill="none" stroke-width="0.8"/>
<path d="M883.64,361.76 L885.71,354.03 A8.0,8.0 0 0 1 901.16,358.17 L899.09,365.90" fill="#fff"/>
<path d="M886.15,362.43 L888.22,354.70 A8.0,8.0 0 0 1 897.93,349.36" fill="none" stroke-width="0.8"/>
<path d="M858.45,342.44 L864.11,336.78 A8.0,8.0 0 0 1 875.42,348.09 L869.76,353.75" fill="#fff"/>
<path d="M860.29,344.27 L865.95,338.62 A8.0,8.0 0 0 1 877.03,338.84" fill="none" stroke-width="0.8"/>
<path d="M846.30,313.11 L854.03,311.04 A8.0,8.0 0 0 1 858.17,326.49 L850.44,328.56" fill="#fff"/>
<path d="M849.77,326.05 L857.50,323.98 A8.0,8.0 0 0 0 862.84,314.27" fill="none" stroke-width="0.8"/>
<path d="M850.44,281.64 L858.17,283.71 A8.0,8.0 0 0 1 854.03,299.16 L846.30,297.09" fill="#fff"/>
<path d="M849.77,284.15 L857.50,286.22 A8.0,8.0 0 0 1 862.84,295.93" fill="none" stroke-width="0.8"/>
<path d="M869.76,256.45 L875.42,262.11 A8.0,8.0 0 0 1 864.11,273.42 L858.45,267.76" fill="#fff"/>
<path d="M860.29,265.93 L865.95,271.58 A8.0,8.0 0 0 0 877.03,271.36" fill="none" stroke-width="0.8"/>
<path d="M899.09,244.30 L901.16,252.03 A8.0,8.0 0 0 1 885.71,256.17 L883.64,248.44" fill="#fff"/>
<path d="M886.15,247.77 L888.22,255.50 A8.0,8.0 0 0 0 897.93,260.84" fill="none" stroke-width="0.8"/>
</g>
<circle cx="907.1" cy="305.1" r="57.8" fill="none"/>
<path d="M904.12,257.79 A47.4,47.4 0 0 1 910.08,257.79" fill="none"/>
<path d="M928.18,262.64 A47.4,47.4 0 0 1 933.33,265.62" fill="none"/>
<path d="M946.58,278.87 A47.4,47.4 0 0 1 949.56,284.02" fill="none"/>
<path d="M954.41,302.12 A47.4,47.4 0 0 1 954.41,308.08" fill="none"/>
<path d="M949.56,326.18 A47.4,47.4 0 0 1 946.58,331.33" fill="none"/>
<path d="M933.33,344.58 A47.4,47.4 0 0 1 928.18,347.56" fill="none"/>
<path d="M910.08,352.41 A47.4,47.4 0 0 1 904.12,352.41" fill="none"/>
<path d="M886.02,347.56 A47.4,47.4 0 0 1 880.87,344.58" fill="none"/>
<path d="M867.62,331.33 A47.4,47.4 0 0 1 864.64,326.18" fill="none"/>
<path d="M859.79,308.08 A47.4,47.4 0 0 1 859.79,302.12" fill="none"/>
<path d="M864.64,284.02 A47.4,47.4 0 0 1 867.62,278.87" fill="none"/>
<path d="M880.87,265.62 A47.4,47.4 0 0 1 886.02,262.64" fill="none"/>
<circle cx="907.1" cy="305.1" r="39.3" fill="#fff"/>
<clipPath id="inring"><circle cx="907.1" cy="305.1" r="39.3"/></clipPath>
<g clip-path="url(#inring)">
<line x1="841.4" y1="283.3" x2="900.3" y2="283.3" />
<line x1="841.4" y1="327.0" x2="900.3" y2="327.0" />
<line x1="900.3" y1="260" x2="900.3" y2="350" />
<line x1="913.8" y1="260" x2="913.8" y2="350" />
<line x1="860" y1="297.8" x2="960" y2="297.8" />
<line x1="860" y1="312.3" x2="960" y2="312.3" />
</g>
<path d="M916.45,284.09 A23,23 0 0 1 928.85,297.61" fill="none" stroke-width="0.9"/>
<path d="M928.85,312.59 A23,23 0 0 1 916.45,326.11" fill="none" stroke-width="0.9"/>
<polygon points="928.60,305.10 917.85,323.72 896.35,323.72 885.60,305.10 896.35,286.48 917.85,286.48" fill="#fff"/>
<path d="M916.95,288.04 L926.80,305.10 L916.95,322.16" fill="none" stroke-width="0.7"/>
<polygon points="924.10,305.10 915.60,319.82 898.60,319.82 890.10,305.10 898.60,290.38 915.60,290.38" fill="none" stroke-dasharray="4,2.6" stroke-dashoffset="2" stroke-width="1"/>
<line x1="928.6" y1="305.1" x2="924.1" y2="305.1" stroke-width="0.6"/>
<line x1="917.85" y1="323.72" x2="915.6" y2="319.82" stroke-width="0.6"/>
<line x1="896.35" y1="323.72" x2="898.6" y2="319.82" stroke-width="0.6"/>
<line x1="885.6" y1="305.1" x2="890.1" y2="305.1" stroke-width="0.6"/>
<line x1="896.35" y1="286.48" x2="898.6" y2="290.38" stroke-width="0.6"/>
<line x1="917.85" y1="286.48" x2="915.6" y2="290.38" stroke-width="0.6"/>
<path d="M826.4,453.9 L988.4,453.9 C1036.8,500 1064.3,568 1066.8,627 L748,627 C750.5,568 778,500 826.4,453.9Z" fill="#fff"/>
<rect x="743" y="627" width="328.6" height="7.2" fill="#fff" rx="3.6"/>
<rect x="842.3" y="693.4" width="129.7" height="7.3" fill="#fff" rx="1"/>
<path d="M856.4,700.7 L856.4,715 Q856.4,716.4 858,716.4 L956.7,716.4 Q958.3,716.4 958.3,715 L958.3,700.7" fill="#fff"/>
<line x1="863.3" y1="700.7" x2="863.3" y2="716.4" />
<line x1="874.4" y1="700.7" x2="874.4" y2="716.4" />
<line x1="885.6" y1="700.7" x2="885.6" y2="716.4" />
<line x1="896.7" y1="700.7" x2="896.7" y2="716.4" />
<line x1="907.6" y1="700.7" x2="907.6" y2="716.4" />
<line x1="918.7" y1="700.7" x2="918.7" y2="716.4" />
<line x1="929.6" y1="700.7" x2="929.6" y2="716.4" />
<line x1="940.7" y1="700.7" x2="940.7" y2="716.4" />
<line x1="951.6" y1="700.7" x2="951.6" y2="716.4" />
<path d="M877.6,820.3 C877.6,828 876,835.5 871,841.7 A46.7,46.7 0 1 0 943.8,841.7 C938.8,835.5 937.2,828 937.3,820.3Z" fill="#fff"/>
<path d="M898.7,780.6 A8.65,5.4 0 0 1 916,780.6" fill="#fff"/>
<rect x="877.6" y="780.6" width="59.7" height="39.7" fill="#fff"/>
<line x1="877.6" y1="787.3" x2="937.3" y2="787.3" />
<line x1="877.6" y1="793.9" x2="937.3" y2="793.9" />
<line x1="877.6" y1="800.4" x2="937.3" y2="800.4" />
<line x1="877.6" y1="807" x2="937.3" y2="807" />
<line x1="877.6" y1="813.7" x2="937.3" y2="813.7" />
<path d="M886.7,858.3 C882.7,858.3 884.0,863.7 884.9,867.7 C885.7,871.7 886.3,873.7 886.0,875.9 C881.3,878.3 878.7,887.7 882.0,888.3 C884.9,888.3 887.6,881.0 886.0,875.9 L901.3,879.4 C898.0,882.3 898.7,888.3 903.3,888.3 C907.3,887.9 910.0,884.3 901.3,879.4 C903.3,873.0 912.7,868.3 919.3,868.3 C925.3,869.0 928.0,874.3 926.7,878.6 C927.3,885.0 922.7,887.0 916.7,883.0 C919.3,879.7 923.3,879.0 926.7,878.6 C931.3,876.3 933.3,871.7 931.3,867.0 C930.0,863.0 927.3,860.3 926.0,857.0" fill="none" stroke-width="0.9"/>
<path d="M610.00,983.95 L612.00,983.95 L614.00,983.95 L616.00,983.95 L618.00,983.95 L620.00,983.95 L622.00,983.95 L624.00,983.95 L626.00,983.95 L627.99,983.95 L629.99,983.94 L631.99,983.94 L633.99,983.94 L636.00,983.94 L638.02,983.94 L640.02,983.95 L641.85,983.93 L643.76,983.87 L645.82,983.80 L648.03,983.77 L650.33,983.84 L652.71,984.03 L654.96,984.32 L657.04,984.65 L659.13,985.02 L661.24,985.44 L663.38,985.91 L665.52,986.46 L667.66,987.08 L669.81,987.80 L671.97,988.62 L674.04,989.51 L676.02,990.44 L677.96,991.43 L679.88,992.46 L681.75,993.53 L683.62,994.67 L685.45,995.84 L687.26,997.08 L689.06,998.40 L690.83,999.79 L692.57,1001.29 L694.25,1002.87 L695.82,1004.48 L697.32,1006.12 L698.75,1007.80 L700.12,1009.51 L701.43,1011.23 L702.68,1012.96 L703.91,1014.72 L705.14,1016.63 L706.29,1018.57 L707.36,1020.54 L708.35,1022.53 L709.27,1024.53 L710.12,1026.54 L710.92,1028.54 L711.68,1030.65 L712.38,1032.90 L712.96,1035.18 L713.41,1037.41 L713.77,1039.55 L714.07,1041.60 L714.36,1043.86 L714.55,1046.13 L714.65,1048.26 L714.73,1050.26 L714.81,1052.14 L714.95,1053.89 L715.15,1055.51 L715.45,1057.38 L715.77,1059.24 L716.13,1061.02 L716.52,1062.74 L716.97,1064.38 L717.49,1065.99 L718.10,1067.59 L718.81,1069.30 L719.55,1070.99 L720.33,1072.65 L721.15,1074.28 L722.00,1075.86 L722.89,1077.39 L723.81,1078.87 L724.79,1080.28 L725.84,1081.68 L726.97,1083.08 L728.14,1084.45 L729.35,1085.80 L730.62,1087.12 L731.89,1088.38 L733.22,1089.62 L734.57,1090.81 L735.93,1091.93 L737.34,1093.02 L738.81,1094.07 L740.30,1095.07 L741.83,1096.04 L743.39,1096.96 L744.95,1097.83 L746.54,1098.65 L748.16,1099.41 L749.77,1100.10 L751.39,1100.74 L753.00,1101.28 L754.61,1101.74 L756.26,1102.13 L757.96,1102.46 L759.72,1102.73 L761.54,1102.96 L763.42,1103.15 L765.33,1103.32 L767.29,1103.48 L769.24,1103.62 L771.07,1103.73 L772.94,1103.80 L774.83,1103.83 L776.75,1103.83 L778.71,1103.82 L780.69,1103.80 L782.70,1103.78 L784.72,1103.76 L786.74,1103.75 L788.77,1103.75 L790.78,1103.75 L792.78,1103.76 L794.77,1103.76 L796.77,1103.76 L798.77,1103.76 L800.76,1103.76 L802.76,1103.76 L804.76,1103.76 L806.76,1103.76 L808.76,1103.76 L810.76,1103.76 L812.76,1103.76 L814.76,1103.76 L816.76,1103.76 L818.76,1103.75 L820.76,1103.75 L822.76,1103.75 L824.76,1103.75 L826.76,1103.75 L828.76,1103.75 L830.76,1103.75 L832.76,1103.75 L834.76,1103.75 L836.76,1103.75 L838.76,1103.75 L840.76,1103.75 L842.76,1103.75 L844.76,1103.75 L846.76,1103.75 L848.76,1103.75 L850.76,1103.75 L852.76,1103.75 L854.76,1103.75 L856.76,1103.75 L858.76,1103.75 L860.76,1103.75 L862.76,1103.75 L864.76,1103.75 L866.76,1103.75 L868.76,1103.75 L870.76,1103.75 L872.76,1103.75 L874.76,1103.75 L876.76,1103.75 L878.76,1103.75 L880.76,1103.75 L882.76,1103.75 L884.76,1103.75 L886.76,1103.75 L888.76,1103.75 L890.76,1103.75 L892.76,1103.75 L894.76,1103.75 L896.76,1103.75 L898.00,1103.75 L898.00,1117.05 L896.76,1117.05 L894.76,1117.05 L892.76,1117.05 L890.76,1117.05 L888.76,1117.05 L886.76,1117.05 L884.76,1117.05 L882.76,1117.05 L880.76,1117.05 L878.76,1117.05 L876.76,1117.05 L874.76,1117.05 L872.76,1117.05 L870.76,1117.05 L868.76,1117.05 L866.76,1117.05 L864.76,1117.05 L862.76,1117.05 L860.76,1117.05 L858.76,1117.05 L856.76,1117.05 L854.76,1117.05 L852.76,1117.05 L850.76,1117.05 L848.76,1117.05 L846.76,1117.05 L844.76,1117.05 L842.76,1117.05 L840.76,1117.05 L838.76,1117.05 L836.76,1117.05 L834.76,1117.05 L832.76,1117.05 L830.76,1117.05 L828.77,1117.05 L826.77,1117.05 L824.77,1117.05 L822.77,1117.05 L820.77,1117.05 L818.77,1117.05 L816.77,1117.06 L814.77,1117.06 L812.77,1117.06 L810.77,1117.06 L808.77,1117.06 L806.77,1117.06 L804.77,1117.06 L802.77,1117.06 L800.76,1117.06 L798.76,1117.06 L796.76,1117.06 L794.76,1117.06 L792.75,1117.06 L790.75,1117.05 L788.76,1117.05 L786.79,1117.05 L784.81,1117.06 L782.83,1117.08 L780.84,1117.10 L778.82,1117.12 L776.78,1117.13 L774.70,1117.13 L772.59,1117.09 L770.46,1117.01 L768.30,1116.89 L766.26,1116.73 L764.23,1116.57 L762.16,1116.39 L760.06,1116.17 L757.91,1115.91 L755.72,1115.57 L753.49,1115.14 L751.25,1114.61 L749.01,1113.97 L746.84,1113.23 L744.73,1112.41 L742.67,1111.53 L740.66,1110.58 L738.70,1109.57 L736.76,1108.50 L734.88,1107.39 L733.03,1106.21 L731.20,1104.98 L729.42,1103.70 L727.66,1102.35 L725.94,1100.92 L724.29,1099.48 L722.69,1097.98 L721.12,1096.43 L719.62,1094.86 L718.16,1093.24 L716.72,1091.57 L715.35,1089.86 L713.99,1088.06 L712.70,1086.18 L711.50,1084.27 L710.38,1082.34 L709.34,1080.40 L708.36,1078.45 L707.44,1076.49 L706.58,1074.52 L705.75,1072.53 L704.94,1070.39 L704.23,1068.20 L703.62,1065.98 L703.12,1063.80 L702.70,1061.66 L702.33,1059.57 L702.00,1057.50 L701.71,1055.15 L701.54,1052.91 L701.44,1050.79 L701.36,1048.80 L701.27,1046.93 L701.13,1045.22 L700.91,1043.51 L700.63,1041.60 L700.33,1039.80 L699.98,1038.10 L699.58,1036.51 L699.09,1034.94 L698.49,1033.29 L697.81,1031.57 L697.10,1029.90 L696.35,1028.27 L695.56,1026.67 L694.72,1025.13 L693.84,1023.63 L692.89,1022.18 L691.84,1020.66 L690.74,1019.15 L689.63,1017.69 L688.50,1016.27 L687.33,1014.90 L686.14,1013.59 L684.92,1012.34 L683.68,1011.18 L682.39,1010.07 L681.02,1008.99 L679.59,1007.95 L678.10,1006.93 L676.56,1005.94 L675.01,1005.00 L673.42,1004.08 L671.81,1003.22 L670.19,1002.40 L668.55,1001.63 L666.94,1000.93 L665.36,1000.33 L663.72,999.78 L662.02,999.29 L660.28,998.85 L658.52,998.45 L656.70,998.10 L654.86,997.77 L652.98,997.48 L651.27,997.25 L649.66,997.12 L647.97,997.07 L646.18,997.10 L644.24,997.16 L642.15,997.23 L639.98,997.25 L637.98,997.24 L636.00,997.24 L634.01,997.24 L632.01,997.24 L630.01,997.24 L628.01,997.25 L626.00,997.25 L624.00,997.25 L622.00,997.25 L620.00,997.25 L618.00,997.25 L616.00,997.25 L614.00,997.25 L612.00,997.25 L610.00,997.25Z" fill="#fff" stroke="none"/>
<clipPath id="cb4"><path d="M610.00,983.95 L612.00,983.95 L614.00,983.95 L616.00,983.95 L618.00,983.95 L620.00,983.95 L622.00,983.95 L624.00,983.95 L626.00,983.95 L627.99,983.95 L629.99,983.94 L631.99,983.94 L633.99,983.94 L636.00,983.94 L638.02,983.94 L640.02,983.95 L641.85,983.93 L643.76,983.87 L645.82,983.80 L648.03,983.77 L650.33,983.84 L652.71,984.03 L654.96,984.32 L657.04,984.65 L659.13,985.02 L661.24,985.44 L663.38,985.91 L665.52,986.46 L667.66,987.08 L669.81,987.80 L671.97,988.62 L674.04,989.51 L676.02,990.44 L677.96,991.43 L679.88,992.46 L681.75,993.53 L683.62,994.67 L685.45,995.84 L687.26,997.08 L689.06,998.40 L690.83,999.79 L692.57,1001.29 L694.25,1002.87 L695.82,1004.48 L697.32,1006.12 L698.75,1007.80 L700.12,1009.51 L701.43,1011.23 L702.68,1012.96 L703.91,1014.72 L705.14,1016.63 L706.29,1018.57 L707.36,1020.54 L708.35,1022.53 L709.27,1024.53 L710.12,1026.54 L710.92,1028.54 L711.68,1030.65 L712.38,1032.90 L712.96,1035.18 L713.41,1037.41 L713.77,1039.55 L714.07,1041.60 L714.36,1043.86 L714.55,1046.13 L714.65,1048.26 L714.73,1050.26 L714.81,1052.14 L714.95,1053.89 L715.15,1055.51 L715.45,1057.38 L715.77,1059.24 L716.13,1061.02 L716.52,1062.74 L716.97,1064.38 L717.49,1065.99 L718.10,1067.59 L718.81,1069.30 L719.55,1070.99 L720.33,1072.65 L721.15,1074.28 L722.00,1075.86 L722.89,1077.39 L723.81,1078.87 L724.79,1080.28 L725.84,1081.68 L726.97,1083.08 L728.14,1084.45 L729.35,1085.80 L730.62,1087.12 L731.89,1088.38 L733.22,1089.62 L734.57,1090.81 L735.93,1091.93 L737.34,1093.02 L738.81,1094.07 L740.30,1095.07 L741.83,1096.04 L743.39,1096.96 L744.95,1097.83 L746.54,1098.65 L748.16,1099.41 L749.77,1100.10 L751.39,1100.74 L753.00,1101.28 L754.61,1101.74 L756.26,1102.13 L757.96,1102.46 L759.72,1102.73 L761.54,1102.96 L763.42,1103.15 L765.33,1103.32 L767.29,1103.48 L769.24,1103.62 L771.07,1103.73 L772.94,1103.80 L774.83,1103.83 L776.75,1103.83 L778.71,1103.82 L780.69,1103.80 L782.70,1103.78 L784.72,1103.76 L786.74,1103.75 L788.77,1103.75 L790.78,1103.75 L792.78,1103.76 L794.77,1103.76 L796.77,1103.76 L798.77,1103.76 L800.76,1103.76 L802.76,1103.76 L804.76,1103.76 L806.76,1103.76 L808.76,1103.76 L810.76,1103.76 L812.76,1103.76 L814.76,1103.76 L816.76,1103.76 L818.76,1103.75 L820.76,1103.75 L822.76,1103.75 L824.76,1103.75 L826.76,1103.75 L828.76,1103.75 L830.76,1103.75 L832.76,1103.75 L834.76,1103.75 L836.76,1103.75 L838.76,1103.75 L840.76,1103.75 L842.76,1103.75 L844.76,1103.75 L846.76,1103.75 L848.76,1103.75 L850.76,1103.75 L852.76,1103.75 L854.76,1103.75 L856.76,1103.75 L858.76,1103.75 L860.76,1103.75 L862.76,1103.75 L864.76,1103.75 L866.76,1103.75 L868.76,1103.75 L870.76,1103.75 L872.76,1103.75 L874.76,1103.75 L876.76,1103.75 L878.76,1103.75 L880.76,1103.75 L882.76,1103.75 L884.76,1103.75 L886.76,1103.75 L888.76,1103.75 L890.76,1103.75 L892.76,1103.75 L894.76,1103.75 L896.76,1103.75 L898.00,1103.75 L898.00,1117.05 L896.76,1117.05 L894.76,1117.05 L892.76,1117.05 L890.76,1117.05 L888.76,1117.05 L886.76,1117.05 L884.76,1117.05 L882.76,1117.05 L880.76,1117.05 L878.76,1117.05 L876.76,1117.05 L874.76,1117.05 L872.76,1117.05 L870.76,1117.05 L868.76,1117.05 L866.76,1117.05 L864.76,1117.05 L862.76,1117.05 L860.76,1117.05 L858.76,1117.05 L856.76,1117.05 L854.76,1117.05 L852.76,1117.05 L850.76,1117.05 L848.76,1117.05 L846.76,1117.05 L844.76,1117.05 L842.76,1117.05 L840.76,1117.05 L838.76,1117.05 L836.76,1117.05 L834.76,1117.05 L832.76,1117.05 L830.76,1117.05 L828.77,1117.05 L826.77,1117.05 L824.77,1117.05 L822.77,1117.05 L820.77,1117.05 L818.77,1117.05 L816.77,1117.06 L814.77,1117.06 L812.77,1117.06 L810.77,1117.06 L808.77,1117.06 L806.77,1117.06 L804.77,1117.06 L802.77,1117.06 L800.76,1117.06 L798.76,1117.06 L796.76,1117.06 L794.76,1117.06 L792.75,1117.06 L790.75,1117.05 L788.76,1117.05 L786.79,1117.05 L784.81,1117.06 L782.83,1117.08 L780.84,1117.10 L778.82,1117.12 L776.78,1117.13 L774.70,1117.13 L772.59,1117.09 L770.46,1117.01 L768.30,1116.89 L766.26,1116.73 L764.23,1116.57 L762.16,1116.39 L760.06,1116.17 L757.91,1115.91 L755.72,1115.57 L753.49,1115.14 L751.25,1114.61 L749.01,1113.97 L746.84,1113.23 L744.73,1112.41 L742.67,1111.53 L740.66,1110.58 L738.70,1109.57 L736.76,1108.50 L734.88,1107.39 L733.03,1106.21 L731.20,1104.98 L729.42,1103.70 L727.66,1102.35 L725.94,1100.92 L724.29,1099.48 L722.69,1097.98 L721.12,1096.43 L719.62,1094.86 L718.16,1093.24 L716.72,1091.57 L715.35,1089.86 L713.99,1088.06 L712.70,1086.18 L711.50,1084.27 L710.38,1082.34 L709.34,1080.40 L708.36,1078.45 L707.44,1076.49 L706.58,1074.52 L705.75,1072.53 L704.94,1070.39 L704.23,1068.20 L703.62,1065.98 L703.12,1063.80 L702.70,1061.66 L702.33,1059.57 L702.00,1057.50 L701.71,1055.15 L701.54,1052.91 L701.44,1050.79 L701.36,1048.80 L701.27,1046.93 L701.13,1045.22 L700.91,1043.51 L700.63,1041.60 L700.33,1039.80 L699.98,1038.10 L699.58,1036.51 L699.09,1034.94 L698.49,1033.29 L697.81,1031.57 L697.10,1029.90 L696.35,1028.27 L695.56,1026.67 L694.72,1025.13 L693.84,1023.63 L692.89,1022.18 L691.84,1020.66 L690.74,1019.15 L689.63,1017.69 L688.50,1016.27 L687.33,1014.90 L686.14,1013.59 L684.92,1012.34 L683.68,1011.18 L682.39,1010.07 L681.02,1008.99 L679.59,1007.95 L678.10,1006.93 L676.56,1005.94 L675.01,1005.00 L673.42,1004.08 L671.81,1003.22 L670.19,1002.40 L668.55,1001.63 L666.94,1000.93 L665.36,1000.33 L663.72,999.78 L662.02,999.29 L660.28,998.85 L658.52,998.45 L656.70,998.10 L654.86,997.77 L652.98,997.48 L651.27,997.25 L649.66,997.12 L647.97,997.07 L646.18,997.10 L644.24,997.16 L642.15,997.23 L639.98,997.25 L637.98,997.24 L636.00,997.24 L634.01,997.24 L632.01,997.24 L630.01,997.24 L628.01,997.25 L626.00,997.25 L624.00,997.25 L622.00,997.25 L620.00,997.25 L618.00,997.25 L616.00,997.25 L614.00,997.25 L612.00,997.25 L610.00,997.25Z"/></clipPath>
<path clip-path="url(#cb4)" d="M571.46,963.08L584.47,976.09M593.14,967.42L580.13,980.43M571.46,971.75L584.47,984.76M593.14,976.09L580.13,989.10M571.46,980.43L584.47,993.44M593.14,984.76L580.13,997.77M571.46,989.10L584.47,1002.11M593.14,993.44L580.13,1006.45M588.80,954.41L601.81,967.42M610.49,958.75L597.48,971.75M588.80,963.08L601.81,976.09M610.49,967.42L597.48,980.43M588.80,971.75L601.81,984.76M610.49,976.09L597.48,989.10M588.80,980.43L601.81,993.44M610.49,984.76L597.48,997.77M588.80,989.10L601.81,1002.11M610.49,993.44L597.48,1006.45M588.80,997.77L601.81,1010.78M610.49,1002.11L597.48,1015.12M588.80,1006.45L601.81,1019.46M610.49,1010.78L597.48,1023.79M606.15,954.41L619.16,967.42M627.83,958.75L614.82,971.75M606.15,963.08L619.16,976.09M627.83,967.42L614.82,980.43M606.15,971.75L619.16,984.76M627.83,976.09L614.82,989.10M606.15,980.43L619.16,993.44M627.83,984.76L614.82,997.77M606.15,989.10L619.16,1002.11M627.83,993.44L614.82,1006.45M606.15,997.77L619.16,1010.78M627.83,1002.11L614.82,1015.12M606.15,1006.45L619.16,1019.46M627.83,1010.78L614.82,1023.79M623.49,954.41L636.50,967.42M645.18,958.75L632.17,971.75M623.49,963.08L636.50,976.09M645.18,967.42L632.17,980.43M623.49,971.75L636.50,984.76M645.18,976.09L632.17,989.10M623.49,980.43L636.50,993.44M645.18,984.76L632.17,997.77M623.49,989.10L636.50,1002.11M645.18,993.44L632.17,1006.45M623.49,997.77L636.50,1010.78M645.18,1002.11L632.17,1015.12M623.49,1006.45L636.50,1019.46M645.18,1010.78L632.17,1023.79M640.84,954.41L653.85,967.42M662.52,958.75L649.51,971.75M640.84,963.08L653.85,976.09M662.52,967.42L649.51,980.43M640.84,971.75L653.85,984.76M662.52,976.09L649.51,989.10M640.84,980.43L653.85,993.44M662.52,984.76L649.51,997.77M640.84,989.10L653.85,1002.11M662.52,993.44L649.51,1006.45M640.84,997.77L653.85,1010.78M662.52,1002.11L649.51,1015.12M640.84,1006.45L653.85,1019.46M662.52,1010.78L649.51,1023.79M658.19,954.41L671.20,967.42M679.87,958.75L666.86,971.75M658.19,963.08L671.20,976.09M679.87,967.42L666.86,980.43M658.19,971.75L671.20,984.76M679.87,976.09L666.86,989.10M658.19,980.43L671.20,993.44M679.87,984.76L666.86,997.77M658.19,989.10L671.20,1002.11M679.87,993.44L666.86,1006.45M658.19,997.77L671.20,1010.78M679.87,1002.11L666.86,1015.12M658.19,1006.45L671.20,1019.46M679.87,1010.78L666.86,1023.79M658.19,1015.12L671.20,1028.13M679.87,1019.46L666.86,1032.47M675.53,963.08L688.54,976.09M697.21,967.42L684.21,980.43M675.53,971.75L688.54,984.76M697.21,976.09L684.21,989.10M675.53,980.43L688.54,993.44M697.21,984.76L684.21,997.77M675.53,989.10L688.54,1002.11M697.21,993.44L684.21,1006.45M675.53,997.77L688.54,1010.78M697.21,1002.11L684.21,1015.12M675.53,1006.45L688.54,1019.46M697.21,1010.78L684.21,1023.79M675.53,1015.12L688.54,1028.13M697.21,1019.46L684.21,1032.47M675.53,1023.79L688.54,1036.80M697.21,1028.13L684.21,1041.14M675.53,1032.47L688.54,1045.47M697.21,1036.80L684.21,1049.81M675.53,1041.14L688.54,1054.15M697.21,1045.48L684.21,1058.48M675.53,1049.81L688.54,1062.82M697.21,1054.15L684.21,1067.16M675.53,1058.48L688.54,1071.49M697.21,1062.82L684.21,1075.83M675.53,1067.16L688.54,1080.17M697.21,1071.49L684.21,1084.50M675.53,1075.83L688.54,1088.84M697.21,1080.17L684.21,1093.18M692.88,971.75L705.89,984.76M714.56,976.09L701.55,989.10M692.88,980.43L705.89,993.44M714.56,984.76L701.55,997.77M692.88,989.10L705.89,1002.11M714.56,993.44L701.55,1006.45M692.88,997.77L705.89,1010.78M714.56,1002.11L701.55,1015.12M692.88,1006.45L705.89,1019.46M714.56,1010.78L701.55,1023.79M692.88,1015.12L705.89,1028.13M714.56,1019.46L701.55,1032.47M692.88,1023.79L705.89,1036.80M714.56,1028.13L701.55,1041.14M692.88,1032.47L705.89,1045.47M714.56,1036.80L701.55,1049.81M692.88,1041.14L705.89,1054.15M714.56,1045.48L701.55,1058.48M692.88,1049.81L705.89,1062.82M714.56,1054.15L701.55,1067.16M692.88,1058.48L705.89,1071.49M714.56,1062.82L701.55,1075.83M692.88,1067.16L705.89,1080.17M714.56,1071.49L701.55,1084.50M692.88,1075.83L705.89,1088.84M714.56,1080.17L701.55,1093.18M692.88,1084.50L705.89,1097.51M714.56,1088.84L701.55,1101.85M692.88,1093.18L705.89,1106.19M714.56,1097.51L701.55,1110.52M710.22,989.10L723.23,1002.11M731.91,993.44L718.90,1006.45M710.22,997.77L723.23,1010.78M731.91,1002.11L718.90,1015.12M710.22,1006.45L723.23,1019.46M731.91,1010.78L718.90,1023.79M710.22,1015.12L723.23,1028.13M731.91,1019.46L718.90,1032.47M710.22,1023.79L723.23,1036.80M731.91,1028.13L718.90,1041.14M710.22,1032.47L723.23,1045.47M731.91,1036.80L718.90,1049.81M710.22,1041.14L723.23,1054.15M731.91,1045.48L718.90,1058.48M710.22,1049.81L723.23,1062.82M731.91,1054.15L718.90,1067.16M710.22,1058.48L723.23,1071.49M731.91,1062.82L718.90,1075.83M710.22,1067.16L723.23,1080.17M731.91,1071.49L718.90,1084.50M710.22,1075.83L723.23,1088.84M731.91,1080.17L718.90,1093.18M710.22,1084.50L723.23,1097.51M731.91,1088.84L718.90,1101.85M710.22,1093.18L723.23,1106.19M731.91,1097.51L718.90,1110.52M710.22,1101.85L723.23,1114.86M731.91,1106.19L718.90,1119.20M710.22,1110.52L723.23,1123.53M731.91,1114.86L718.90,1127.87M727.57,1049.81L740.58,1062.82M749.25,1054.15L736.24,1067.16M727.57,1058.48L740.58,1071.49M749.25,1062.82L736.24,1075.83M727.57,1067.16L740.58,1080.17M749.25,1071.49L736.24,1084.50M727.57,1075.83L740.58,1088.84M749.25,1080.17L736.24,1093.18M727.57,1084.50L740.58,1097.51M749.25,1088.84L736.24,1101.85M727.57,1093.18L740.58,1106.19M749.25,1097.51L736.24,1110.52M727.57,1101.85L740.58,1114.86M749.25,1106.19L736.24,1119.20M727.57,1110.52L740.58,1123.53M749.25,1114.86L736.24,1127.87M727.57,1119.20L740.58,1132.20M749.25,1123.53L736.24,1136.54M744.92,1067.16L757.93,1080.17M766.60,1071.49L753.59,1084.50M744.92,1075.83L757.93,1088.84M766.60,1080.17L753.59,1093.18M744.92,1084.50L757.93,1097.51M766.60,1088.84L753.59,1101.85M744.92,1093.18L757.93,1106.19M766.60,1097.51L753.59,1110.52M744.92,1101.85L757.93,1114.86M766.60,1106.19L753.59,1119.20M744.92,1110.52L757.93,1123.53M766.60,1114.86L753.59,1127.87M744.92,1119.20L757.93,1132.20M766.60,1123.53L753.59,1136.54M762.26,1075.83L775.27,1088.84M783.94,1080.17L770.94,1093.18M762.26,1084.50L775.27,1097.51M783.94,1088.84L770.94,1101.85M762.26,1093.18L775.27,1106.19M783.94,1097.51L770.94,1110.52M762.26,1101.85L775.27,1114.86M783.94,1106.19L770.94,1119.20M762.26,1110.52L775.27,1123.53M783.94,1114.86L770.94,1127.87M762.26,1119.20L775.27,1132.20M783.94,1123.53L770.94,1136.54M779.61,1075.83L792.62,1088.84M801.29,1080.17L788.28,1093.18M779.61,1084.50L792.62,1097.51M801.29,1088.84L788.28,1101.85M779.61,1093.18L792.62,1106.19M801.29,1097.51L788.28,1110.52M779.61,1101.85L792.62,1114.86M801.29,1106.19L788.28,1119.20M779.61,1110.52L792.62,1123.53M801.29,1114.86L788.28,1127.87M779.61,1119.20L792.62,1132.20M801.29,1123.53L788.28,1136.54M796.95,1075.83L809.96,1088.84M818.64,1080.17L805.63,1093.18M796.95,1084.50L809.96,1097.51M818.64,1088.84L805.63,1101.85M796.95,1093.18L809.96,1106.19M818.64,1097.51L805.63,1110.52M796.95,1101.85L809.96,1114.86M818.64,1106.19L805.63,1119.20M796.95,1110.52L809.96,1123.53M818.64,1114.86L805.63,1127.87M796.95,1119.20L809.96,1132.20M818.64,1123.53L805.63,1136.54M814.30,1075.83L827.31,1088.84M835.98,1080.17L822.97,1093.18M814.30,1084.50L827.31,1097.51M835.98,1088.84L822.97,1101.85M814.30,1093.18L827.31,1106.19M835.98,1097.51L822.97,1110.52M814.30,1101.85L827.31,1114.86M835.98,1106.19L822.97,1119.20M814.30,1110.52L827.31,1123.53M835.98,1114.86L822.97,1127.87M814.30,1119.20L827.31,1132.20M835.98,1123.53L822.97,1136.54M831.65,1075.83L844.66,1088.84M853.33,1080.17L840.32,1093.18M831.65,1084.50L844.66,1097.51M853.33,1088.84L840.32,1101.85M831.65,1093.18L844.66,1106.19M853.33,1097.51L840.32,1110.52M831.65,1101.85L844.66,1114.86M853.33,1106.19L840.32,1119.20M831.65,1110.52L844.66,1123.53M853.33,1114.86L840.32,1127.87M831.65,1119.20L844.66,1132.20M853.33,1123.53L840.32,1136.54M848.99,1075.83L862.00,1088.84M870.67,1080.17L857.67,1093.18M848.99,1084.50L862.00,1097.51M870.67,1088.84L857.67,1101.85M848.99,1093.18L862.00,1106.19M870.67,1097.51L857.67,1110.52M848.99,1101.85L862.00,1114.86M870.67,1106.19L857.67,1119.20M848.99,1110.52L862.00,1123.53M870.67,1114.86L857.67,1127.87M848.99,1119.20L862.00,1132.20M870.67,1123.53L857.67,1136.54M866.34,1075.83L879.35,1088.84M888.02,1080.17L875.01,1093.18M866.34,1084.50L879.35,1097.51M888.02,1088.84L875.01,1101.85M866.34,1093.18L879.35,1106.19M888.02,1097.51L875.01,1110.52M866.34,1101.85L879.35,1114.86M888.02,1106.19L875.01,1119.20M866.34,1110.52L879.35,1123.53M888.02,1114.86L875.01,1127.87M866.34,1119.20L879.35,1132.20M888.02,1123.53L875.01,1136.54M883.68,1075.83L896.69,1088.84M905.37,1080.17L892.36,1093.18M883.68,1084.50L896.69,1097.51M905.37,1088.84L892.36,1101.85M883.68,1093.18L896.69,1106.19M905.37,1097.51L892.36,1110.52M883.68,1101.85L896.69,1114.86M905.37,1106.19L892.36,1119.20M883.68,1110.52L896.69,1123.53M905.37,1114.86L892.36,1127.87M883.68,1119.20L896.69,1132.20M905.37,1123.53L892.36,1136.54M901.03,1075.83L914.04,1088.84M922.71,1080.17L909.70,1093.18M901.03,1084.50L914.04,1097.51M922.71,1088.84L909.70,1101.85M901.03,1093.18L914.04,1106.19M922.71,1097.51L909.70,1110.52M901.03,1101.85L914.04,1114.86M922.71,1106.19L909.70,1119.20M901.03,1110.52L914.04,1123.53M922.71,1114.86L909.70,1127.87M901.03,1119.20L914.04,1132.20M922.71,1123.53L909.70,1136.54" fill="none" stroke="#333333" stroke-width="1" stroke-linecap="butt"/>
<path d="M610.00,983.95 L612.00,983.95 L614.00,983.95 L616.00,983.95 L618.00,983.95 L620.00,983.95 L622.00,983.95 L624.00,983.95 L626.00,983.95 L627.99,983.95 L629.99,983.94 L631.99,983.94 L633.99,983.94 L636.00,983.94 L638.02,983.94 L640.02,983.95 L641.85,983.93 L643.76,983.87 L645.82,983.80 L648.03,983.77 L650.33,983.84 L652.71,984.03 L654.96,984.32 L657.04,984.65 L659.13,985.02 L661.24,985.44 L663.38,985.91 L665.52,986.46 L667.66,987.08 L669.81,987.80 L671.97,988.62 L674.04,989.51 L676.02,990.44 L677.96,991.43 L679.88,992.46 L681.75,993.53 L683.62,994.67 L685.45,995.84 L687.26,997.08 L689.06,998.40 L690.83,999.79 L692.57,1001.29 L694.25,1002.87 L695.82,1004.48 L697.32,1006.12 L698.75,1007.80 L700.12,1009.51 L701.43,1011.23 L702.68,1012.96 L703.91,1014.72 L705.14,1016.63 L706.29,1018.57 L707.36,1020.54 L708.35,1022.53 L709.27,1024.53 L710.12,1026.54 L710.92,1028.54 L711.68,1030.65 L712.38,1032.90 L712.96,1035.18 L713.41,1037.41 L713.77,1039.55 L714.07,1041.60 L714.36,1043.86 L714.55,1046.13 L714.65,1048.26 L714.73,1050.26 L714.81,1052.14 L714.95,1053.89 L715.15,1055.51 L715.45,1057.38 L715.77,1059.24 L716.13,1061.02 L716.52,1062.74 L716.97,1064.38 L717.49,1065.99 L718.10,1067.59 L718.81,1069.30 L719.55,1070.99 L720.33,1072.65 L721.15,1074.28 L722.00,1075.86 L722.89,1077.39 L723.81,1078.87 L724.79,1080.28 L725.84,1081.68 L726.97,1083.08 L728.14,1084.45 L729.35,1085.80 L730.62,1087.12 L731.89,1088.38 L733.22,1089.62 L734.57,1090.81 L735.93,1091.93 L737.34,1093.02 L738.81,1094.07 L740.30,1095.07 L741.83,1096.04 L743.39,1096.96 L744.95,1097.83 L746.54,1098.65 L748.16,1099.41 L749.77,1100.10 L751.39,1100.74 L753.00,1101.28 L754.61,1101.74 L756.26,1102.13 L757.96,1102.46 L759.72,1102.73 L761.54,1102.96 L763.42,1103.15 L765.33,1103.32 L767.29,1103.48 L769.24,1103.62 L771.07,1103.73 L772.94,1103.80 L774.83,1103.83 L776.75,1103.83 L778.71,1103.82 L780.69,1103.80 L782.70,1103.78 L784.72,1103.76 L786.74,1103.75 L788.77,1103.75 L790.78,1103.75 L792.78,1103.76 L794.77,1103.76 L796.77,1103.76 L798.77,1103.76 L800.76,1103.76 L802.76,1103.76 L804.76,1103.76 L806.76,1103.76 L808.76,1103.76 L810.76,1103.76 L812.76,1103.76 L814.76,1103.76 L816.76,1103.76 L818.76,1103.75 L820.76,1103.75 L822.76,1103.75 L824.76,1103.75 L826.76,1103.75 L828.76,1103.75 L830.76,1103.75 L832.76,1103.75 L834.76,1103.75 L836.76,1103.75 L838.76,1103.75 L840.76,1103.75 L842.76,1103.75 L844.76,1103.75 L846.76,1103.75 L848.76,1103.75 L850.76,1103.75 L852.76,1103.75 L854.76,1103.75 L856.76,1103.75 L858.76,1103.75 L860.76,1103.75 L862.76,1103.75 L864.76,1103.75 L866.76,1103.75 L868.76,1103.75 L870.76,1103.75 L872.76,1103.75 L874.76,1103.75 L876.76,1103.75 L878.76,1103.75 L880.76,1103.75 L882.76,1103.75 L884.76,1103.75 L886.76,1103.75 L888.76,1103.75 L890.76,1103.75 L892.76,1103.75 L894.76,1103.75 L896.76,1103.75 L898.00,1103.75" fill="none" stroke="#555555" stroke-width="1"/>
<path d="M610.00,997.25 L612.00,997.25 L614.00,997.25 L616.00,997.25 L618.00,997.25 L620.00,997.25 L622.00,997.25 L624.00,997.25 L626.00,997.25 L628.01,997.25 L630.01,997.24 L632.01,997.24 L634.01,997.24 L636.00,997.24 L637.98,997.24 L639.98,997.25 L642.15,997.23 L644.24,997.16 L646.18,997.10 L647.97,997.07 L649.66,997.12 L651.27,997.25 L652.98,997.48 L654.86,997.77 L656.70,998.10 L658.52,998.45 L660.28,998.85 L662.02,999.29 L663.72,999.78 L665.36,1000.33 L666.94,1000.93 L668.55,1001.63 L670.19,1002.40 L671.81,1003.22 L673.42,1004.08 L675.01,1005.00 L676.56,1005.94 L678.10,1006.93 L679.59,1007.95 L681.02,1008.99 L682.39,1010.07 L683.68,1011.18 L684.92,1012.34 L686.14,1013.59 L687.33,1014.90 L688.50,1016.27 L689.63,1017.69 L690.74,1019.15 L691.84,1020.66 L692.89,1022.18 L693.84,1023.63 L694.72,1025.13 L695.56,1026.67 L696.35,1028.27 L697.10,1029.90 L697.81,1031.57 L698.49,1033.29 L699.09,1034.94 L699.58,1036.51 L699.98,1038.10 L700.33,1039.80 L700.63,1041.60 L700.91,1043.51 L701.13,1045.22 L701.27,1046.93 L701.36,1048.80 L701.44,1050.79 L701.54,1052.91 L701.71,1055.15 L702.00,1057.50 L702.33,1059.57 L702.70,1061.66 L703.12,1063.80 L703.62,1065.98 L704.23,1068.20 L704.94,1070.39 L705.75,1072.53 L706.58,1074.52 L707.44,1076.49 L708.36,1078.45 L709.34,1080.40 L710.38,1082.34 L711.50,1084.27 L712.70,1086.18 L713.99,1088.06 L715.35,1089.86 L716.72,1091.57 L718.16,1093.24 L719.62,1094.86 L721.12,1096.43 L722.69,1097.98 L724.29,1099.48 L725.94,1100.92 L727.66,1102.35 L729.42,1103.70 L731.20,1104.98 L733.03,1106.21 L734.88,1107.39 L736.76,1108.50 L738.70,1109.57 L740.66,1110.58 L742.67,1111.53 L744.73,1112.41 L746.84,1113.23 L749.01,1113.97 L751.25,1114.61 L753.49,1115.14 L755.72,1115.57 L757.91,1115.91 L760.06,1116.17 L762.16,1116.39 L764.23,1116.57 L766.26,1116.73 L768.30,1116.89 L770.46,1117.01 L772.59,1117.09 L774.70,1117.13 L776.78,1117.13 L778.82,1117.12 L780.84,1117.10 L782.83,1117.08 L784.81,1117.06 L786.79,1117.05 L788.76,1117.05 L790.75,1117.05 L792.75,1117.06 L794.76,1117.06 L796.76,1117.06 L798.76,1117.06 L800.76,1117.06 L802.77,1117.06 L804.77,1117.06 L806.77,1117.06 L808.77,1117.06 L810.77,1117.06 L812.77,1117.06 L814.77,1117.06 L816.77,1117.06 L818.77,1117.05 L820.77,1117.05 L822.77,1117.05 L824.77,1117.05 L826.77,1117.05 L828.77,1117.05 L830.76,1117.05 L832.76,1117.05 L834.76,1117.05 L836.76,1117.05 L838.76,1117.05 L840.76,1117.05 L842.76,1117.05 L844.76,1117.05 L846.76,1117.05 L848.76,1117.05 L850.76,1117.05 L852.76,1117.05 L854.76,1117.05 L856.76,1117.05 L858.76,1117.05 L860.76,1117.05 L862.76,1117.05 L864.76,1117.05 L866.76,1117.05 L868.76,1117.05 L870.76,1117.05 L872.76,1117.05 L874.76,1117.05 L876.76,1117.05 L878.76,1117.05 L880.76,1117.05 L882.76,1117.05 L884.76,1117.05 L886.76,1117.05 L888.76,1117.05 L890.76,1117.05 L892.76,1117.05 L894.76,1117.05 L896.76,1117.05 L898.00,1117.05" fill="none" stroke="#555555" stroke-width="1"/>
<path d="M808.3,1081.5 L833.5,1081.5 L820,1138.2 L794.5,1138.2Z" fill="#fff" stroke="none"/>
<line x1="807.3" y1="1081.5" x2="793.5" y2="1138.2" />
<line x1="832.5" y1="1081.5" x2="819" y2="1138.2" />
<path d="M530.8,968.3 L534.2,957.5 Q535.2,954.6 538.6,955.3 L556.7,961.3 L575,961.3 Q578.6,961.3 579.4,965.5 L580,968.3" fill="#fff"/>
<rect x="483.3" y="968.3" width="146.7" height="44.2" fill="#fff" rx="6.5"/>
<line x1="483.3" y1="990.4" x2="630" y2="990.4" />
<path d="M927,1097.3 L966.7,1074.5 L992.8,1074.5 L1001.7,1084.5 L1001.7,1134.7 L992.8,1145.2 L966.7,1145.2 L927,1122.5Z" fill="#fff"/>
<path d="M992.8,1074.5 L985.3,1085.7 L985.3,1133.5 L992.8,1145.2" fill="none"/>
<path d="M994.5,1084.4 L1028.4,1084.4 A5.199999999999932,5.199999999999932 0 0 1 1028.4,1094.8 L994.5,1094.8 A3.119999999999959,5.199999999999932 0 0 1 994.5,1084.4Z" fill="#fff"/>
<path d="M999.2,1084.4 A2.599999999999966,5.199999999999932 0 0 0 999.2,1094.8" fill="none"/>
<line x1="1013.3" y1="1084.4" x2="1013.3" y2="1094.8" />
<path d="M994.5,1122.5 L1028.3999999999999,1122.5 A5.2000000000000455,5.2000000000000455 0 0 1 1028.3999999999999,1132.9 L994.5,1132.9 A3.120000000000027,5.2000000000000455 0 0 1 994.5,1122.5Z" fill="#fff"/>
<path d="M999.2,1122.5 A2.6000000000000227,5.2000000000000455 0 0 0 999.2,1132.9" fill="none"/>
<line x1="1013.3" y1="1122.5" x2="1013.3" y2="1132.9" />
<path d="M930.5,1098.8 L966.7,1086.8 L966.7,1133.5 L930.5,1121.1Z" fill="none"/>
<rect x="937.5" y="1101" width="17.5" height="18.5" fill="#fff"/>
<path d="M937.5,1101 L934,1103.5 L934,1117 L937.5,1119.5" fill="none"/>
<line x1="939.5" y1="1101" x2="939.5" y2="1119.5" stroke-width="0.7"/>
<line x1="941.4" y1="1101" x2="941.4" y2="1119.5" stroke-width="0.7"/>
<line x1="943.3" y1="1101" x2="943.3" y2="1119.5" stroke-width="0.7"/>
<line x1="945.2" y1="1101" x2="945.2" y2="1119.5" stroke-width="0.7"/>
<line x1="947.1" y1="1101" x2="947.1" y2="1119.5" stroke-width="0.7"/>
<line x1="949.0" y1="1101" x2="949.0" y2="1119.5" stroke-width="0.7"/>
<line x1="950.9" y1="1101" x2="950.9" y2="1119.5" stroke-width="0.7"/>
<line x1="952.8" y1="1101" x2="952.8" y2="1119.5" stroke-width="0.7"/>
<line x1="954.7" y1="1101" x2="954.7" y2="1119.5" stroke-width="0.7"/>
<path d="M927,1097.3 L901,1097.3 Q896.7,1097.3 896.7,1101.5 L896.7,1118.3 Q896.7,1122.5 901,1122.5 L927,1122.5Z" fill="#fff"/>
<path d="M905.8,1097.3 L905.8,1109.2 A1.6,1.6 0 0 0 909.0,1109.2 L909.0,1097.3" fill="none"/>
<path d="M918.4,1097.3 L918.4,1109.2 A1.6,1.6 0 0 0 921.6,1109.2 L921.6,1097.3" fill="none"/>
<path d="M899.6,1122.5 L899.6,1111.3999999999999 A1.6,1.6 0 0 1 902.8000000000001,1111.3999999999999 L902.8000000000001,1122.5" fill="none"/>
<path d="M911.9,1122.5 L911.9,1111.3999999999999 A1.6,1.6 0 0 1 915.1,1111.3999999999999 L915.1,1122.5" fill="none"/>
<path d="M163.25,165.3 A14.4,36.45 0 1 1 167.2,207.4" fill="none"/>
<path d="M160.60,196.20 L170.97,202.71 L163.29,208.14Z" fill="#111" stroke="none"/>
<line x1="213" y1="180.5" x2="150" y2="180.5" />
<path d="M143.80,180.50 L156.20,175.70 L156.20,185.30Z" fill="#111" stroke="none"/>
<circle cx="242" cy="179.9" r="19.6" fill="#fff" stroke-width="1"/>
<text x="242" y="192.50" font-size="38.5" text-anchor="middle" fill="#1c1c1c" stroke="#fff" stroke-width="0.7" style="filter:grayscale(1)">3</text>
<line x1="679.1" y1="211.4" x2="679.1" y2="267" />
<path d="M679.10,277.30 L674.40,265.50 L683.80,265.50Z" fill="#111" stroke="none"/>
<path d="M663.9,258.1 A36.9,14.6 0 1 1 706.8,254.2" fill="none"/>
<path d="M693.90,258.90 L705.52,250.69 L708.12,259.31Z" fill="#111" stroke="none"/>
<circle cx="747.2" cy="242.9" r="19.6" fill="#fff" stroke-width="1"/>
<text x="747.2" y="255.50" font-size="38.5" text-anchor="middle" fill="#1c1c1c" stroke="#fff" stroke-width="0.7" style="filter:grayscale(1)">2</text>
<line x1="731.8" y1="351.2" x2="660" y2="351.2" />
<path d="M650.20,351.20 L662.70,346.60 L662.70,355.80Z" fill="#111" stroke="none"/>
<circle cx="700" cy="382" r="19.6" fill="#fff" stroke-width="1"/>
<text x="700" y="394.60" font-size="38.5" text-anchor="middle" fill="#1c1c1c" stroke="#fff" stroke-width="0.7" style="filter:grayscale(1)">1</text>
<path d="M1016.4,349.6 Q1025.7,384.4 998,401.8" fill="none"/>
<path d="M1009.90,339.30 L1020.49,346.97 L1012.60,352.09Z" fill="#111" stroke="none"/>
<path d="M986.30,406.30 L996.24,397.38 L999.65,406.14Z" fill="#111" stroke="none"/>
<circle cx="1052.4" cy="382" r="19.6" fill="#fff" stroke-width="1"/>
<text x="1051.4" y="394.60" font-size="38.5" text-anchor="middle" fill="#1c1c1c" stroke="#fff" stroke-width="0.7" style="filter:grayscale(1)">7</text>
<line x1="1104.8" y1="622" x2="1104.8" y2="552" />
<path d="M1104.80,540.50 L1109.80,553.00 L1099.80,553.00Z" fill="#111" stroke="none"/>
<circle cx="1141" cy="583.9" r="19.6" fill="#fff" stroke-width="1"/>
<text x="1141" y="596.50" font-size="38.5" text-anchor="middle" fill="#1c1c1c" stroke="#fff" stroke-width="0.7" style="filter:grayscale(1)">4</text>
<line x1="1022.5" y1="752.2" x2="1022.5" y2="681" />
<path d="M1022.50,670.50 L1027.30,682.50 L1017.70,682.50Z" fill="#111" stroke="none"/>
<path d="M1007.4,689.3 A36.75,14.6 0 1 0 1048.2,692.5" fill="none"/>
<path d="M1036.80,688.35 L1049.58,689.15 L1046.75,696.42Z" fill="#111" stroke="none"/>
<circle cx="1091.1" cy="700.8" r="19.6" fill="#fff" stroke-width="1"/>
<text x="1091.1" y="713.40" font-size="38.5" text-anchor="middle" fill="#1c1c1c" stroke="#fff" stroke-width="0.7" style="filter:grayscale(1)">5</text>
<line x1="1022.5" y1="921.8" x2="1022.5" y2="851" />
<path d="M1022.50,840.30 L1027.30,852.30 L1017.70,852.30Z" fill="#111" stroke="none"/>
<path d="M1007.4,859.1 A36.75,14.6 0 1 0 1048.2,862.3" fill="none"/>
<path d="M1036.80,858.15 L1049.58,858.95 L1046.75,866.22Z" fill="#111" stroke="none"/>
<circle cx="1091.3" cy="870.8" r="19.6" fill="#fff" stroke-width="1"/>
<text x="1091.3" y="883.40" font-size="38.5" text-anchor="middle" fill="#1c1c1c" stroke="#fff" stroke-width="0.7" style="filter:grayscale(1)">6</text>
</g>
<g style="filter:grayscale(1)" fill="#1a1a1a" stroke="#fff" stroke-width="0.8" font-family="Liberation Serif, serif"><text transform="translate(70.3,210.7) scale(0.92,1)" font-size="55.5">x</text><text transform="translate(97.9,210.7) scale(0.95,1)" font-size="57">2</text></g>
</svg>
</body></html>
